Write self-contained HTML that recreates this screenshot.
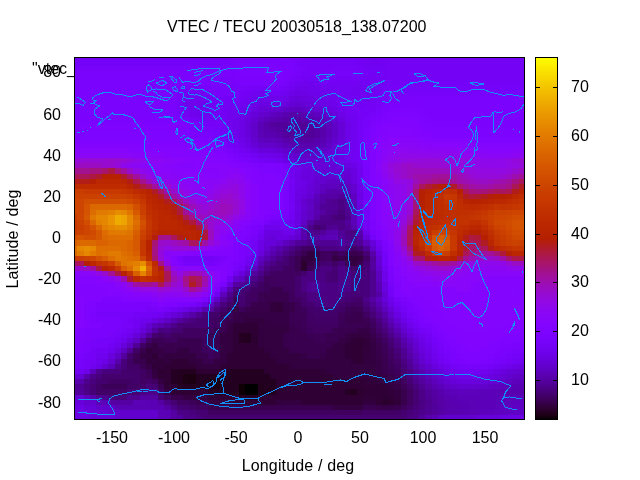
<!DOCTYPE html>
<html><head><meta charset="utf-8">
<style>
html,body{margin:0;padding:0;background:#fff;}
body{width:640px;height:480px;position:relative;overflow:hidden;font-family:"Liberation Sans",sans-serif;font-size:16px;color:#000;}
.t{position:absolute;white-space:nowrap;line-height:16px;height:16px;will-change:transform;}
.r{text-align:right;width:60px;left:1px;}
.c{text-align:center;width:80px;}
</style></head><body>
<div class="t" id="title" style="left:167px;top:19px;">VTEC / TECU 20030518_138.07200</div>
<div class="t" id="key" style="left:32px;top:61px;">"vtec_</div>
<div class="t r" style="top:63.9px;">80</div>
<div class="t r" style="top:106.6px;">60</div>
<div class="t r" style="top:147.7px;">40</div>
<div class="t r" style="top:188.9px;">20</div>
<div class="t r" style="top:230.0px;">0</div>
<div class="t r" style="top:271.1px;">-20</div>
<div class="t r" style="top:312.3px;">-40</div>
<div class="t r" style="top:353.4px;">-60</div>
<div class="t r" style="top:394.5px;">-80</div>
<div class="t c" style="left:71.8px;top:430px;">-150</div>
<div class="t c" style="left:133.9px;top:430px;">-100</div>
<div class="t c" style="left:196.1px;top:430px;">-50</div>
<div class="t c" style="left:258.3px;top:430px;">0</div>
<div class="t c" style="left:320.4px;top:430px;">50</div>
<div class="t c" style="left:382.6px;top:430px;">100</div>
<div class="t c" style="left:444.7px;top:430px;">150</div>
<div class="t" style="left:571px;top:372.0px;">10</div>
<div class="t" style="left:571px;top:323.2px;">20</div>
<div class="t" style="left:571px;top:274.4px;">30</div>
<div class="t" style="left:571px;top:225.6px;">40</div>
<div class="t" style="left:571px;top:176.8px;">50</div>
<div class="t" style="left:571px;top:128.0px;">60</div>
<div class="t" style="left:571px;top:79.2px;">70</div>
<div class="t c" style="left:198px;width:200px;top:458px;letter-spacing:0.15px;">Longitude / deg</div>
<div class="t c" style="left:-87px;width:200px;top:230.5px;letter-spacing:0.15px;transform:rotate(-90deg);">Latitude / deg</div>
<svg width="640" height="480" style="position:absolute;left:0;top:0">
<defs><linearGradient id="cb" x1="0" y1="1" x2="0" y2="0"><stop offset="0.0000" stop-color="#000000"/><stop offset="0.0135" stop-color="#1e0016"/><stop offset="0.0270" stop-color="#2a002b"/><stop offset="0.0405" stop-color="#330040"/><stop offset="0.0541" stop-color="#3b0055"/><stop offset="0.0676" stop-color="#420069"/><stop offset="0.0811" stop-color="#49007c"/><stop offset="0.0946" stop-color="#4e008f"/><stop offset="0.1081" stop-color="#5400a0"/><stop offset="0.1216" stop-color="#5900b0"/><stop offset="0.1351" stop-color="#5e01bf"/><stop offset="0.1486" stop-color="#6201cd"/><stop offset="0.1622" stop-color="#6701d9"/><stop offset="0.1757" stop-color="#6b01e4"/><stop offset="0.1892" stop-color="#6f02ed"/><stop offset="0.2027" stop-color="#7302f4"/><stop offset="0.2162" stop-color="#7703f9"/><stop offset="0.2297" stop-color="#7a03fd"/><stop offset="0.2432" stop-color="#7e04ff"/><stop offset="0.2568" stop-color="#8104ff"/><stop offset="0.2703" stop-color="#8505fd"/><stop offset="0.2838" stop-color="#8806f9"/><stop offset="0.2973" stop-color="#8b07f4"/><stop offset="0.3108" stop-color="#8e08ed"/><stop offset="0.3243" stop-color="#9109e4"/><stop offset="0.3378" stop-color="#940ad9"/><stop offset="0.3514" stop-color="#970bcd"/><stop offset="0.3649" stop-color="#9a0cbf"/><stop offset="0.3784" stop-color="#9d0eb0"/><stop offset="0.3919" stop-color="#a00fa0"/><stop offset="0.4054" stop-color="#a2118f"/><stop offset="0.4189" stop-color="#a5137c"/><stop offset="0.4324" stop-color="#a81569"/><stop offset="0.4459" stop-color="#aa1755"/><stop offset="0.4595" stop-color="#ad1940"/><stop offset="0.4730" stop-color="#af1b2b"/><stop offset="0.4865" stop-color="#b21d16"/><stop offset="0.5000" stop-color="#b42000"/><stop offset="0.5135" stop-color="#b72300"/><stop offset="0.5270" stop-color="#b92500"/><stop offset="0.5405" stop-color="#bb2800"/><stop offset="0.5541" stop-color="#be2b00"/><stop offset="0.5676" stop-color="#c02f00"/><stop offset="0.5811" stop-color="#c23200"/><stop offset="0.5946" stop-color="#c53600"/><stop offset="0.6081" stop-color="#c73900"/><stop offset="0.6216" stop-color="#c93d00"/><stop offset="0.6351" stop-color="#cb4100"/><stop offset="0.6486" stop-color="#cd4600"/><stop offset="0.6622" stop-color="#d04a00"/><stop offset="0.6757" stop-color="#d24f00"/><stop offset="0.6892" stop-color="#d45300"/><stop offset="0.7027" stop-color="#d65800"/><stop offset="0.7162" stop-color="#d85e00"/><stop offset="0.7297" stop-color="#da6300"/><stop offset="0.7432" stop-color="#dc6900"/><stop offset="0.7568" stop-color="#de6f00"/><stop offset="0.7703" stop-color="#e07500"/><stop offset="0.7838" stop-color="#e27b00"/><stop offset="0.7973" stop-color="#e48100"/><stop offset="0.8108" stop-color="#e68800"/><stop offset="0.8243" stop-color="#e88f00"/><stop offset="0.8378" stop-color="#e99600"/><stop offset="0.8514" stop-color="#eb9d00"/><stop offset="0.8649" stop-color="#eda500"/><stop offset="0.8784" stop-color="#efad00"/><stop offset="0.8919" stop-color="#f1b500"/><stop offset="0.9054" stop-color="#f3bd00"/><stop offset="0.9189" stop-color="#f4c600"/><stop offset="0.9324" stop-color="#f6cf00"/><stop offset="0.9459" stop-color="#f8d800"/><stop offset="0.9595" stop-color="#fae100"/><stop offset="0.9730" stop-color="#fceb00"/><stop offset="0.9865" stop-color="#fdf500"/><stop offset="1.0000" stop-color="#ffff00"/></linearGradient></defs>
<g shape-rendering="crispEdges">
<path fill="#7302f5" d="M74 57h3v3h-3zM77 57h7v3h-7zM84 57h6v3h-6zM90 57h6v3h-6zM96 57h6v3h-6zM102 57h6v3h-6zM108 57h7v3h-7zM115 57h6v3h-6zM121 57h6v3h-6zM127 57h6v3h-6zM133 57h7v3h-7zM140 57h6v3h-6zM146 57h6v3h-6zM152 57h6v3h-6zM158 57h6v3h-6zM164 57h7v3h-7zM171 57h6v3h-6zM177 57h6v3h-6zM183 57h6v3h-6zM189 57h7v3h-7zM196 57h6v3h-6zM202 57h6v3h-6zM208 57h6v3h-6zM214 57h6v3h-6zM357 60h6v6h-6zM382 60h6v6h-6zM363 66h7v5h-7zM382 66h6v5h-6zM370 71h6v5h-6zM376 71h6v5h-6zM382 76h6v5h-6zM245 91h6v5h-6zM376 91h6v5h-6zM227 96h6v6h-6zM220 102h7v5h-7zM220 107h7v5h-7zM220 112h7v5h-7zM208 117h6v5h-6zM220 117h7v5h-7zM239 148h6v5h-6zM264 158h6v5h-6zM289 184h6v5h-6zM270 220h6v5h-6zM251 240h7v6h-7zM376 240h6v6h-6zM251 246h7v5h-7zM196 302h6v5h-6zM96 348h6v5h-6zM102 348h6v5h-6z"/>
<path fill="#7402f5" d="M220 57h7v3h-7zM307 57h7v3h-7zM314 57h6v3h-6zM320 57h6v3h-6zM388 57h6v3h-6zM394 57h7v3h-7zM401 57h6v3h-6zM407 57h6v3h-6zM413 57h6v3h-6zM419 57h6v3h-6zM425 57h7v3h-7zM432 57h6v3h-6zM438 57h6v3h-6zM444 57h6v3h-6zM450 57h7v3h-7zM457 57h6v3h-6zM463 57h6v3h-6zM469 57h6v3h-6zM475 57h6v3h-6zM481 57h7v3h-7zM488 57h6v3h-6zM494 57h6v3h-6zM500 57h6v3h-6zM506 57h6v3h-6zM512 57h7v3h-7zM519 57h6v3h-6zM388 60h6v6h-6zM394 60h7v6h-7zM401 60h6v6h-6zM407 60h6v6h-6zM413 60h6v6h-6zM419 60h6v6h-6zM425 60h7v6h-7zM432 60h6v6h-6zM438 60h6v6h-6zM444 60h6v6h-6zM450 60h7v6h-7zM457 60h6v6h-6zM463 60h6v6h-6zM469 60h6v6h-6zM475 60h6v6h-6zM481 60h7v6h-7zM488 60h6v6h-6zM494 60h6v6h-6zM500 60h6v6h-6zM506 60h6v6h-6zM512 60h7v6h-7zM519 60h6v6h-6zM388 66h6v5h-6zM394 66h7v5h-7zM401 66h6v5h-6zM407 66h6v5h-6zM413 66h6v5h-6zM419 66h6v5h-6zM425 66h7v5h-7zM432 66h6v5h-6zM438 66h6v5h-6zM444 66h6v5h-6zM450 66h7v5h-7zM457 66h6v5h-6zM463 66h6v5h-6zM469 66h6v5h-6zM475 66h6v5h-6zM481 66h7v5h-7zM488 66h6v5h-6zM494 66h6v5h-6zM500 66h6v5h-6zM506 66h6v5h-6zM512 66h7v5h-7zM519 66h6v5h-6zM382 71h6v5h-6zM388 71h6v5h-6zM394 71h7v5h-7zM401 71h6v5h-6zM407 71h6v5h-6zM413 71h6v5h-6zM419 71h6v5h-6zM425 71h7v5h-7zM432 71h6v5h-6zM438 71h6v5h-6zM444 71h6v5h-6zM450 71h7v5h-7zM457 71h6v5h-6zM463 71h6v5h-6zM469 71h6v5h-6zM475 71h6v5h-6zM481 71h7v5h-7zM488 71h6v5h-6zM494 71h6v5h-6zM500 71h6v5h-6zM506 71h6v5h-6zM512 71h7v5h-7zM519 71h6v5h-6zM388 76h6v5h-6zM394 76h7v5h-7zM401 76h6v5h-6zM407 76h6v5h-6zM413 76h6v5h-6zM419 76h6v5h-6zM425 76h7v5h-7zM432 76h6v5h-6zM438 76h6v5h-6zM444 76h6v5h-6zM450 76h7v5h-7zM457 76h6v5h-6zM463 76h6v5h-6zM469 76h6v5h-6zM475 76h6v5h-6zM481 76h7v5h-7zM488 76h6v5h-6zM494 76h6v5h-6zM500 76h6v5h-6zM506 76h6v5h-6zM512 76h7v5h-7zM519 76h6v5h-6zM289 81h6v5h-6zM388 81h6v5h-6zM394 81h7v5h-7zM258 86h6v5h-6zM283 86h6v5h-6zM233 96h6v6h-6zM370 102h6v5h-6zM357 112h6v5h-6zM220 122h7v5h-7zM220 127h7v5h-7zM289 179h6v5h-6zM289 204h6v6h-6zM363 225h7v5h-7zM208 256h6v5h-6zM245 256h6v5h-6zM239 266h6v5h-6zM413 323h6v5h-6zM432 343h6v5h-6zM90 348h6v5h-6zM438 353h6v6h-6zM519 353h6v6h-6zM90 359h6v5h-6zM450 364h7v5h-7z"/>
<path fill="#7502f7" d="M227 57h6v3h-6zM301 60h6v6h-6zM307 66h7v5h-7zM314 66h6v5h-6zM320 66h6v5h-6zM357 66h6v5h-6zM307 71h7v5h-7zM314 71h6v5h-6zM320 71h6v5h-6zM326 76h6v5h-6zM332 76h6v5h-6zM338 76h7v5h-7zM345 76h6v5h-6zM351 76h6v5h-6zM264 86h6v5h-6zM208 91h6v5h-6zM239 91h6v5h-6zM177 96h6v6h-6zM214 96h6v6h-6zM177 107h6v5h-6zM370 107h6v5h-6zM189 117h7v5h-7zM214 122h6v5h-6zM357 148h6v5h-6zM363 204h7v6h-7zM127 318h6v5h-6zM425 333h7v5h-7zM90 353h6v6h-6zM84 359h6v5h-6zM506 359h6v5h-6zM84 364h6v5h-6zM488 364h6v5h-6z"/>
<path fill="#7703f9" d="M233 57h6v3h-6zM332 71h6v5h-6zM351 71h6v5h-6zM289 76h6v5h-6zM239 86h6v5h-6zM270 86h6v5h-6zM214 91h6v5h-6zM382 91h6v5h-6zM370 112h6v5h-6zM220 138h7v5h-7zM283 163h6v5h-6zM152 307h6v5h-6zM407 312h6v6h-6zM121 323h6v5h-6zM127 323h6v5h-6zM115 328h6v5h-6zM108 333h7v5h-7zM90 338h6v5h-6zM96 343h6v5h-6zM102 343h6v5h-6zM500 359h6v5h-6zM74 364h3v5h-3z"/>
<path fill="#7803fb" d="M239 57h6v3h-6zM245 57h6v3h-6zM251 57h7v3h-7zM258 57h6v3h-6zM264 57h6v3h-6zM270 57h6v3h-6zM289 57h6v3h-6zM233 60h6v6h-6zM227 66h6v5h-6zM220 76h7v5h-7zM227 76h6v5h-6zM220 81h7v5h-7zM233 81h6v5h-6zM214 86h6v5h-6zM388 91h6v5h-6zM394 91h7v5h-7zM401 91h6v5h-6zM407 91h6v5h-6zM413 91h6v5h-6zM419 91h6v5h-6zM425 91h7v5h-7zM432 91h6v5h-6zM438 91h6v5h-6zM444 91h6v5h-6zM450 91h7v5h-7zM457 91h6v5h-6zM463 91h6v5h-6zM469 91h6v5h-6zM475 91h6v5h-6zM481 91h7v5h-7zM488 91h6v5h-6zM494 91h6v5h-6zM500 91h6v5h-6zM506 91h6v5h-6zM512 91h7v5h-7zM519 91h6v5h-6zM382 96h6v6h-6zM363 122h7v5h-7zM239 153h6v5h-6zM363 184h7v5h-7zM283 215h6v5h-6zM264 220h6v5h-6zM388 282h6v5h-6zM401 302h6v5h-6zM96 312h6v6h-6zM102 312h6v6h-6zM108 312h7v6h-7zM115 312h6v6h-6zM121 312h6v6h-6zM127 312h6v6h-6zM413 318h6v5h-6zM425 328h7v5h-7zM438 343h6v5h-6zM512 348h7v5h-7zM444 353h6v6h-6zM74 359h3v5h-3zM494 359h6v5h-6zM469 364h6v5h-6z"/>
<path fill="#7903fc" d="M276 57h7v3h-7zM283 57h6v3h-6zM289 60h6v6h-6zM289 66h6v5h-6zM74 71h3v5h-3zM77 71h7v5h-7zM84 71h6v5h-6zM90 71h6v5h-6zM96 71h6v5h-6zM102 71h6v5h-6zM108 71h7v5h-7zM115 71h6v5h-6zM121 71h6v5h-6zM127 71h6v5h-6zM133 71h7v5h-7zM140 71h6v5h-6zM146 71h6v5h-6zM152 71h6v5h-6zM158 71h6v5h-6zM164 71h7v5h-7zM171 71h6v5h-6zM177 71h6v5h-6zM183 71h6v5h-6zM189 71h7v5h-7zM196 71h6v5h-6zM202 71h6v5h-6zM208 71h6v5h-6zM214 71h6v5h-6zM220 71h7v5h-7zM227 71h6v5h-6zM289 71h6v5h-6zM74 76h3v5h-3zM77 76h7v5h-7zM84 76h6v5h-6zM90 76h6v5h-6zM96 76h6v5h-6zM102 76h6v5h-6zM108 76h7v5h-7zM115 76h6v5h-6zM121 76h6v5h-6zM127 76h6v5h-6zM133 76h7v5h-7zM140 76h6v5h-6zM146 76h6v5h-6zM152 76h6v5h-6zM158 76h6v5h-6zM164 76h7v5h-7zM171 76h6v5h-6zM177 76h6v5h-6zM183 76h6v5h-6zM189 76h7v5h-7zM196 76h6v5h-6zM202 76h6v5h-6zM208 76h6v5h-6zM214 76h6v5h-6zM283 76h6v5h-6zM74 81h3v5h-3zM77 81h7v5h-7zM84 81h6v5h-6zM90 81h6v5h-6zM96 81h6v5h-6zM102 81h6v5h-6zM108 81h7v5h-7zM115 81h6v5h-6zM121 81h6v5h-6zM127 81h6v5h-6zM133 81h7v5h-7zM140 81h6v5h-6zM146 81h6v5h-6zM152 81h6v5h-6zM158 81h6v5h-6zM164 81h7v5h-7zM171 81h6v5h-6zM177 81h6v5h-6zM183 81h6v5h-6zM189 81h7v5h-7zM196 81h6v5h-6zM202 81h6v5h-6zM208 81h6v5h-6zM214 81h6v5h-6zM239 81h6v5h-6zM245 81h6v5h-6zM251 81h7v5h-7zM258 81h6v5h-6zM74 86h3v5h-3zM77 86h7v5h-7zM84 86h6v5h-6zM90 86h6v5h-6zM96 86h6v5h-6zM102 86h6v5h-6zM108 86h7v5h-7zM115 86h6v5h-6zM121 86h6v5h-6zM127 86h6v5h-6zM133 86h7v5h-7zM140 86h6v5h-6zM146 86h6v5h-6zM152 86h6v5h-6zM158 86h6v5h-6zM164 86h7v5h-7zM171 86h6v5h-6zM74 91h3v5h-3zM77 91h7v5h-7zM84 91h6v5h-6zM90 91h6v5h-6zM96 91h6v5h-6zM102 91h6v5h-6zM108 91h7v5h-7zM115 91h6v5h-6zM121 91h6v5h-6zM127 91h6v5h-6zM133 91h7v5h-7zM140 91h6v5h-6zM146 91h6v5h-6zM152 91h6v5h-6zM158 91h6v5h-6zM164 91h7v5h-7zM171 91h6v5h-6zM74 96h3v6h-3zM77 96h7v6h-7zM84 96h6v6h-6zM90 96h6v6h-6zM96 96h6v6h-6zM102 96h6v6h-6zM108 96h7v6h-7zM115 96h6v6h-6zM121 96h6v6h-6zM127 96h6v6h-6zM133 96h7v6h-7zM140 96h6v6h-6zM146 96h6v6h-6zM152 96h6v6h-6zM158 96h6v6h-6zM164 96h7v6h-7zM171 96h6v6h-6zM388 96h6v6h-6zM419 96h6v6h-6zM425 96h7v6h-7zM432 96h6v6h-6zM438 96h6v6h-6zM444 96h6v6h-6zM450 96h7v6h-7zM457 96h6v6h-6zM463 96h6v6h-6zM469 96h6v6h-6zM475 96h6v6h-6zM481 96h7v6h-7zM488 96h6v6h-6zM494 96h6v6h-6zM500 96h6v6h-6zM506 96h6v6h-6zM512 96h7v6h-7zM519 96h6v6h-6zM74 102h3v5h-3zM77 102h7v5h-7zM84 102h6v5h-6zM90 102h6v5h-6zM96 102h6v5h-6zM102 102h6v5h-6zM108 102h7v5h-7zM115 102h6v5h-6zM121 102h6v5h-6zM127 102h6v5h-6zM133 102h7v5h-7zM140 102h6v5h-6zM146 102h6v5h-6zM152 102h6v5h-6zM158 102h6v5h-6zM164 102h7v5h-7zM171 102h6v5h-6zM382 102h6v5h-6zM74 107h3v5h-3zM77 107h7v5h-7zM84 107h6v5h-6zM90 107h6v5h-6zM96 107h6v5h-6zM102 107h6v5h-6zM108 107h7v5h-7zM115 107h6v5h-6zM121 107h6v5h-6zM127 107h6v5h-6zM133 107h7v5h-7zM140 107h6v5h-6zM146 107h6v5h-6zM152 107h6v5h-6zM158 107h6v5h-6zM164 107h7v5h-7zM171 107h6v5h-6zM74 112h3v5h-3zM77 112h7v5h-7zM84 112h6v5h-6zM90 112h6v5h-6zM96 112h6v5h-6zM102 112h6v5h-6zM108 112h7v5h-7zM115 112h6v5h-6zM121 112h6v5h-6zM127 112h6v5h-6zM133 112h7v5h-7zM140 112h6v5h-6zM146 112h6v5h-6zM152 112h6v5h-6zM158 112h6v5h-6zM164 112h7v5h-7zM171 112h6v5h-6zM376 112h6v5h-6zM177 117h6v5h-6zM189 122h7v5h-7zM363 127h7v5h-7zM196 132h6v6h-6zM202 132h6v6h-6zM208 132h6v6h-6zM363 132h7v6h-7zM220 143h7v5h-7zM227 148h6v5h-6zM283 168h6v6h-6zM363 174h7v5h-7zM283 179h6v5h-6zM363 179h7v5h-7zM283 184h6v5h-6zM283 189h6v5h-6zM283 194h6v5h-6zM283 199h6v5h-6zM276 215h7v5h-7zM388 276h6v6h-6zM220 282h7v5h-7zM96 307h6v5h-6zM102 307h6v5h-6zM108 307h7v5h-7zM115 307h6v5h-6zM121 307h6v5h-6zM127 307h6v5h-6zM133 307h7v5h-7zM140 307h6v5h-6zM407 307h6v5h-6zM108 318h7v5h-7zM115 318h6v5h-6zM419 323h6v5h-6zM432 333h6v5h-6zM84 343h6v5h-6zM84 348h6v5h-6zM77 353h7v6h-7zM500 353h6v6h-6zM450 359h7v5h-7z"/>
<path fill="#7602f8" d="M295 57h6v3h-6zM301 66h6v5h-6zM332 66h6v5h-6zM338 66h7v5h-7zM345 66h6v5h-6zM351 66h6v5h-6zM326 71h6v5h-6zM357 71h6v5h-6zM245 86h6v5h-6zM388 86h6v5h-6zM394 86h7v5h-7zM177 91h6v5h-6zM227 91h6v5h-6zM233 91h6v5h-6zM376 102h6v5h-6zM177 112h6v5h-6zM196 122h6v5h-6zM233 148h6v5h-6zM245 153h6v5h-6zM363 199h7v5h-7zM363 210h7v5h-7zM363 215h7v5h-7zM146 307h6v5h-6zM438 348h6v5h-6zM444 359h6v5h-6z"/>
<path fill="#7402f6" d="M301 57h6v3h-6zM307 60h7v6h-7zM314 60h6v6h-6zM320 60h6v6h-6zM326 60h6v6h-6zM332 60h6v6h-6zM338 60h7v6h-7zM345 60h6v6h-6zM351 60h6v6h-6zM363 71h7v5h-7zM295 76h6v5h-6zM320 76h6v5h-6zM357 76h6v5h-6zM401 81h6v5h-6zM407 81h6v5h-6zM413 81h6v5h-6zM419 81h6v5h-6zM425 81h7v5h-7zM432 81h6v5h-6zM438 81h6v5h-6zM444 81h6v5h-6zM450 81h7v5h-7zM457 81h6v5h-6zM463 81h6v5h-6zM469 81h6v5h-6zM475 81h6v5h-6zM481 81h7v5h-7zM488 81h6v5h-6zM494 81h6v5h-6zM500 81h6v5h-6zM506 81h6v5h-6zM512 81h7v5h-7zM519 81h6v5h-6zM251 86h7v5h-7zM382 86h6v5h-6zM376 96h6v6h-6zM177 102h6v5h-6zM363 107h7v5h-7zM214 117h6v5h-6zM357 117h6v5h-6zM357 122h6v5h-6zM357 127h6v5h-6zM220 132h7v6h-7zM357 132h6v6h-6zM357 138h6v5h-6zM357 143h6v5h-6zM258 158h6v5h-6zM363 220h7v5h-7zM258 230h6v5h-6zM183 256h6v5h-6zM189 256h7v5h-7zM196 256h6v5h-6zM202 256h6v5h-6zM388 292h6v5h-6zM401 307h6v5h-6zM133 312h7v6h-7zM140 312h6v6h-6zM146 312h6v6h-6zM419 328h6v5h-6z"/>
<path fill="#7302f4" d="M326 57h6v3h-6zM332 57h6v3h-6zM338 57h7v3h-7zM345 57h6v3h-6zM382 57h6v3h-6zM301 76h6v5h-6zM314 76h6v5h-6zM363 76h7v5h-7zM376 76h6v5h-6zM320 81h6v5h-6zM326 81h6v5h-6zM332 81h6v5h-6zM338 81h7v5h-7zM345 81h6v5h-6zM351 81h6v5h-6zM382 81h6v5h-6zM202 91h6v5h-6zM208 96h6v6h-6zM239 96h6v6h-6zM214 102h6v5h-6zM345 102h6v5h-6zM351 102h6v5h-6zM363 102h7v5h-7zM214 107h6v5h-6zM351 107h6v5h-6zM357 107h6v5h-6zM214 112h6v5h-6zM233 143h6v5h-6zM289 189h6v5h-6zM289 194h6v5h-6zM289 199h6v5h-6zM289 210h6v5h-6zM227 276h6v6h-6zM394 302h7v5h-7zM171 307h6v5h-6zM133 318h7v5h-7zM407 318h6v5h-6zM133 323h7v5h-7zM127 328h6v5h-6zM121 333h6v5h-6zM115 338h6v5h-6zM108 343h7v5h-7zM469 369h6v5h-6z"/>
<path fill="#7202f3" d="M351 57h6v3h-6zM370 66h6v5h-6zM376 66h6v5h-6zM307 76h7v5h-7zM376 86h6v5h-6zM270 91h6v5h-6zM276 91h7v5h-7zM357 102h6v5h-6zM351 112h6v5h-6zM202 117h6v5h-6zM227 138h6v5h-6zM251 153h7v5h-7zM351 153h6v5h-6zM270 158h6v5h-6zM276 220h7v5h-7zM152 312h6v6h-6zM512 359h7v5h-7zM494 364h6v5h-6z"/>
<path fill="#7202f2" d="M357 57h6v3h-6zM363 60h7v6h-7zM357 81h6v5h-6zM370 81h6v5h-6zM376 81h6v5h-6zM332 86h6v5h-6zM338 86h7v5h-7zM345 86h6v5h-6zM183 91h6v5h-6zM189 91h7v5h-7zM196 91h6v5h-6zM345 96h6v6h-6zM351 96h6v6h-6zM370 96h6v6h-6zM227 102h6v5h-6zM233 102h6v5h-6zM345 107h6v5h-6zM183 112h6v5h-6zM196 117h6v5h-6zM351 158h6v5h-6zM289 163h6v5h-6zM357 163h6v5h-6zM289 215h6v5h-6zM283 220h6v5h-6zM208 297h6v5h-6zM425 338h7v5h-7zM432 348h6v5h-6zM74 369h3v5h-3zM77 369h7v5h-7zM463 369h6v5h-6zM475 369h6v5h-6z"/>
<path fill="#7002ee" d="M363 57h7v3h-7zM301 81h6v5h-6zM320 86h6v5h-6zM189 96h7v6h-7zM196 96h6v6h-6zM332 96h6v6h-6zM233 107h6v5h-6zM189 112h7v5h-7zM227 112h6v5h-6zM227 117h6v5h-6zM227 122h6v5h-6zM239 143h6v5h-6zM276 158h7v5h-7zM233 271h6v5h-6zM432 353h6v6h-6z"/>
<path fill="#6e02ec" d="M370 57h6v3h-6zM251 96h7v6h-7zM264 225h6v5h-6zM270 225h6v5h-6z"/>
<path fill="#7002ef" d="M376 57h6v3h-6zM370 60h6v6h-6zM289 86h6v5h-6zM357 86h6v5h-6zM363 86h7v5h-7zM357 91h6v5h-6zM363 91h7v5h-7zM183 96h6v6h-6zM183 107h6v5h-6zM351 122h6v5h-6zM227 127h6v5h-6zM351 127h6v5h-6zM227 132h6v6h-6zM351 132h6v6h-6zM233 138h6v5h-6zM351 138h6v5h-6zM351 143h6v5h-6zM345 153h6v5h-6zM258 235h6v5h-6zM251 251h7v5h-7zM245 261h6v5h-6zM96 359h6v5h-6zM500 364h6v5h-6z"/>
<path fill="#7502f8" d="M74 60h3v6h-3zM77 60h7v6h-7zM84 60h6v6h-6zM90 60h6v6h-6zM96 60h6v6h-6zM102 60h6v6h-6zM108 60h7v6h-7zM115 60h6v6h-6zM121 60h6v6h-6zM127 60h6v6h-6zM133 60h7v6h-7zM140 60h6v6h-6zM146 60h6v6h-6zM152 60h6v6h-6zM158 60h6v6h-6zM164 60h7v6h-7zM171 60h6v6h-6zM177 60h6v6h-6zM183 60h6v6h-6zM189 60h7v6h-7zM196 60h6v6h-6zM202 60h6v6h-6zM208 60h6v6h-6zM214 60h6v6h-6zM220 60h7v6h-7zM326 66h6v5h-6zM301 71h6v5h-6zM183 86h6v5h-6zM189 86h7v5h-7zM196 86h6v5h-6zM220 96h7v6h-7zM363 112h7v5h-7zM202 122h6v5h-6zM208 122h6v5h-6zM227 143h6v5h-6zM357 153h6v5h-6zM357 158h6v5h-6zM363 189h7v5h-7zM363 194h7v5h-7zM382 256h6v5h-6zM382 261h6v5h-6zM388 287h6v5h-6zM512 353h7v6h-7z"/>
<path fill="#7603f9" d="M227 60h6v6h-6zM295 60h6v6h-6zM202 86h6v5h-6zM227 86h6v5h-6zM233 86h6v5h-6zM276 86h7v5h-7zM401 86h6v5h-6zM407 86h6v5h-6zM413 86h6v5h-6zM419 86h6v5h-6zM425 86h7v5h-7zM432 86h6v5h-6zM438 86h6v5h-6zM444 86h6v5h-6zM450 86h7v5h-7zM457 86h6v5h-6zM463 86h6v5h-6zM469 86h6v5h-6zM475 86h6v5h-6zM481 86h7v5h-7zM488 86h6v5h-6zM494 86h6v5h-6zM500 86h6v5h-6zM506 86h6v5h-6zM512 86h7v5h-7zM519 86h6v5h-6zM214 127h6v5h-6zM370 235h6v5h-6zM382 251h6v5h-6zM164 307h7v5h-7zM121 328h6v5h-6zM115 333h6v5h-6zM96 338h6v5h-6zM102 338h6v5h-6zM108 338h7v5h-7zM84 353h6v6h-6zM77 364h7v5h-7zM457 364h6v5h-6z"/>
<path fill="#7a03fc" d="M239 60h6v6h-6zM233 76h6v5h-6zM394 96h7v6h-7zM401 96h6v6h-6zM407 96h6v6h-6zM413 96h6v6h-6zM370 117h6v5h-6zM363 138h7v5h-7zM233 153h6v5h-6z"/>
<path fill="#7a03fd" d="M245 60h6v6h-6zM251 60h7v6h-7zM258 60h6v6h-6zM264 60h6v6h-6zM270 60h6v6h-6zM276 60h7v6h-7zM283 60h6v6h-6zM233 66h6v5h-6zM264 81h6v5h-6zM276 81h7v5h-7zM425 102h7v5h-7zM432 102h6v5h-6zM438 102h6v5h-6zM444 102h6v5h-6zM450 102h7v5h-7zM457 102h6v5h-6zM463 102h6v5h-6zM469 102h6v5h-6zM475 102h6v5h-6zM481 102h7v5h-7zM488 102h6v5h-6zM494 102h6v5h-6zM500 102h6v5h-6zM506 102h6v5h-6zM512 102h7v5h-7zM519 102h6v5h-6zM189 127h7v5h-7zM214 138h6v5h-6zM363 143h7v5h-7zM363 148h7v5h-7zM245 158h6v5h-6zM363 163h7v5h-7zM363 168h7v6h-7zM283 204h6v6h-6zM283 210h6v5h-6zM270 215h6v5h-6zM382 246h6v5h-6zM158 307h6v5h-6zM102 318h6v5h-6zM102 323h6v5h-6zM108 323h7v5h-7zM115 323h6v5h-6zM90 328h6v5h-6zM96 328h6v5h-6zM102 328h6v5h-6zM108 328h7v5h-7zM90 333h6v5h-6zM96 333h6v5h-6zM102 333h6v5h-6zM438 338h6v5h-6zM519 343h6v5h-6zM444 348h6v5h-6zM506 348h6v5h-6zM74 353h3v6h-3zM450 353h7v6h-7zM488 359h6v5h-6z"/>
<path fill="#7102f1" d="M376 60h6v6h-6zM295 81h6v5h-6zM351 86h6v5h-6zM332 91h6v5h-6zM338 91h7v5h-7zM345 91h6v5h-6zM370 91h6v5h-6zM202 96h6v6h-6zM245 96h6v6h-6zM338 96h7v6h-7zM363 96h7v6h-7zM208 102h6v5h-6zM338 102h7v5h-7zM208 107h6v5h-6zM208 112h6v5h-6zM351 117h6v5h-6zM351 148h6v5h-6zM289 168h6v6h-6zM289 225h6v5h-6zM382 266h6v5h-6zM214 292h6v5h-6zM158 312h6v6h-6zM401 312h6v6h-6z"/>
<path fill="#7703fa" d="M74 66h3v5h-3zM77 66h7v5h-7zM84 66h6v5h-6zM90 66h6v5h-6zM96 66h6v5h-6zM102 66h6v5h-6zM108 66h7v5h-7zM115 66h6v5h-6zM121 66h6v5h-6zM127 66h6v5h-6zM133 66h7v5h-7zM140 66h6v5h-6zM146 66h6v5h-6zM152 66h6v5h-6zM158 66h6v5h-6zM164 66h7v5h-7zM171 66h6v5h-6zM177 66h6v5h-6zM183 66h6v5h-6zM189 66h7v5h-7zM196 66h6v5h-6zM202 66h6v5h-6zM208 66h6v5h-6zM214 66h6v5h-6zM220 66h7v5h-7zM295 66h6v5h-6zM295 71h6v5h-6zM338 71h7v5h-7zM345 71h6v5h-6zM227 81h6v5h-6zM283 81h6v5h-6zM177 86h6v5h-6zM208 86h6v5h-6zM220 91h7v5h-7zM183 117h6v5h-6zM363 117h7v5h-7zM202 127h6v5h-6zM208 127h6v5h-6zM214 132h6v6h-6zM251 158h7v5h-7zM258 225h6v5h-6zM251 235h7v5h-7zM245 240h6v6h-6zM245 246h6v5h-6zM245 251h6v5h-6zM214 256h6v5h-6zM202 261h6v5h-6zM208 261h6v5h-6zM233 266h6v5h-6zM394 297h7v5h-7zM189 302h7v5h-7zM121 318h6v5h-6zM90 343h6v5h-6zM519 348h6v5h-6zM506 353h6v6h-6zM77 359h7v5h-7zM463 364h6v5h-6zM481 364h7v5h-7z"/>
<path fill="#7b03fe" d="M239 66h6v5h-6zM245 66h6v5h-6zM251 66h7v5h-7zM258 66h6v5h-6zM276 66h7v5h-7zM264 76h6v5h-6zM276 76h7v5h-7zM270 81h6v5h-6zM394 102h7v5h-7zM401 102h6v5h-6zM407 102h6v5h-6zM425 112h7v5h-7zM432 117h6v5h-6zM438 117h6v5h-6zM444 117h6v5h-6zM450 117h7v5h-7zM457 117h6v5h-6zM463 117h6v5h-6zM469 117h6v5h-6zM475 117h6v5h-6zM481 117h7v5h-7zM488 117h6v5h-6zM494 117h6v5h-6zM500 117h6v5h-6zM506 117h6v5h-6zM512 117h7v5h-7zM519 117h6v5h-6zM481 122h7v5h-7zM488 122h6v5h-6zM494 122h6v5h-6zM500 122h6v5h-6zM506 122h6v5h-6zM512 122h7v5h-7zM519 122h6v5h-6zM189 132h7v6h-7zM177 256h6v5h-6zM96 302h6v5h-6zM146 302h6v5h-6zM407 302h6v5h-6zM425 323h7v5h-7zM500 348h6v5h-6zM457 359h6v5h-6z"/>
<path fill="#7c03fe" d="M264 66h6v5h-6zM270 66h6v5h-6zM239 71h6v5h-6zM245 71h6v5h-6zM251 71h7v5h-7zM258 71h6v5h-6zM276 71h7v5h-7zM270 76h6v5h-6zM388 107h6v5h-6zM413 107h6v5h-6zM419 107h6v5h-6zM382 112h6v5h-6zM419 112h6v5h-6zM376 117h6v5h-6zM425 117h7v5h-7zM370 122h6v5h-6zM432 122h6v5h-6zM438 122h6v5h-6zM444 122h6v5h-6zM450 122h7v5h-7zM457 122h6v5h-6zM463 122h6v5h-6zM469 122h6v5h-6zM475 122h6v5h-6zM475 127h6v5h-6zM481 127h7v5h-7zM488 127h6v5h-6zM494 127h6v5h-6zM500 127h6v5h-6zM506 127h6v5h-6zM512 127h7v5h-7zM519 127h6v5h-6zM481 132h7v6h-7zM488 132h6v6h-6zM494 132h6v6h-6zM500 132h6v6h-6zM506 132h6v6h-6zM512 132h7v6h-7zM519 132h6v6h-6zM208 138h6v5h-6zM227 153h6v5h-6zM239 158h6v5h-6zM363 158h7v5h-7zM276 163h7v5h-7zM276 168h7v6h-7zM370 220h6v5h-6zM370 225h6v5h-6zM382 240h6v6h-6zM388 271h6v5h-6zM102 297h6v5h-6zM108 297h7v5h-7zM115 297h6v5h-6zM152 302h6v5h-6zM413 307h6v5h-6zM90 312h6v6h-6zM419 318h6v5h-6zM84 328h6v5h-6zM432 328h6v5h-6zM84 333h6v5h-6zM438 333h6v5h-6zM77 338h7v5h-7zM519 338h6v5h-6zM77 343h7v5h-7zM444 343h6v5h-6zM506 343h6v5h-6zM77 348h7v5h-7zM450 348h7v5h-7zM488 353h6v6h-6zM463 359h6v5h-6zM481 359h7v5h-7z"/>
<path fill="#7b03fd" d="M283 66h6v5h-6zM233 71h6v5h-6zM283 71h6v5h-6zM239 76h6v5h-6zM245 76h6v5h-6zM251 76h7v5h-7zM258 76h6v5h-6zM388 102h6v5h-6zM413 102h6v5h-6zM419 102h6v5h-6zM382 107h6v5h-6zM425 107h7v5h-7zM432 107h6v5h-6zM438 107h6v5h-6zM444 107h6v5h-6zM450 107h7v5h-7zM457 107h6v5h-6zM463 107h6v5h-6zM469 107h6v5h-6zM475 107h6v5h-6zM481 107h7v5h-7zM488 107h6v5h-6zM494 107h6v5h-6zM500 107h6v5h-6zM506 107h6v5h-6zM512 107h7v5h-7zM519 107h6v5h-6zM432 112h6v5h-6zM438 112h6v5h-6zM444 112h6v5h-6zM450 112h7v5h-7zM457 112h6v5h-6zM463 112h6v5h-6zM469 112h6v5h-6zM475 112h6v5h-6zM481 112h7v5h-7zM488 112h6v5h-6zM494 112h6v5h-6zM500 112h6v5h-6zM506 112h6v5h-6zM512 112h7v5h-7zM519 112h6v5h-6zM74 117h3v5h-3zM77 117h7v5h-7zM84 117h6v5h-6zM90 117h6v5h-6zM96 117h6v5h-6zM102 117h6v5h-6zM108 117h7v5h-7zM115 117h6v5h-6zM121 117h6v5h-6zM127 117h6v5h-6zM133 117h7v5h-7zM140 117h6v5h-6zM146 117h6v5h-6zM152 117h6v5h-6zM158 117h6v5h-6zM164 117h7v5h-7zM171 117h6v5h-6zM363 153h7v5h-7zM251 225h7v5h-7zM251 230h7v5h-7zM370 230h6v5h-6zM245 235h6v5h-6zM239 240h6v6h-6zM239 246h6v5h-6zM239 251h6v5h-6zM220 256h7v5h-7zM239 256h6v5h-6zM214 261h6v5h-6zM233 261h6v5h-6zM401 297h6v5h-6zM102 302h6v5h-6zM108 302h7v5h-7zM115 302h6v5h-6zM121 302h6v5h-6zM127 302h6v5h-6zM133 302h7v5h-7zM140 302h6v5h-6zM177 302h6v5h-6zM183 302h6v5h-6zM413 312h6v6h-6zM96 318h6v5h-6zM512 343h7v5h-7zM494 353h6v6h-6z"/>
<path fill="#7d03fe" d="M264 71h6v5h-6zM394 107h7v5h-7zM401 107h6v5h-6zM407 107h6v5h-6zM74 122h3v5h-3zM77 122h7v5h-7zM84 122h6v5h-6zM90 122h6v5h-6zM96 122h6v5h-6zM102 122h6v5h-6zM108 122h7v5h-7zM115 122h6v5h-6zM121 122h6v5h-6zM127 122h6v5h-6zM133 122h7v5h-7zM140 122h6v5h-6zM146 122h6v5h-6zM152 122h6v5h-6zM158 122h6v5h-6zM164 122h7v5h-7zM171 122h6v5h-6zM177 122h6v5h-6zM183 122h6v5h-6zM74 127h3v5h-3zM77 127h7v5h-7zM84 127h6v5h-6zM90 127h6v5h-6zM96 127h6v5h-6zM102 127h6v5h-6zM108 127h7v5h-7zM115 127h6v5h-6zM121 127h6v5h-6zM127 127h6v5h-6zM133 127h7v5h-7zM140 127h6v5h-6zM146 127h6v5h-6zM152 127h6v5h-6zM158 127h6v5h-6zM164 127h7v5h-7zM171 127h6v5h-6zM177 127h6v5h-6zM183 127h6v5h-6zM469 127h6v5h-6zM475 132h6v6h-6zM202 138h6v5h-6zM214 143h6v5h-6zM220 148h7v5h-7zM258 163h6v5h-6zM276 210h7v5h-7zM264 215h6v5h-6zM388 266h6v5h-6zM214 287h6v5h-6zM90 318h6v5h-6zM494 348h6v5h-6zM457 353h6v6h-6z"/>
<path fill="#7d04fe" d="M270 71h6v5h-6zM425 122h7v5h-7zM74 132h3v6h-3zM77 132h7v6h-7zM84 132h6v6h-6zM90 132h6v6h-6zM96 132h6v6h-6zM102 132h6v6h-6zM108 132h7v6h-7zM115 132h6v6h-6zM121 132h6v6h-6zM127 132h6v6h-6zM133 132h7v6h-7zM140 132h6v6h-6zM146 132h6v6h-6zM152 132h6v6h-6zM158 132h6v6h-6zM164 132h7v6h-7zM171 132h6v6h-6zM177 132h6v6h-6zM183 132h6v6h-6zM276 174h7v5h-7zM90 307h6v5h-6zM475 359h6v5h-6z"/>
<path fill="#7302f3" d="M370 76h6v5h-6z"/>
<path fill="#6f02ee" d="M307 81h7v5h-7zM289 220h6v5h-6zM388 297h6v5h-6zM177 307h6v5h-6zM140 318h6v5h-6zM108 348h7v5h-7z"/>
<path fill="#7102f0" d="M314 81h6v5h-6zM326 86h6v5h-6zM370 86h6v5h-6zM251 91h7v5h-7zM283 91h6v5h-6zM351 91h6v5h-6zM357 96h6v6h-6zM239 102h6v5h-6zM227 107h6v5h-6zM345 112h6v5h-6zM357 168h6v6h-6zM289 174h6v5h-6zM357 174h6v5h-6zM419 333h6v5h-6zM96 353h6v6h-6zM102 353h6v6h-6zM444 364h6v5h-6zM457 369h6v5h-6zM481 369h7v5h-7z"/>
<path fill="#7102f2" d="M363 81h7v5h-7zM283 225h6v5h-6zM438 359h6v5h-6z"/>
<path fill="#7803fa" d="M220 86h7v5h-7zM376 107h6v5h-6zM196 127h6v5h-6zM183 261h6v5h-6zM189 261h7v5h-7zM196 261h6v5h-6zM239 261h6v5h-6zM475 364h6v5h-6z"/>
<path fill="#6d02e9" d="M295 86h6v5h-6zM289 91h6v5h-6zM307 91h7v5h-7zM264 96h6v6h-6zM326 102h6v5h-6zM239 138h6v5h-6zM270 153h6v5h-6zM295 174h6v5h-6zM295 179h6v5h-6zM425 348h7v5h-7zM438 364h6v5h-6zM84 369h6v5h-6zM475 374h6v5h-6z"/>
<path fill="#6d02e8" d="M301 86h6v5h-6zM245 107h6v5h-6zM239 112h6v5h-6zM338 112h7v5h-7zM345 138h6v5h-6zM345 143h6v5h-6zM351 163h6v5h-6zM295 184h6v5h-6zM419 338h6v5h-6zM432 359h6v5h-6zM457 374h6v5h-6z"/>
<path fill="#6e02ea" d="M307 86h7v5h-7zM326 96h6v6h-6zM189 102h7v5h-7zM196 102h6v5h-6zM196 107h6v5h-6zM196 112h6v5h-6zM233 112h6v5h-6zM233 117h6v5h-6zM233 122h6v5h-6zM233 127h6v5h-6zM295 168h6v6h-6zM283 230h6v5h-6zM382 271h6v5h-6zM382 276h6v6h-6zM146 318h6v5h-6zM407 323h6v5h-6zM506 364h6v5h-6zM463 374h6v5h-6z"/>
<path fill="#6f02ec" d="M314 86h6v5h-6zM258 91h6v5h-6zM189 107h7v5h-7zM239 107h6v5h-6zM345 117h6v5h-6zM345 148h6v5h-6zM258 153h6v5h-6zM276 225h7v5h-7z"/>
<path fill="#7002f0" d="M264 91h6v5h-6zM245 148h6v5h-6zM519 359h6v5h-6zM90 364h6v5h-6z"/>
<path fill="#6b01e3" d="M295 91h6v5h-6zM245 112h6v5h-6zM338 148h7v5h-7zM295 199h6v5h-6zM276 230h7v5h-7zM283 235h6v5h-6zM425 353h7v6h-7zM450 374h7v5h-7zM74 410h3v5h-3zM77 410h7v5h-7zM84 410h6v5h-6zM74 415h3v5h-3zM77 415h7v5h-7zM84 415h6v5h-6zM506 415h6v5h-6zM512 415h7v5h-7zM519 415h6v5h-6z"/>
<path fill="#6b01e5" d="M301 91h6v5h-6zM320 102h6v5h-6zM276 153h7v5h-7zM283 158h6v5h-6zM357 199h6v5h-6zM202 302h6v5h-6zM183 307h6v5h-6zM140 323h6v5h-6zM444 369h6v5h-6z"/>
<path fill="#6d02ea" d="M314 91h6v5h-6zM320 91h6v5h-6z"/>
<path fill="#6f02ed" d="M326 91h6v5h-6zM202 102h6v5h-6zM245 102h6v5h-6zM332 102h6v5h-6zM202 107h6v5h-6zM338 107h7v5h-7zM202 112h6v5h-6zM345 158h6v5h-6zM357 179h6v5h-6zM376 246h6v5h-6zM394 307h7v5h-7zM133 328h7v5h-7zM413 328h6v5h-6zM127 333h6v5h-6zM121 338h6v5h-6zM115 343h6v5h-6zM425 343h7v5h-7z"/>
<path fill="#6c01e7" d="M258 96h6v6h-6zM320 96h6v6h-6zM251 102h7v5h-7zM332 107h6v5h-6zM251 148h7v5h-7zM357 189h6v5h-6zM258 240h6v6h-6zM258 246h6v5h-6zM401 318h6v5h-6zM96 364h6v5h-6z"/>
<path fill="#6e02eb" d="M270 96h6v6h-6zM276 96h7v6h-7zM183 102h6v5h-6zM233 132h6v6h-6zM264 153h6v5h-6zM289 230h6v5h-6zM363 230h7v5h-7zM450 369h7v5h-7zM488 369h6v5h-6zM469 374h6v5h-6z"/>
<path fill="#6d02e7" d="M283 96h6v6h-6z"/>
<path fill="#6901df" d="M289 96h6v6h-6zM245 117h6v5h-6zM338 143h7v5h-7zM307 168h7v6h-7zM301 174h6v5h-6zM108 353h7v6h-7z"/>
<path fill="#6701d9" d="M295 96h6v6h-6zM258 107h6v5h-6zM251 143h7v5h-7zM332 148h6v5h-6zM289 158h6v5h-6zM270 235h6v5h-6zM270 240h6v6h-6zM227 282h6v5h-6zM382 297h6v5h-6zM481 379h7v5h-7zM84 405h6v5h-6zM90 405h6v5h-6zM90 410h6v5h-6zM96 410h6v5h-6zM102 410h6v5h-6zM90 415h6v5h-6zM96 415h6v5h-6zM102 415h6v5h-6zM108 415h7v5h-7zM481 415h7v5h-7zM488 415h6v5h-6zM494 415h6v5h-6z"/>
<path fill="#6801dc" d="M301 96h6v6h-6zM283 102h6v5h-6zM338 138h7v5h-7zM264 148h6v5h-6zM338 163h7v5h-7zM258 251h6v5h-6zM251 261h7v5h-7zM419 348h6v5h-6zM444 374h6v5h-6z"/>
<path fill="#6a01e1" d="M307 96h7v6h-7zM258 102h6v5h-6zM251 107h7v5h-7zM338 117h7v5h-7zM345 163h6v5h-6zM301 168h6v6h-6zM351 168h6v6h-6zM295 215h6v5h-6zM407 328h6v5h-6zM519 364h6v5h-6z"/>
<path fill="#6b01e4" d="M314 96h6v6h-6zM239 122h6v5h-6zM239 127h6v5h-6zM239 132h6v6h-6zM301 184h6v5h-6zM295 194h6v5h-6zM357 194h6v5h-6zM388 302h6v5h-6zM164 312h7v6h-7zM413 333h6v5h-6zM494 369h6v5h-6zM74 405h3v5h-3zM77 405h7v5h-7z"/>
<path fill="#6901e0" d="M264 102h6v5h-6zM270 102h6v5h-6zM276 102h7v5h-7zM314 102h6v5h-6zM326 107h6v5h-6zM245 138h6v5h-6zM332 158h6v5h-6zM295 220h6v5h-6zM376 251h6v5h-6zM382 282h6v5h-6zM382 287h6v5h-6zM488 374h6v5h-6zM500 415h6v5h-6z"/>
<path fill="#6501d4" d="M289 102h6v5h-6zM301 102h6v5h-6zM320 168h6v6h-6zM326 168h6v6h-6zM332 168h6v6h-6zM338 168h7v6h-7zM314 174h6v5h-6zM301 204h6v6h-6zM382 292h6v5h-6zM158 318h6v5h-6zM394 318h7v5h-7zM407 333h6v5h-6zM419 353h6v6h-6zM74 374h3v5h-3zM77 374h7v5h-7zM488 379h6v5h-6z"/>
<path fill="#6301d0" d="M295 102h6v5h-6zM326 148h6v5h-6zM289 153h6v5h-6zM301 158h6v5h-6zM307 158h7v5h-7zM301 215h6v5h-6zM146 323h6v5h-6zM432 369h6v5h-6zM457 384h6v5h-6zM469 384h6v5h-6z"/>
<path fill="#6701da" d="M307 102h7v5h-7zM245 122h6v5h-6zM245 127h6v5h-6zM245 132h6v6h-6zM326 158h6v5h-6zM314 163h6v5h-6zM289 235h6v5h-6zM171 312h6v6h-6zM401 323h6v5h-6zM140 328h6v5h-6zM133 333h7v5h-7zM127 338h6v5h-6zM121 343h6v5h-6z"/>
<path fill="#6501d5" d="M264 107h6v5h-6zM320 158h6v5h-6zM376 256h6v5h-6zM376 261h6v5h-6zM500 374h6v5h-6zM475 415h6v5h-6z"/>
<path fill="#6401d2" d="M270 107h6v5h-6zM314 107h6v5h-6zM251 117h7v5h-7zM320 153h6v5h-6zM295 158h6v5h-6zM314 158h6v5h-6zM345 174h6v5h-6zM314 179h6v5h-6zM307 194h7v5h-7zM102 364h6v5h-6z"/>
<path fill="#6301cf" d="M276 107h7v5h-7zM320 179h6v5h-6zM314 184h6v5h-6zM351 189h6v5h-6zM276 240h7v6h-7zM233 276h6v6h-6zM196 307h6v5h-6zM519 369h6v5h-6zM506 374h6v5h-6zM494 379h6v5h-6zM84 400h6v5h-6zM90 400h6v5h-6z"/>
<path fill="#6101c8" d="M283 107h6v5h-6zM512 374h7v5h-7z"/>
<path fill="#5e01c1" d="M289 107h6v5h-6zM270 112h6v5h-6zM314 112h6v5h-6zM314 148h6v5h-6zM307 210h7v5h-7zM307 215h7v5h-7zM264 251h6v5h-6zM251 266h7v5h-7zM140 333h6v5h-6zM133 338h7v5h-7zM127 343h6v5h-6zM506 405h6v5h-6zM500 410h6v5h-6z"/>
<path fill="#5d01be" d="M295 107h6v5h-6zM401 333h6v5h-6zM512 400h7v5h-7zM488 410h6v5h-6z"/>
<path fill="#5f01c5" d="M301 107h6v5h-6z"/>
<path fill="#6201cc" d="M307 107h7v5h-7zM258 143h6v5h-6zM283 148h6v5h-6zM314 153h6v5h-6zM376 266h6v5h-6z"/>
<path fill="#6601d8" d="M320 107h6v5h-6zM338 122h7v5h-7zM338 127h7v5h-7zM338 132h7v6h-7zM326 153h6v5h-6zM345 168h6v6h-6zM295 230h6v5h-6zM388 307h6v5h-6zM413 338h6v5h-6zM506 369h6v5h-6zM450 379h7v5h-7z"/>
<path fill="#6701db" d="M251 112h7v5h-7zM270 148h6v5h-6zM283 153h6v5h-6zM307 184h7v5h-7zM363 235h7v5h-7zM264 240h6v6h-6zM370 240h6v6h-6zM189 307h7v5h-7zM438 369h6v5h-6zM494 374h6v5h-6zM74 400h3v5h-3zM77 400h7v5h-7z"/>
<path fill="#6401d1" d="M258 112h6v5h-6zM251 138h7v5h-7zM320 174h6v5h-6zM326 174h6v5h-6zM332 174h6v5h-6zM338 174h7v5h-7zM351 184h6v5h-6zM301 199h6v5h-6zM301 210h6v5h-6zM264 246h6v5h-6zM413 343h6v5h-6zM108 359h7v5h-7zM425 364h7v5h-7zM438 374h6v5h-6zM444 379h6v5h-6zM463 384h6v5h-6z"/>
<path fill="#6101c9" d="M264 112h6v5h-6zM251 122h7v5h-7zM251 127h7v5h-7zM270 143h6v5h-6zM295 153h6v5h-6zM413 348h6v5h-6z"/>
<path fill="#5c01ba" d="M276 112h7v5h-7zM320 117h6v5h-6zM320 143h6v5h-6zM314 194h6v5h-6zM183 312h6v6h-6zM388 318h6v5h-6zM152 323h6v5h-6zM407 343h6v5h-6zM450 389h7v6h-7zM481 389h7v6h-7zM475 395h6v5h-6zM481 395h7v5h-7zM512 395h7v5h-7zM519 395h6v5h-6zM494 400h6v5h-6zM488 405h6v5h-6z"/>
<path fill="#5900b0" d="M283 112h6v5h-6zM270 117h6v5h-6zM227 287h6v5h-6zM376 302h6v5h-6zM419 369h6v5h-6zM450 400h7v5h-7z"/>
<path fill="#5700aa" d="M289 112h6v5h-6zM295 112h6v5h-6zM332 189h6v5h-6zM382 312h6v6h-6z"/>
<path fill="#5900b1" d="M301 112h6v5h-6zM270 132h6v6h-6zM332 230h6v5h-6zM407 348h6v5h-6zM432 384h6v5h-6zM506 389h6v6h-6zM457 410h6v5h-6z"/>
<path fill="#5c01b9" d="M307 112h7v5h-7zM264 117h6v5h-6zM326 122h6v5h-6zM326 127h6v5h-6zM326 132h6v6h-6zM283 143h6v5h-6zM345 189h6v5h-6zM363 240h7v6h-7zM90 369h6v5h-6zM519 379h6v5h-6zM488 389h6v6h-6zM463 395h6v5h-6zM469 395h6v5h-6zM488 395h6v5h-6zM500 395h6v5h-6zM506 395h6v5h-6zM481 400h7v5h-7zM488 400h6v5h-6zM481 405h7v5h-7z"/>
<path fill="#6001c7" d="M320 112h6v5h-6zM326 117h6v5h-6zM332 122h6v5h-6zM332 127h6v5h-6zM332 132h6v6h-6zM326 143h6v5h-6zM320 148h6v5h-6zM301 153h6v5h-6zM307 153h7v5h-7zM115 353h6v6h-6zM438 379h6v5h-6zM519 410h6v5h-6z"/>
<path fill="#6401d3" d="M326 112h6v5h-6zM512 369h7v5h-7zM74 395h3v5h-3zM77 395h7v5h-7z"/>
<path fill="#6901de" d="M332 112h6v5h-6zM351 174h6v5h-6zM295 225h6v5h-6zM245 266h6v5h-6zM432 364h6v5h-6zM500 369h6v5h-6zM457 379h6v5h-6zM463 379h6v5h-6zM469 379h6v5h-6z"/>
<path fill="#7e04ff" d="M388 112h6v5h-6zM394 112h7v5h-7zM401 112h6v5h-6zM407 112h6v5h-6zM413 112h6v5h-6zM382 117h6v5h-6zM376 122h6v5h-6zM419 122h6v5h-6zM425 127h7v5h-7zM432 127h6v5h-6zM438 127h6v5h-6zM444 127h6v5h-6zM450 127h7v5h-7zM457 127h6v5h-6zM370 132h6v6h-6zM469 132h6v6h-6zM189 138h7v5h-7zM208 143h6v5h-6zM233 158h6v5h-6zM258 168h6v6h-6zM370 189h6v5h-6zM370 194h6v5h-6zM370 199h6v5h-6zM270 210h6v5h-6zM258 220h6v5h-6zM245 230h6v5h-6zM239 235h6v5h-6zM233 246h6v5h-6zM233 251h6v5h-6zM227 256h6v5h-6zM233 256h6v5h-6zM177 261h6v5h-6zM220 261h7v5h-7zM227 261h6v5h-6zM227 266h6v5h-6zM394 287h7v5h-7zM394 292h7v5h-7zM407 297h6v5h-6zM164 302h7v5h-7zM171 302h6v5h-6zM413 302h6v5h-6zM84 307h6v5h-6zM419 312h6v6h-6zM84 318h6v5h-6zM425 318h7v5h-7zM90 323h6v5h-6zM96 323h6v5h-6zM432 323h6v5h-6zM438 328h6v5h-6zM519 333h6v5h-6zM444 338h6v5h-6zM506 338h6v5h-6zM450 343h7v5h-7zM494 343h6v5h-6zM457 348h6v5h-6zM488 348h6v5h-6zM463 353h6v6h-6zM475 353h6v6h-6zM481 353h7v6h-7zM469 359h6v5h-6z"/>
<path fill="#6c01e6" d="M239 117h6v5h-6zM338 153h7v5h-7zM338 158h7v5h-7zM295 163h6v5h-6zM301 179h6v5h-6zM295 189h6v5h-6zM295 204h6v6h-6zM251 256h7v5h-7zM102 359h6v5h-6zM512 364h7v5h-7zM481 374h7v5h-7z"/>
<path fill="#5f01c3" d="M258 117h6v5h-6zM276 143h7v5h-7zM289 148h6v5h-6zM258 256h6v5h-6zM519 374h6v5h-6zM506 379h6v5h-6z"/>
<path fill="#5700ab" d="M276 117h7v5h-7zM320 122h6v5h-6zM320 127h6v5h-6zM320 132h6v6h-6zM283 138h6v5h-6zM314 138h6v5h-6zM338 189h7v5h-7zM314 204h6v6h-6zM301 230h6v5h-6zM370 251h6v5h-6zM115 359h6v5h-6zM413 364h6v5h-6zM444 410h6v5h-6z"/>
<path fill="#5500a5" d="M283 117h6v5h-6zM432 389h6v6h-6zM140 395h6v5h-6zM438 410h6v5h-6z"/>
<path fill="#5400a1" d="M289 117h6v5h-6zM295 117h6v5h-6zM314 122h6v5h-6zM276 127h7v5h-7zM314 127h6v5h-6zM314 132h6v6h-6zM314 235h6v5h-6zM164 323h7v5h-7zM432 395h6v5h-6z"/>
<path fill="#5600a6" d="M301 117h6v5h-6zM270 127h6v5h-6zM289 138h6v5h-6zM314 215h6v5h-6zM438 400h6v5h-6z"/>
<path fill="#5700ac" d="M307 117h7v5h-7zM444 405h6v5h-6z"/>
<path fill="#5a00b3" d="M314 117h6v5h-6zM320 138h6v5h-6zM314 143h6v5h-6zM301 225h6v5h-6zM320 235h6v5h-6zM258 261h6v5h-6zM171 318h6v5h-6zM519 384h6v5h-6zM500 389h6v6h-6zM457 405h6v5h-6z"/>
<path fill="#6501d3" d="M332 117h6v5h-6zM332 143h6v5h-6z"/>
<path fill="#7f04ff" d="M388 117h6v5h-6zM413 117h6v5h-6zM432 132h6v6h-6zM438 132h6v6h-6zM444 132h6v6h-6zM450 132h7v6h-7zM457 132h6v6h-6zM463 132h6v6h-6zM74 138h3v5h-3zM77 138h7v5h-7zM84 138h6v5h-6zM90 138h6v5h-6zM96 138h6v5h-6zM102 138h6v5h-6zM108 138h7v5h-7zM115 138h6v5h-6zM121 138h6v5h-6zM127 138h6v5h-6zM133 138h7v5h-7zM140 138h6v5h-6zM146 138h6v5h-6zM152 138h6v5h-6zM158 138h6v5h-6zM164 138h7v5h-7zM171 138h6v5h-6zM177 138h6v5h-6zM183 138h6v5h-6zM370 138h6v5h-6zM475 138h6v5h-6zM481 138h7v5h-7zM488 138h6v5h-6zM494 138h6v5h-6zM500 138h6v5h-6zM506 138h6v5h-6zM512 138h7v5h-7zM519 138h6v5h-6zM214 148h6v5h-6zM370 184h6v5h-6zM370 204h6v6h-6zM370 210h6v5h-6zM370 215h6v5h-6zM251 220h7v5h-7zM245 225h6v5h-6zM239 230h6v5h-6zM376 230h6v5h-6zM233 240h6v6h-6zM394 282h7v5h-7zM84 302h6v5h-6zM90 302h6v5h-6zM419 307h6v5h-6zM77 328h7v5h-7zM77 333h7v5h-7zM444 333h6v5h-6zM506 333h6v5h-6zM512 333h7v5h-7zM450 338h7v5h-7zM500 338h6v5h-6zM457 343h6v5h-6zM488 343h6v5h-6zM463 348h6v5h-6zM481 348h7v5h-7zM469 353h6v6h-6z"/>
<path fill="#8004ff" d="M394 117h7v5h-7zM401 117h6v5h-6zM407 117h6v5h-6zM382 122h6v5h-6zM413 122h6v5h-6zM376 127h6v5h-6zM419 127h6v5h-6zM425 132h7v6h-7zM202 143h6v5h-6zM370 143h6v5h-6zM370 148h6v5h-6zM220 153h7v5h-7zM227 158h6v5h-6zM264 174h6v5h-6zM370 174h6v5h-6zM276 179h7v5h-7zM370 179h6v5h-6zM276 184h7v5h-7zM276 189h7v5h-7zM276 194h7v5h-7zM276 199h7v5h-7zM276 204h7v6h-7zM264 210h6v5h-6zM388 251h6v5h-6zM388 256h6v5h-6zM388 261h6v5h-6zM220 276h7v6h-7zM208 292h6v5h-6zM84 297h6v5h-6zM90 297h6v5h-6zM96 297h6v5h-6zM121 297h6v5h-6zM127 297h6v5h-6zM133 297h7v5h-7zM140 297h6v5h-6zM146 297h6v5h-6zM413 297h6v5h-6zM158 302h6v5h-6zM425 312h7v6h-7zM432 318h6v5h-6zM84 323h6v5h-6zM438 323h6v5h-6zM444 328h6v5h-6zM512 328h7v5h-7zM519 328h6v5h-6zM450 333h7v5h-7zM500 333h6v5h-6zM494 338h6v5h-6zM463 343h6v5h-6zM469 348h6v5h-6zM475 348h6v5h-6z"/>
<path fill="#7d04ff" d="M419 117h6v5h-6zM370 127h6v5h-6zM463 127h6v5h-6zM196 138h6v5h-6zM251 163h7v5h-7zM264 163h6v5h-6zM270 163h6v5h-6zM264 168h6v6h-6zM270 168h6v6h-6zM376 235h6v5h-6zM227 271h6v5h-6zM202 297h6v5h-6zM84 312h6v6h-6zM74 338h3v5h-3zM512 338h7v5h-7zM74 343h3v5h-3zM500 343h6v5h-6zM74 348h3v5h-3z"/>
<path fill="#5a01b5" d="M258 122h6v5h-6zM258 127h6v5h-6zM394 328h7v5h-7zM152 400h6v5h-6zM463 400h6v5h-6zM121 405h6v5h-6zM127 405h6v5h-6zM133 405h7v5h-7zM140 405h6v5h-6zM146 405h6v5h-6zM152 405h6v5h-6zM158 405h6v5h-6zM164 410h7v5h-7zM164 415h7v5h-7zM432 415h6v5h-6z"/>
<path fill="#5700a9" d="M264 122h6v5h-6zM276 132h7v6h-7zM438 395h6v5h-6z"/>
<path fill="#53009c" d="M270 122h6v5h-6zM432 410h6v5h-6z"/>
<path fill="#52009a" d="M276 122h7v5h-7zM283 122h6v5h-6zM289 132h6v6h-6zM320 230h6v5h-6zM295 240h6v6h-6zM270 256h6v5h-6zM239 282h6v5h-6z"/>
<path fill="#510098" d="M289 122h6v5h-6zM295 122h6v5h-6zM301 122h6v5h-6zM307 122h7v5h-7zM295 127h6v5h-6zM301 127h6v5h-6zM307 127h7v5h-7zM301 132h6v6h-6zM307 132h7v6h-7zM388 328h6v5h-6zM146 333h6v5h-6zM425 389h7v6h-7zM419 415h6v5h-6z"/>
<path fill="#6c02e7" d="M345 122h6v5h-6zM345 127h6v5h-6zM345 132h6v6h-6zM357 184h6v5h-6z"/>
<path fill="#8104ff" d="M388 122h6v5h-6zM394 122h7v5h-7zM401 122h6v5h-6zM407 122h6v5h-6zM382 127h6v5h-6zM376 132h6v6h-6zM419 132h6v6h-6zM469 138h6v5h-6zM208 148h6v5h-6zM370 153h6v5h-6zM370 158h6v5h-6zM245 163h6v5h-6zM370 163h6v5h-6zM251 168h7v6h-7zM370 168h6v6h-6zM258 174h6v5h-6zM270 174h6v5h-6zM258 179h6v5h-6zM264 179h6v5h-6zM270 179h6v5h-6zM264 184h6v5h-6zM270 184h6v5h-6zM264 189h6v5h-6zM270 189h6v5h-6zM264 194h6v5h-6zM270 194h6v5h-6zM264 199h6v5h-6zM270 199h6v5h-6zM264 204h6v6h-6zM270 204h6v6h-6zM258 215h6v5h-6zM233 235h6v5h-6zM388 246h6v5h-6zM202 251h6v5h-6zM208 251h6v5h-6zM214 251h6v5h-6zM220 251h7v5h-7zM227 251h6v5h-6zM208 266h6v5h-6zM214 266h6v5h-6zM220 266h7v5h-7zM74 282h3v5h-3zM77 282h7v5h-7zM84 282h6v5h-6zM90 282h6v5h-6zM74 287h3v5h-3zM77 287h7v5h-7zM84 287h6v5h-6zM90 287h6v5h-6zM96 287h6v5h-6zM102 287h6v5h-6zM519 287h6v5h-6zM74 292h3v5h-3zM77 292h7v5h-7zM84 292h6v5h-6zM90 292h6v5h-6zM96 292h6v5h-6zM102 292h6v5h-6zM108 292h7v5h-7zM115 292h6v5h-6zM401 292h6v5h-6zM519 292h6v5h-6zM419 297h6v5h-6zM419 302h6v5h-6zM425 307h7v5h-7zM432 312h6v6h-6zM438 318h6v5h-6zM444 323h6v5h-6zM74 328h3v5h-3zM450 328h7v5h-7zM500 328h6v5h-6zM506 328h6v5h-6zM74 333h3v5h-3zM457 333h6v5h-6zM494 333h6v5h-6zM457 338h6v5h-6zM463 338h6v5h-6zM488 338h6v5h-6zM469 343h6v5h-6zM475 343h6v5h-6zM481 343h7v5h-7z"/>
<path fill="#5800ad" d="M264 127h6v5h-6zM301 143h6v5h-6zM307 143h7v5h-7zM326 230h6v5h-6zM401 338h6v5h-6zM74 379h3v5h-3zM77 379h7v5h-7zM425 379h7v5h-7zM519 389h6v6h-6z"/>
<path fill="#52009c" d="M283 127h6v5h-6zM413 369h6v5h-6z"/>
<path fill="#520099" d="M289 127h6v5h-6zM370 256h6v5h-6zM382 318h6v5h-6zM127 348h6v5h-6zM74 389h3v6h-3zM77 389h7v6h-7z"/>
<path fill="#8205fe" d="M388 127h6v5h-6zM463 138h6v5h-6zM481 143h7v5h-7zM488 143h6v5h-6zM494 143h6v5h-6zM500 143h6v5h-6zM506 143h6v5h-6zM512 143h7v5h-7zM519 143h6v5h-6zM220 158h7v5h-7zM245 168h6v6h-6zM251 179h7v5h-7zM251 215h7v5h-7zM376 220h6v5h-6zM233 230h6v5h-6zM512 287h7v5h-7zM419 292h6v5h-6zM512 292h7v5h-7zM425 297h7v5h-7zM432 302h6v5h-6zM438 307h6v5h-6zM444 312h6v6h-6zM450 318h7v5h-7zM457 323h6v5h-6zM494 323h6v5h-6zM500 323h6v5h-6zM463 328h6v5h-6zM469 328h6v5h-6zM475 328h6v5h-6zM481 328h7v5h-7z"/>
<path fill="#8305fe" d="M394 127h7v5h-7zM401 127h6v5h-6zM407 127h6v5h-6zM382 132h6v6h-6zM413 132h6v6h-6zM376 138h6v5h-6zM425 138h7v5h-7zM432 138h6v5h-6zM438 138h6v5h-6zM444 138h6v5h-6zM450 138h7v5h-7zM457 138h6v5h-6zM475 143h6v5h-6zM171 148h6v5h-6zM177 148h6v5h-6zM183 148h6v5h-6zM189 148h7v5h-7zM196 148h6v5h-6zM214 158h6v5h-6zM233 163h6v5h-6zM376 189h6v5h-6zM376 194h6v5h-6zM376 199h6v5h-6zM376 204h6v6h-6zM376 210h6v5h-6zM376 215h6v5h-6zM245 220h6v5h-6zM239 225h6v5h-6zM382 235h6v5h-6zM394 266h7v5h-7zM220 271h7v5h-7zM394 271h7v5h-7zM401 282h6v5h-6zM401 287h6v5h-6zM413 287h6v5h-6zM407 292h6v5h-6zM152 297h6v5h-6zM432 297h6v5h-6zM438 302h6v5h-6zM77 307h7v5h-7zM444 307h6v5h-6zM450 307h7v5h-7zM77 312h7v6h-7zM450 312h7v6h-7zM457 312h6v6h-6zM463 312h6v6h-6zM469 312h6v6h-6zM475 312h6v6h-6zM481 312h7v6h-7zM488 312h6v6h-6zM494 312h6v6h-6zM500 312h6v6h-6zM506 312h6v6h-6zM512 312h7v6h-7zM519 312h6v6h-6zM77 318h7v5h-7zM457 318h6v5h-6zM463 318h6v5h-6zM469 318h6v5h-6zM475 318h6v5h-6zM481 318h7v5h-7zM488 318h6v5h-6zM494 318h6v5h-6zM500 318h6v5h-6zM506 318h6v5h-6zM512 318h7v5h-7zM519 318h6v5h-6zM77 323h7v5h-7zM463 323h6v5h-6zM469 323h6v5h-6zM475 323h6v5h-6zM481 323h7v5h-7zM488 323h6v5h-6z"/>
<path fill="#8204ff" d="M413 127h6v5h-6zM74 143h3v5h-3zM77 143h7v5h-7zM84 143h6v5h-6zM90 143h6v5h-6zM96 143h6v5h-6zM102 143h6v5h-6zM108 143h7v5h-7zM115 143h6v5h-6zM121 143h6v5h-6zM127 143h6v5h-6zM133 143h7v5h-7zM140 143h6v5h-6zM146 143h6v5h-6zM152 143h6v5h-6zM158 143h6v5h-6zM164 143h7v5h-7zM171 143h6v5h-6zM177 143h6v5h-6zM183 143h6v5h-6zM189 143h7v5h-7zM196 143h6v5h-6zM239 163h6v5h-6zM251 174h7v5h-7zM258 184h6v5h-6zM258 189h6v5h-6zM258 194h6v5h-6zM258 199h6v5h-6zM258 204h6v6h-6zM258 210h6v5h-6zM227 235h6v5h-6zM227 246h6v5h-6zM171 256h6v5h-6zM394 276h7v6h-7zM425 302h7v5h-7zM432 307h6v5h-6zM438 312h6v6h-6zM444 318h6v5h-6zM450 323h7v5h-7zM512 323h7v5h-7zM519 323h6v5h-6zM457 328h6v5h-6zM494 328h6v5h-6zM463 333h6v5h-6zM488 333h6v5h-6zM469 338h6v5h-6zM475 338h6v5h-6zM481 338h7v5h-7z"/>
<path fill="#6101ca" d="M251 132h7v6h-7zM264 143h6v5h-6zM388 312h6v6h-6zM500 379h6v5h-6zM481 384h7v5h-7z"/>
<path fill="#5b01b6" d="M258 132h6v6h-6zM276 138h7v5h-7zM444 389h6v6h-6zM133 400h7v5h-7zM469 400h6v5h-6zM115 405h6v5h-6zM469 405h6v5h-6zM469 410h6v5h-6z"/>
<path fill="#5900b2" d="M264 132h6v6h-6zM289 143h6v5h-6zM202 307h6v5h-6z"/>
<path fill="#53009e" d="M283 132h6v6h-6zM370 261h6v5h-6zM370 266h6v5h-6zM208 307h6v5h-6zM376 307h6v5h-6zM177 318h6v5h-6z"/>
<path fill="#510099" d="M295 132h6v6h-6z"/>
<path fill="#8405fe" d="M388 132h6v6h-6zM164 148h7v5h-7zM171 153h6v5h-6zM177 153h6v5h-6zM183 153h6v5h-6zM189 153h7v5h-7zM196 153h6v5h-6zM202 153h6v5h-6zM208 153h6v5h-6zM376 184h6v5h-6zM214 282h6v5h-6zM438 297h6v5h-6zM77 302h7v5h-7zM444 302h6v5h-6zM457 307h6v5h-6zM463 307h6v5h-6zM469 307h6v5h-6zM475 307h6v5h-6zM481 307h7v5h-7zM488 307h6v5h-6zM494 307h6v5h-6zM500 307h6v5h-6zM506 307h6v5h-6zM512 307h7v5h-7zM519 307h6v5h-6z"/>
<path fill="#8405fd" d="M394 132h7v6h-7zM401 132h6v6h-6zM407 132h6v6h-6zM376 143h6v5h-6zM469 143h6v5h-6zM133 148h7v5h-7zM140 148h6v5h-6zM146 148h6v5h-6zM152 148h6v5h-6zM158 148h6v5h-6zM376 148h6v5h-6zM208 158h6v5h-6zM177 163h6v5h-6zM183 163h6v5h-6zM189 163h7v5h-7zM245 174h6v5h-6zM376 179h6v5h-6zM382 230h6v5h-6zM388 240h6v6h-6zM220 246h7v5h-7zM189 251h7v5h-7zM196 251h6v5h-6zM171 261h6v5h-6zM202 266h6v5h-6zM74 276h3v6h-3zM77 276h7v6h-7zM84 276h6v6h-6zM90 276h6v6h-6zM96 276h6v6h-6zM401 276h6v6h-6zM488 276h6v6h-6zM494 276h6v6h-6zM500 276h6v6h-6zM506 276h6v6h-6zM512 276h7v6h-7zM519 276h6v6h-6zM96 282h6v5h-6zM102 282h6v5h-6zM108 282h7v5h-7zM407 282h6v5h-6zM475 282h6v5h-6zM481 282h7v5h-7zM488 282h6v5h-6zM494 282h6v5h-6zM500 282h6v5h-6zM506 282h6v5h-6zM512 282h7v5h-7zM519 282h6v5h-6zM108 287h7v5h-7zM115 287h6v5h-6zM407 287h6v5h-6zM419 287h6v5h-6zM425 287h7v5h-7zM432 287h6v5h-6zM438 287h6v5h-6zM444 287h6v5h-6zM450 287h7v5h-7zM475 287h6v5h-6zM481 287h7v5h-7zM488 287h6v5h-6zM494 287h6v5h-6zM500 287h6v5h-6zM506 287h6v5h-6zM121 292h6v5h-6zM127 292h6v5h-6zM425 292h7v5h-7zM432 292h6v5h-6zM438 292h6v5h-6zM444 292h6v5h-6zM450 292h7v5h-7zM457 292h6v5h-6zM463 292h6v5h-6zM469 292h6v5h-6zM475 292h6v5h-6zM481 292h7v5h-7zM488 292h6v5h-6zM494 292h6v5h-6zM500 292h6v5h-6zM506 292h6v5h-6zM74 297h3v5h-3zM77 297h7v5h-7zM164 297h7v5h-7zM171 297h6v5h-6zM177 297h6v5h-6zM183 297h6v5h-6zM189 297h7v5h-7zM196 297h6v5h-6zM444 297h6v5h-6zM450 297h7v5h-7zM457 297h6v5h-6zM463 297h6v5h-6zM469 297h6v5h-6zM475 297h6v5h-6zM481 297h7v5h-7zM488 297h6v5h-6zM494 297h6v5h-6zM500 297h6v5h-6zM506 297h6v5h-6zM512 297h7v5h-7zM519 297h6v5h-6zM74 302h3v5h-3zM450 302h7v5h-7zM457 302h6v5h-6zM463 302h6v5h-6zM469 302h6v5h-6zM475 302h6v5h-6zM481 302h7v5h-7zM488 302h6v5h-6zM494 302h6v5h-6zM500 302h6v5h-6zM506 302h6v5h-6zM512 302h7v5h-7zM519 302h6v5h-6zM74 307h3v5h-3zM74 312h3v6h-3zM74 318h3v5h-3zM74 323h3v5h-3z"/>
<path fill="#5e01c0" d="M258 138h6v5h-6zM326 138h6v5h-6zM351 194h6v5h-6zM245 271h6v5h-6zM239 276h6v6h-6zM419 364h6v5h-6zM519 400h6v5h-6zM500 405h6v5h-6zM494 410h6v5h-6z"/>
<path fill="#5d01bd" d="M264 138h6v5h-6zM295 148h6v5h-6zM345 184h6v5h-6zM320 189h6v5h-6zM376 271h6v5h-6zM376 276h6v6h-6zM220 292h7v5h-7zM512 379h7v5h-7zM500 384h6v5h-6zM469 389h6v6h-6zM84 395h6v5h-6zM494 405h6v5h-6z"/>
<path fill="#5d01bc" d="M270 138h6v5h-6zM351 199h6v5h-6zM432 379h6v5h-6zM475 389h6v6h-6zM506 400h6v5h-6zM481 410h7v5h-7z"/>
<path fill="#5500a4" d="M295 138h6v5h-6zM326 194h6v5h-6zM332 194h6v5h-6zM345 194h6v5h-6zM320 199h6v5h-6zM357 235h6v5h-6zM376 292h6v5h-6zM438 405h6v5h-6z"/>
<path fill="#5500a3" d="M301 138h6v5h-6zM307 138h7v5h-7zM233 282h6v5h-6zM370 297h6v5h-6zM401 343h6v5h-6zM108 400h7v5h-7zM115 400h6v5h-6zM121 400h6v5h-6zM127 400h6v5h-6z"/>
<path fill="#6201cd" d="M332 138h6v5h-6zM345 179h6v5h-6zM295 235h6v5h-6zM475 384h6v5h-6zM96 405h6v5h-6zM102 405h6v5h-6zM108 405h7v5h-7zM108 410h7v5h-7zM115 410h6v5h-6zM121 410h6v5h-6zM127 410h6v5h-6zM133 410h7v5h-7zM140 410h6v5h-6zM146 410h6v5h-6zM152 410h6v5h-6zM115 415h6v5h-6zM121 415h6v5h-6zM127 415h6v5h-6zM133 415h7v5h-7zM140 415h6v5h-6zM146 415h6v5h-6zM152 415h6v5h-6zM444 415h6v5h-6zM450 415h7v5h-7zM457 415h6v5h-6zM463 415h6v5h-6zM469 415h6v5h-6z"/>
<path fill="#8505fc" d="M382 138h6v5h-6zM127 148h6v5h-6zM164 153h7v5h-7zM202 158h6v5h-6zM227 163h6v5h-6zM202 168h6v6h-6zM208 168h6v6h-6zM214 168h6v6h-6zM376 174h6v5h-6zM251 184h7v5h-7zM251 189h7v5h-7zM251 194h7v5h-7zM251 199h7v5h-7zM251 204h7v6h-7zM251 210h7v5h-7zM239 220h6v5h-6z"/>
<path fill="#8706fb" d="M388 138h6v5h-6zM432 143h6v5h-6zM438 143h6v5h-6zM444 143h6v5h-6zM450 143h7v5h-7zM457 143h6v5h-6zM475 148h6v5h-6zM177 158h6v5h-6zM376 163h6v5h-6zM382 189h6v5h-6zM382 194h6v5h-6zM382 199h6v5h-6zM382 204h6v6h-6zM382 210h6v5h-6zM382 215h6v5h-6zM382 220h6v5h-6zM401 266h6v5h-6zM214 271h6v5h-6zM401 271h6v5h-6zM214 276h6v6h-6zM407 276h6v6h-6zM457 287h6v5h-6z"/>
<path fill="#8706fa" d="M394 138h7v5h-7zM401 138h6v5h-6zM407 138h6v5h-6zM382 143h6v5h-6zM425 143h7v5h-7zM519 148h6v5h-6zM133 153h7v5h-7zM140 153h6v5h-6zM146 153h6v5h-6zM152 153h6v5h-6zM158 153h6v5h-6zM220 174h7v5h-7zM382 184h6v5h-6zM245 215h6v5h-6zM233 225h6v5h-6zM432 282h6v5h-6zM121 287h6v5h-6zM208 287h6v5h-6zM133 292h7v5h-7zM140 292h6v5h-6zM146 292h6v5h-6zM158 297h6v5h-6z"/>
<path fill="#8605fb" d="M413 138h6v5h-6zM74 148h3v5h-3zM77 148h7v5h-7zM84 148h6v5h-6zM90 148h6v5h-6zM96 148h6v5h-6zM102 148h6v5h-6zM108 148h7v5h-7zM115 148h6v5h-6zM121 148h6v5h-6zM481 148h7v5h-7zM376 158h6v5h-6zM164 163h7v5h-7zM171 168h6v6h-6zM220 168h7v6h-7zM376 168h6v6h-6zM177 174h6v5h-6zM202 174h6v5h-6zM382 225h6v5h-6zM394 256h7v5h-7zM394 261h7v5h-7z"/>
<path fill="#8505fd" d="M419 138h6v5h-6zM376 153h6v5h-6zM196 163h6v5h-6zM202 163h6v5h-6zM208 163h6v5h-6zM214 163h6v5h-6zM220 163h7v5h-7zM183 168h6v6h-6zM189 168h7v6h-7zM196 168h6v6h-6zM239 168h6v6h-6zM227 240h6v6h-6zM214 246h6v5h-6zM183 251h6v5h-6zM413 282h6v5h-6zM419 282h6v5h-6z"/>
<path fill="#6c01e5" d="M245 143h6v5h-6z"/>
<path fill="#5800ae" d="M295 143h6v5h-6zM326 189h6v5h-6zM351 225h6v5h-6zM301 235h6v5h-6zM289 240h6v6h-6zM276 246h7v5h-7zM270 251h6v5h-6zM264 256h6v5h-6zM158 323h6v5h-6zM438 389h6v6h-6zM450 410h7v5h-7zM425 415h7v5h-7z"/>
<path fill="#8906f7" d="M388 143h6v5h-6zM413 143h6v5h-6zM164 158h7v5h-7zM164 174h7v5h-7zM171 174h6v5h-6zM202 179h6v5h-6zM196 184h6v5h-6zM245 199h6v5h-6zM245 204h6v6h-6zM220 230h7v5h-7zM388 230h6v5h-6zM463 271h6v5h-6z"/>
<path fill="#8a06f6" d="M394 143h7v5h-7zM401 143h6v5h-6zM407 143h6v5h-6zM463 148h6v5h-6zM74 153h3v5h-3zM77 153h7v5h-7zM84 153h6v5h-6zM90 153h6v5h-6zM96 153h6v5h-6zM102 153h6v5h-6zM108 153h7v5h-7zM115 153h6v5h-6zM121 153h6v5h-6zM481 153h7v5h-7zM488 153h6v5h-6zM494 153h6v5h-6zM500 153h6v5h-6zM506 153h6v5h-6zM227 174h6v5h-6zM214 179h6v5h-6zM202 184h6v5h-6zM208 184h6v5h-6zM202 189h6v5h-6zM388 194h6v5h-6zM388 199h6v5h-6zM388 204h6v6h-6zM388 210h6v5h-6zM388 215h6v5h-6zM233 220h6v5h-6zM388 220h6v5h-6zM227 225h6v5h-6zM164 256h7v5h-7zM401 261h6v5h-6zM413 271h6v5h-6zM202 292h6v5h-6z"/>
<path fill="#8806f9" d="M419 143h6v5h-6zM382 148h6v5h-6zM469 148h6v5h-6zM140 163h6v5h-6zM152 168h6v6h-6zM189 174h7v5h-7zM183 179h6v5h-6zM189 179h7v5h-7zM245 179h6v5h-6zM382 179h6v5h-6zM208 246h6v5h-6zM177 266h6v5h-6zM183 266h6v5h-6zM189 266h7v5h-7zM196 266h6v5h-6zM407 271h6v5h-6zM469 271h6v5h-6zM413 276h6v6h-6zM457 276h6v6h-6zM463 276h6v6h-6zM438 282h6v5h-6zM444 282h6v5h-6zM450 282h7v5h-7zM457 282h6v5h-6zM463 282h6v5h-6z"/>
<path fill="#8605fc" d="M463 143h6v5h-6zM488 148h6v5h-6zM494 148h6v5h-6zM500 148h6v5h-6zM506 148h6v5h-6zM183 158h6v5h-6zM189 158h7v5h-7zM196 158h6v5h-6zM171 163h6v5h-6zM177 168h6v6h-6zM208 174h6v5h-6zM214 174h6v5h-6zM227 230h6v5h-6zM220 235h7v5h-7zM481 276h7v6h-7zM425 282h7v5h-7zM469 282h6v5h-6zM469 287h6v5h-6z"/>
<path fill="#8204fe" d="M202 148h6v5h-6zM214 153h6v5h-6zM376 225h6v5h-6zM413 292h6v5h-6zM506 323h6v5h-6zM488 328h6v5h-6zM469 333h6v5h-6zM475 333h6v5h-6zM481 333h7v5h-7z"/>
<path fill="#6801dd" d="M258 148h6v5h-6zM307 174h7v5h-7zM351 179h6v5h-6zM301 194h6v5h-6zM357 204h6v6h-6zM264 235h6v5h-6zM425 359h7v5h-7z"/>
<path fill="#6601d6" d="M276 148h7v5h-7zM314 168h6v6h-6z"/>
<path fill="#5c01bb" d="M301 148h6v5h-6zM307 148h7v5h-7zM108 364h7v5h-7zM438 384h6v5h-6zM500 400h6v5h-6z"/>
<path fill="#8b07f5" d="M388 148h6v5h-6zM457 148h6v5h-6zM158 158h6v5h-6zM407 266h6v5h-6zM127 287h6v5h-6z"/>
<path fill="#8c07f2" d="M394 148h7v5h-7zM388 153h6v5h-6zM469 153h6v5h-6zM388 179h6v5h-6zM189 189h7v5h-7zM401 256h6v5h-6zM457 271h6v5h-6zM438 276h6v6h-6zM444 276h6v6h-6z"/>
<path fill="#8d07f1" d="M401 148h6v5h-6zM177 184h6v5h-6z"/>
<path fill="#8c07f1" d="M407 148h6v5h-6zM413 148h6v5h-6zM519 153h6v5h-6zM146 158h6v5h-6zM239 179h6v5h-6zM463 266h6v5h-6zM419 271h6v5h-6z"/>
<path fill="#8c07f3" d="M419 148h6v5h-6zM233 174h6v5h-6zM220 179h7v5h-7zM202 246h6v5h-6z"/>
<path fill="#8b07f4" d="M425 148h7v5h-7zM432 148h6v5h-6zM438 148h6v5h-6zM444 148h6v5h-6zM450 148h7v5h-7zM512 153h7v5h-7zM127 163h6v5h-6zM133 163h7v5h-7zM146 168h6v6h-6zM158 174h6v5h-6zM171 179h6v5h-6zM177 179h6v5h-6zM183 184h6v5h-6zM388 184h6v5h-6zM239 215h6v5h-6zM394 246h7v5h-7zM469 266h6v5h-6zM475 266h6v5h-6zM481 266h7v5h-7zM488 266h6v5h-6zM494 266h6v5h-6zM500 266h6v5h-6zM90 271h6v5h-6zM108 276h7v6h-7zM432 276h6v6h-6zM121 282h6v5h-6zM164 292h7v5h-7zM171 292h6v5h-6zM177 292h6v5h-6z"/>
<path fill="#8705fb" d="M512 148h7v5h-7z"/>
<path fill="#8906f8" d="M127 153h6v5h-6zM382 153h6v5h-6zM196 174h6v5h-6zM196 179h6v5h-6zM189 184h7v5h-7zM245 184h6v5h-6zM245 189h6v5h-6zM245 194h6v5h-6zM245 210h6v5h-6zM388 235h6v5h-6zM220 240h7v6h-7zM419 276h6v6h-6zM425 276h7v6h-7z"/>
<path fill="#6801de" d="M332 153h6v5h-6zM307 179h7v5h-7zM357 215h6v5h-6zM239 271h6v5h-6z"/>
<path fill="#8e08ec" d="M394 153h7v5h-7zM432 153h6v5h-6zM438 153h6v5h-6zM444 153h6v5h-6zM450 153h7v5h-7zM457 153h6v5h-6zM481 158h7v5h-7zM488 158h6v5h-6zM494 158h6v5h-6zM164 179h7v5h-7zM233 179h6v5h-6zM401 184h6v5h-6zM239 189h6v5h-6zM239 194h6v5h-6z"/>
<path fill="#8f08ea" d="M401 153h6v5h-6zM407 153h6v5h-6zM413 153h6v5h-6zM475 158h6v5h-6zM481 163h7v5h-7zM227 179h6v5h-6zM220 184h7v5h-7zM227 220h6v5h-6zM394 230h7v5h-7zM475 261h6v5h-6z"/>
<path fill="#8f08eb" d="M419 153h6v5h-6zM488 163h6v5h-6zM494 163h6v5h-6zM500 163h6v5h-6zM401 189h6v5h-6zM189 194h7v5h-7zM401 194h6v5h-6zM394 235h7v5h-7zM214 240h6v6h-6zM171 266h6v5h-6zM413 266h6v5h-6z"/>
<path fill="#8f08ec" d="M425 153h7v5h-7zM171 184h6v5h-6zM183 189h6v5h-6zM401 199h6v5h-6zM401 204h6v6h-6zM401 210h6v5h-6z"/>
<path fill="#8e07ee" d="M463 153h6v5h-6zM382 163h6v5h-6zM407 261h6v5h-6zM450 271h7v5h-7zM196 292h6v5h-6z"/>
<path fill="#8a07f5" d="M475 153h6v5h-6zM239 174h6v5h-6zM152 292h6v5h-6z"/>
<path fill="#940adb" d="M74 158h3v5h-3zM450 158h7v5h-7zM450 163h7v5h-7zM519 163h6v5h-6zM481 174h7v5h-7zM488 174h6v5h-6zM494 174h6v5h-6zM407 189h6v5h-6zM233 194h6v5h-6zM171 246h6v5h-6zM158 256h6v5h-6z"/>
<path fill="#950ad8" d="M77 158h7v5h-7z"/>
<path fill="#950ad5" d="M84 158h6v5h-6zM90 158h6v5h-6zM96 158h6v5h-6zM121 158h6v5h-6zM394 163h7v5h-7zM189 199h7v5h-7zM208 240h6v6h-6zM158 246h6v5h-6z"/>
<path fill="#960bd2" d="M102 158h6v5h-6zM115 158h6v5h-6zM214 199h6v5h-6zM196 204h6v6h-6zM233 204h6v6h-6zM196 210h6v5h-6zM202 210h6v5h-6zM401 246h6v5h-6zM158 287h6v5h-6z"/>
<path fill="#970bcf" d="M108 158h7v5h-7zM413 163h6v5h-6zM208 225h6v5h-6zM438 266h6v5h-6zM444 266h6v5h-6zM102 271h6v5h-6z"/>
<path fill="#9209e0" d="M127 158h6v5h-6zM407 179h6v5h-6zM233 184h6v5h-6zM158 251h6v5h-6z"/>
<path fill="#8f08e9" d="M133 158h7v5h-7zM500 158h6v5h-6zM475 163h6v5h-6zM432 271h6v5h-6zM208 276h6v6h-6z"/>
<path fill="#8e08ed" d="M140 158h6v5h-6zM388 158h6v5h-6zM121 163h6v5h-6zM140 168h6v6h-6zM152 174h6v5h-6zM239 184h6v5h-6zM394 184h7v5h-7zM394 240h7v6h-7zM481 261h7v5h-7zM488 261h6v5h-6zM494 261h6v5h-6zM512 266h7v5h-7zM519 266h6v5h-6zM425 271h7v5h-7zM183 292h6v5h-6z"/>
<path fill="#8b07f3" d="M152 158h6v5h-6zM382 174h6v5h-6z"/>
<path fill="#8806fa" d="M171 158h6v5h-6zM146 163h6v5h-6zM152 163h6v5h-6zM158 163h6v5h-6zM158 168h6v6h-6zM164 168h7v6h-7zM227 168h6v6h-6zM183 174h6v5h-6zM171 251h6v5h-6zM177 251h6v5h-6zM74 271h3v5h-3zM77 271h7v5h-7zM84 271h6v5h-6zM475 271h6v5h-6zM481 271h7v5h-7zM488 271h6v5h-6zM494 271h6v5h-6zM500 271h6v5h-6zM506 271h6v5h-6zM512 271h7v5h-7zM519 271h6v5h-6zM102 276h6v6h-6zM469 276h6v6h-6zM475 276h6v6h-6zM115 282h6v5h-6zM463 287h6v5h-6z"/>
<path fill="#8a06f5" d="M382 158h6v5h-6zM388 189h6v5h-6z"/>
<path fill="#9108e6" d="M394 158h7v5h-7zM469 163h6v5h-6zM388 174h6v5h-6zM227 184h6v5h-6zM189 292h7v5h-7z"/>
<path fill="#9209e1" d="M401 158h6v5h-6zM463 163h6v5h-6zM512 163h7v5h-7zM388 168h6v6h-6zM475 168h6v6h-6z"/>
<path fill="#9309df" d="M407 158h6v5h-6zM457 163h6v5h-6zM407 184h6v5h-6zM220 189h7v5h-7z"/>
<path fill="#930adc" d="M413 158h6v5h-6z"/>
<path fill="#940ada" d="M419 158h6v5h-6zM115 163h6v5h-6zM475 174h6v5h-6zM227 189h6v5h-6zM177 246h6v5h-6zM183 246h6v5h-6zM189 246h7v5h-7zM463 261h6v5h-6zM177 282h6v5h-6zM164 287h7v5h-7z"/>
<path fill="#940ad9" d="M425 158h7v5h-7zM432 158h6v5h-6zM438 158h6v5h-6zM444 158h6v5h-6zM394 174h7v5h-7zM164 184h7v5h-7zM425 266h7v5h-7zM450 266h7v5h-7z"/>
<path fill="#9309de" d="M457 158h6v5h-6zM469 168h6v6h-6zM177 189h6v5h-6zM208 199h6v5h-6zM401 220h6v5h-6z"/>
<path fill="#9209e2" d="M463 158h6v5h-6zM481 168h7v6h-7zM488 168h6v6h-6zM494 168h6v6h-6zM500 168h6v6h-6zM183 194h6v5h-6z"/>
<path fill="#9008e7" d="M469 158h6v5h-6zM214 189h6v5h-6zM196 199h6v5h-6zM214 225h6v5h-6zM457 266h6v5h-6z"/>
<path fill="#9109e5" d="M506 158h6v5h-6zM506 163h6v5h-6zM401 179h6v5h-6zM401 215h6v5h-6zM220 220h7v5h-7zM96 271h6v5h-6zM177 271h6v5h-6zM115 276h6v6h-6zM140 287h6v5h-6zM146 287h6v5h-6zM152 287h6v5h-6z"/>
<path fill="#9309dd" d="M512 158h7v5h-7zM388 163h6v5h-6zM233 189h6v5h-6zM214 194h6v5h-6zM214 220h6v5h-6zM202 287h6v5h-6z"/>
<path fill="#960bd1" d="M519 158h6v5h-6zM394 168h7v6h-7zM233 199h6v5h-6zM432 266h6v5h-6zM177 276h6v6h-6z"/>
<path fill="#9a0cc1" d="M74 163h3v5h-3zM77 163h7v5h-7zM84 163h6v5h-6zM90 163h6v5h-6zM96 163h6v5h-6zM401 230h6v5h-6zM84 266h6v5h-6z"/>
<path fill="#970bce" d="M102 163h6v5h-6zM108 163h7v5h-7zM227 194h6v5h-6zM401 225h6v5h-6zM164 240h7v6h-7zM481 256h7v5h-7zM488 256h6v5h-6zM74 266h3v5h-3zM77 266h7v5h-7zM183 287h6v5h-6z"/>
<path fill="#6a01e2" d="M301 163h6v5h-6zM307 163h7v5h-7zM295 210h6v5h-6zM357 210h6v5h-6zM270 230h6v5h-6zM276 235h7v5h-7zM394 312h7v6h-7zM419 343h6v5h-6z"/>
<path fill="#6601d7" d="M320 163h6v5h-6zM326 163h6v5h-6zM332 163h6v5h-6zM307 189h7v5h-7z"/>
<path fill="#980bca" d="M401 163h6v5h-6zM413 261h6v5h-6z"/>
<path fill="#990cc6" d="M407 163h6v5h-6zM475 179h6v5h-6zM481 179h7v5h-7zM208 210h6v5h-6zM494 256h6v5h-6zM512 261h7v5h-7z"/>
<path fill="#960ad3" d="M419 163h6v5h-6zM425 163h7v5h-7zM432 163h6v5h-6zM438 163h6v5h-6zM444 163h6v5h-6zM500 174h6v5h-6zM208 204h6v6h-6zM202 271h6v5h-6z"/>
<path fill="#a21190" d="M74 168h3v6h-3zM77 168h7v6h-7zM84 168h6v6h-6zM463 184h6v5h-6zM202 225h6v5h-6zM164 235h7v5h-7zM463 256h6v5h-6zM438 261h6v5h-6zM444 261h6v5h-6zM146 282h6v5h-6z"/>
<path fill="#a5137e" d="M90 168h6v6h-6zM96 168h6v6h-6zM413 199h6v5h-6zM407 246h6v5h-6zM469 251h6v5h-6z"/>
<path fill="#a7146b" d="M102 168h6v6h-6zM469 246h6v5h-6zM419 256h6v5h-6zM74 261h3v5h-3z"/>
<path fill="#ac1844" d="M108 168h7v6h-7zM96 266h6v5h-6z"/>
<path fill="#a5137c" d="M115 168h6v6h-6z"/>
<path fill="#a00fa0" d="M121 168h6v6h-6zM152 282h6v5h-6z"/>
<path fill="#970bcc" d="M127 168h6v6h-6zM401 168h6v6h-6zM457 168h6v6h-6zM140 174h6v5h-6zM171 189h6v5h-6zM227 199h6v5h-6z"/>
<path fill="#9109e3" d="M133 168h7v6h-7zM146 174h6v5h-6zM239 199h6v5h-6zM196 246h6v5h-6zM401 251h6v5h-6zM419 266h6v5h-6z"/>
<path fill="#8806f8" d="M233 168h6v6h-6zM164 251h7v5h-7zM394 251h7v5h-7z"/>
<path fill="#8d07f0" d="M382 168h6v6h-6zM214 184h6v5h-6zM208 189h6v5h-6zM196 194h6v5h-6zM202 194h6v5h-6zM220 225h7v5h-7zM394 225h7v5h-7zM214 235h6v5h-6zM506 266h6v5h-6zM208 271h6v5h-6zM208 282h6v5h-6z"/>
<path fill="#990cc2" d="M407 168h6v6h-6z"/>
<path fill="#9a0dbe" d="M413 168h6v6h-6zM419 168h6v6h-6zM425 168h7v6h-7zM432 168h6v6h-6zM438 168h6v6h-6zM444 168h6v6h-6zM407 174h6v5h-6zM146 179h6v5h-6z"/>
<path fill="#980cc7" d="M450 168h7v6h-7zM220 199h7v5h-7z"/>
<path fill="#950ad6" d="M463 168h6v6h-6zM407 194h6v5h-6zM233 210h6v5h-6z"/>
<path fill="#940adc" d="M506 168h6v6h-6zM407 199h6v5h-6zM407 204h6v6h-6zM127 282h6v5h-6z"/>
<path fill="#960bd0" d="M512 168h7v6h-7zM208 220h6v5h-6z"/>
<path fill="#990cc3" d="M519 168h6v6h-6z"/>
<path fill="#aa1657" d="M74 174h3v5h-3zM77 174h7v5h-7zM84 174h6v5h-6zM407 230h6v5h-6zM407 240h6v6h-6zM469 240h6v6h-6zM463 251h6v5h-6zM77 261h7v5h-7z"/>
<path fill="#ad1843" d="M90 174h6v5h-6z"/>
<path fill="#af1b2e" d="M96 174h6v5h-6zM413 220h6v5h-6z"/>
<path fill="#b62200" d="M102 174h6v5h-6zM108 174h7v5h-7zM115 174h6v5h-6zM457 189h6v5h-6zM494 194h6v5h-6zM475 199h6v5h-6zM183 235h6v5h-6zM457 251h6v5h-6zM506 251h6v5h-6zM432 256h6v5h-6zM450 256h7v5h-7zM102 266h6v5h-6zM121 271h6v5h-6z"/>
<path fill="#af1b2a" d="M121 174h6v5h-6z"/>
<path fill="#a81568" d="M127 174h6v5h-6zM146 184h6v5h-6z"/>
<path fill="#a00f9f" d="M133 174h7v5h-7zM413 184h6v5h-6z"/>
<path fill="#7903fb" d="M283 174h6v5h-6zM84 338h6v5h-6z"/>
<path fill="#980bcb" d="M401 174h6v5h-6zM158 184h6v5h-6zM220 215h7v5h-7z"/>
<path fill="#9d0eaf" d="M413 174h6v5h-6zM512 174h7v5h-7z"/>
<path fill="#9e0eaa" d="M419 174h6v5h-6zM425 174h7v5h-7zM202 276h6v6h-6z"/>
<path fill="#a0109f" d="M432 174h6v5h-6zM506 179h6v5h-6z"/>
<path fill="#a11099" d="M438 174h6v5h-6zM444 174h6v5h-6zM494 184h6v5h-6zM183 210h6v5h-6z"/>
<path fill="#9f0fa4" d="M450 174h7v5h-7zM500 256h6v5h-6z"/>
<path fill="#9c0db4" d="M457 174h6v5h-6zM463 179h6v5h-6zM121 276h6v6h-6z"/>
<path fill="#990cc4" d="M463 174h6v5h-6zM214 210h6v5h-6zM202 215h6v5h-6zM214 215h6v5h-6z"/>
<path fill="#960ad4" d="M469 174h6v5h-6zM220 194h7v5h-7zM407 210h6v5h-6z"/>
<path fill="#990cc7" d="M506 174h6v5h-6z"/>
<path fill="#a11098" d="M519 174h6v5h-6z"/>
<path fill="#b21d18" d="M74 179h3v5h-3zM77 179h7v5h-7zM84 179h6v5h-6zM463 235h6v5h-6zM419 251h6v5h-6zM425 256h7v5h-7z"/>
<path fill="#b42003" d="M90 179h6v5h-6zM84 261h6v5h-6z"/>
<path fill="#bb2800" d="M96 179h6v5h-6zM102 179h6v5h-6zM108 179h7v5h-7zM115 179h6v5h-6zM140 189h6v5h-6zM152 204h6v6h-6zM158 210h6v5h-6zM158 215h6v5h-6zM164 215h7v5h-7zM158 220h6v5h-6zM171 220h6v5h-6zM158 225h6v5h-6zM164 225h7v5h-7zM469 225h6v5h-6zM457 235h6v5h-6zM494 246h6v5h-6zM519 251h6v5h-6zM90 261h6v5h-6zM108 266h7v5h-7zM158 271h6v5h-6z"/>
<path fill="#b92500" d="M121 179h6v5h-6zM127 184h6v5h-6zM152 199h6v5h-6zM158 204h6v6h-6zM164 210h7v5h-7zM177 225h6v5h-6zM183 230h6v5h-6zM189 230h7v5h-7zM463 230h6v5h-6zM189 235h7v5h-7zM413 240h6v6h-6zM457 240h6v6h-6zM457 246h6v5h-6zM438 256h6v5h-6zM444 256h6v5h-6z"/>
<path fill="#b21d15" d="M127 179h6v5h-6z"/>
<path fill="#aa1753" d="M133 179h7v5h-7z"/>
<path fill="#a3118d" d="M140 179h6v5h-6z"/>
<path fill="#940ad8" d="M152 179h6v5h-6zM227 215h6v5h-6z"/>
<path fill="#9109e4" d="M158 179h6v5h-6zM239 204h6v6h-6zM164 246h7v5h-7zM469 261h6v5h-6zM171 287h6v5h-6zM177 287h6v5h-6z"/>
<path fill="#8a06f7" d="M208 179h6v5h-6zM196 189h6v5h-6zM388 225h6v5h-6zM450 276h7v6h-7z"/>
<path fill="#6001c5" d="M326 179h6v5h-6zM307 204h7v6h-7zM301 220h6v5h-6zM444 384h6v5h-6zM438 415h6v5h-6z"/>
<path fill="#5f01c2" d="M332 179h6v5h-6zM338 179h7v5h-7zM320 184h6v5h-6zM307 199h7v5h-7zM208 302h6v5h-6zM146 328h6v5h-6zM121 348h6v5h-6zM425 369h7v5h-7zM494 384h6v5h-6zM519 405h6v5h-6z"/>
<path fill="#9209e3" d="M394 179h7v5h-7z"/>
<path fill="#9b0dba" d="M413 179h6v5h-6zM220 204h7v6h-7z"/>
<path fill="#a00fa1" d="M419 179h6v5h-6z"/>
<path fill="#a21192" d="M425 179h7v5h-7z"/>
<path fill="#a41285" d="M432 179h6v5h-6zM152 251h6v5h-6zM183 276h6v6h-6z"/>
<path fill="#a41281" d="M438 179h6v5h-6zM444 179h6v5h-6zM475 189h6v5h-6zM196 220h6v5h-6z"/>
<path fill="#a11096" d="M450 179h7v5h-7zM189 287h7v5h-7z"/>
<path fill="#9e0eab" d="M457 179h6v5h-6z"/>
<path fill="#9a0cc0" d="M469 179h6v5h-6zM488 179h6v5h-6zM227 204h6v6h-6zM419 261h6v5h-6zM457 261h6v5h-6zM519 261h6v5h-6z"/>
<path fill="#9c0db5" d="M494 179h6v5h-6zM196 215h6v5h-6z"/>
<path fill="#9e0eac" d="M500 179h6v5h-6zM475 184h6v5h-6zM164 189h7v5h-7z"/>
<path fill="#a41282" d="M512 179h7v5h-7z"/>
<path fill="#a9165b" d="M519 179h6v5h-6z"/>
<path fill="#be2b00" d="M74 184h3v5h-3zM77 184h7v5h-7zM84 184h6v5h-6zM90 184h6v5h-6zM96 184h6v5h-6zM102 184h6v5h-6zM108 184h7v5h-7zM115 184h6v5h-6zM121 184h6v5h-6zM133 189h7v5h-7zM463 204h6v6h-6zM475 204h6v6h-6zM152 210h6v5h-6zM152 215h6v5h-6zM432 220h6v5h-6zM419 225h6v5h-6zM463 225h6v5h-6zM419 230h6v5h-6zM457 230h6v5h-6zM488 235h6v5h-6zM419 246h6v5h-6zM425 251h7v5h-7z"/>
<path fill="#b21e14" d="M133 184h7v5h-7zM171 204h6v6h-6zM488 246h6v5h-6z"/>
<path fill="#ad1940" d="M140 184h6v5h-6z"/>
<path fill="#a0109e" d="M152 184h6v5h-6z"/>
<path fill="#5e01bf" d="M326 184h6v5h-6zM332 184h6v5h-6zM283 240h6v6h-6zM376 297h6v5h-6zM413 353h6v6h-6zM457 389h6v6h-6zM463 389h6v6h-6z"/>
<path fill="#5a00b4" d="M338 184h7v5h-7zM314 199h6v5h-6zM512 384h7v5h-7zM450 395h7v5h-7zM457 400h6v5h-6zM463 405h6v5h-6zM463 410h6v5h-6z"/>
<path fill="#a9165f" d="M419 184h6v5h-6zM189 240h7v6h-7z"/>
<path fill="#ae1939" d="M425 184h7v5h-7zM469 194h6v5h-6z"/>
<path fill="#b11d1a" d="M432 184h6v5h-6zM512 189h7v5h-7zM481 194h7v5h-7z"/>
<path fill="#b41f05" d="M438 184h6v5h-6zM419 189h6v5h-6zM413 246h6v5h-6z"/>
<path fill="#b41f03" d="M444 184h6v5h-6z"/>
<path fill="#b01b29" d="M450 184h7v5h-7zM152 189h6v5h-6z"/>
<path fill="#a8156a" d="M457 184h6v5h-6z"/>
<path fill="#9f0fa3" d="M469 184h6v5h-6zM183 240h6v6h-6z"/>
<path fill="#9d0eae" d="M481 184h7v5h-7z"/>
<path fill="#9f0fa6" d="M488 184h6v5h-6zM407 220h6v5h-6z"/>
<path fill="#a1109a" d="M500 184h6v5h-6z"/>
<path fill="#a31288" d="M506 184h6v5h-6zM189 215h7v5h-7zM158 235h6v5h-6z"/>
<path fill="#aa1755" d="M512 184h7v5h-7z"/>
<path fill="#b01c23" d="M519 184h6v5h-6zM481 240h7v6h-7zM189 282h7v5h-7z"/>
<path fill="#c93d00" d="M74 189h3v5h-3zM77 189h7v5h-7zM127 194h6v5h-6zM74 215h3v5h-3zM77 225h7v5h-7zM74 230h3v5h-3zM432 230h6v5h-6zM425 246h7v5h-7zM444 251h6v5h-6zM77 256h7v5h-7z"/>
<path fill="#c73900" d="M84 189h6v5h-6zM90 189h6v5h-6zM96 189h6v5h-6zM102 189h6v5h-6zM108 189h7v5h-7zM115 189h6v5h-6zM444 194h6v5h-6zM74 220h3v5h-3zM74 225h3v5h-3zM425 235h7v5h-7zM450 235h7v5h-7zM450 240h7v6h-7zM450 246h7v5h-7zM432 251h6v5h-6zM74 256h3v5h-3z"/>
<path fill="#c43500" d="M121 189h6v5h-6zM450 199h7v5h-7zM494 204h6v6h-6zM438 225h6v5h-6zM444 225h6v5h-6zM450 230h7v5h-7zM512 246h7v5h-7zM519 246h6v5h-6zM102 261h6v5h-6z"/>
<path fill="#c23200" d="M127 189h6v5h-6zM450 204h7v6h-7zM463 215h6v5h-6zM450 220h7v5h-7zM457 220h6v5h-6zM432 225h6v5h-6zM450 225h7v5h-7zM425 230h7v5h-7zM419 240h6v6h-6z"/>
<path fill="#b72300" d="M146 189h6v5h-6zM519 189h6v5h-6zM506 194h6v5h-6zM419 215h6v5h-6zM183 225h6v5h-6zM158 230h6v5h-6zM196 230h6v5h-6zM196 235h6v5h-6zM146 240h6v6h-6zM146 246h6v5h-6z"/>
<path fill="#a81566" d="M158 189h6v5h-6z"/>
<path fill="#6a01e0" d="M301 189h6v5h-6zM357 220h6v5h-6zM152 318h6v5h-6z"/>
<path fill="#6201cb" d="M314 189h6v5h-6zM370 246h6v5h-6zM214 297h6v5h-6zM382 302h6v5h-6zM450 384h7v5h-7z"/>
<path fill="#8d07ef" d="M394 189h7v5h-7zM394 194h7v5h-7zM394 199h7v5h-7zM394 204h7v6h-7zM394 210h7v5h-7zM394 215h7v5h-7zM394 220h7v5h-7z"/>
<path fill="#a61474" d="M413 189h6v5h-6zM413 194h6v5h-6zM152 240h6v6h-6z"/>
<path fill="#b82400" d="M425 189h7v5h-7zM463 199h6v5h-6zM481 199h7v5h-7zM171 215h6v5h-6zM177 220h6v5h-6zM164 230h7v5h-7zM171 230h6v5h-6zM177 230h6v5h-6zM413 230h6v5h-6zM158 276h6v6h-6z"/>
<path fill="#ba2700" d="M432 189h6v5h-6zM425 194h7v5h-7zM171 225h6v5h-6zM512 251h7v5h-7z"/>
<path fill="#bd2a00" d="M438 189h6v5h-6zM432 199h6v5h-6zM469 204h6v6h-6zM438 215h6v5h-6zM425 220h7v5h-7zM152 261h6v5h-6z"/>
<path fill="#c13000" d="M444 189h6v5h-6zM512 199h7v5h-7zM444 204h6v6h-6zM469 210h6v5h-6zM444 220h6v5h-6zM488 230h6v5h-6z"/>
<path fill="#c02e00" d="M450 189h7v5h-7zM457 204h6v6h-6zM469 220h6v5h-6zM425 225h7v5h-7zM457 225h6v5h-6zM419 235h6v5h-6zM450 251h7v5h-7zM146 276h6v6h-6z"/>
<path fill="#ab1752" d="M463 189h6v5h-6zM407 235h6v5h-6z"/>
<path fill="#a5137a" d="M469 189h6v5h-6z"/>
<path fill="#a61378" d="M481 189h7v5h-7z"/>
<path fill="#a81567" d="M488 189h6v5h-6z"/>
<path fill="#aa1756" d="M494 189h6v5h-6zM164 276h7v6h-7z"/>
<path fill="#a91660" d="M500 189h6v5h-6z"/>
<path fill="#ab1750" d="M506 189h6v5h-6z"/>
<path fill="#cb4100" d="M74 194h3v5h-3zM77 194h7v5h-7zM84 194h6v5h-6zM90 194h6v5h-6zM96 194h6v5h-6zM102 194h6v5h-6zM108 194h7v5h-7zM115 194h6v5h-6zM121 194h6v5h-6zM133 199h7v5h-7zM494 210h6v5h-6zM77 220h7v5h-7zM77 230h7v5h-7zM444 230h6v5h-6zM512 240h7v6h-7zM438 251h6v5h-6zM84 256h6v5h-6z"/>
<path fill="#c53600" d="M133 194h7v5h-7zM450 194h7v5h-7zM140 199h6v5h-6zM481 210h7v5h-7zM146 225h6v5h-6z"/>
<path fill="#c02f00" d="M140 194h6v5h-6zM438 194h6v5h-6zM146 210h6v5h-6zM450 210h7v5h-7zM457 210h6v5h-6zM463 210h6v5h-6zM450 215h7v5h-7zM146 235h6v5h-6z"/>
<path fill="#b92600" d="M146 194h6v5h-6zM488 199h6v5h-6zM419 220h6v5h-6zM413 235h6v5h-6z"/>
<path fill="#b72200" d="M152 194h6v5h-6zM158 199h6v5h-6zM164 204h7v6h-7zM419 210h6v5h-6z"/>
<path fill="#b01b28" d="M158 194h6v5h-6z"/>
<path fill="#a7146f" d="M164 194h7v5h-7z"/>
<path fill="#9f0fa5" d="M171 194h6v5h-6zM133 282h7v5h-7z"/>
<path fill="#990cc5" d="M177 194h6v5h-6zM214 204h6v6h-6zM227 210h6v5h-6zM208 215h6v5h-6zM183 271h6v5h-6z"/>
<path fill="#9008e8" d="M208 194h6v5h-6zM202 199h6v5h-6zM239 210h6v5h-6zM233 215h6v5h-6zM214 230h6v5h-6zM500 261h6v5h-6zM438 271h6v5h-6zM444 271h6v5h-6z"/>
<path fill="#5600a7" d="M320 194h6v5h-6zM189 312h7v6h-7zM407 353h6v6h-6zM419 374h6v5h-6z"/>
<path fill="#510097" d="M338 194h7v5h-7zM320 204h6v6h-6zM363 246h7v5h-7zM314 282h6v5h-6zM314 287h6v5h-6zM140 338h6v5h-6zM133 343h7v5h-7z"/>
<path fill="#b52100" d="M419 194h6v5h-6zM500 194h6v5h-6zM419 199h6v5h-6zM481 235h7v5h-7z"/>
<path fill="#bc2900" d="M432 194h6v5h-6zM512 194h7v5h-7zM146 199h6v5h-6zM500 199h6v5h-6zM432 210h6v5h-6zM432 215h6v5h-6zM164 220h7v5h-7zM152 230h6v5h-6z"/>
<path fill="#bb2700" d="M457 194h6v5h-6zM425 199h7v5h-7zM425 204h7v6h-7zM425 210h7v5h-7zM425 215h7v5h-7zM481 230h7v5h-7zM133 276h7v6h-7z"/>
<path fill="#b11c21" d="M463 194h6v5h-6z"/>
<path fill="#af1b2d" d="M475 194h6v5h-6zM463 240h6v6h-6zM463 246h6v5h-6z"/>
<path fill="#b31f08" d="M488 194h6v5h-6zM171 210h6v5h-6z"/>
<path fill="#bf2d00" d="M519 194h6v5h-6zM438 199h6v5h-6zM481 204h7v6h-7zM444 210h6v5h-6zM438 220h6v5h-6zM475 220h6v5h-6zM481 225h7v5h-7z"/>
<path fill="#cd4500" d="M74 199h3v5h-3zM77 199h7v5h-7zM74 204h3v6h-3zM77 204h7v6h-7zM74 210h3v5h-3zM77 210h7v5h-7zM512 210h7v5h-7zM519 210h6v5h-6zM77 215h7v5h-7zM494 215h6v5h-6zM500 215h6v5h-6zM84 225h6v5h-6zM500 225h6v5h-6zM84 230h6v5h-6zM438 230h6v5h-6zM425 240h7v6h-7zM90 256h6v5h-6z"/>
<path fill="#d14e00" d="M84 199h6v5h-6zM90 199h6v5h-6zM96 199h6v5h-6zM102 199h6v5h-6zM108 199h7v5h-7zM115 199h6v5h-6zM121 199h6v5h-6zM519 215h6v5h-6zM84 220h6v5h-6zM519 230h6v5h-6zM74 235h3v5h-3zM84 235h6v5h-6zM90 235h6v5h-6z"/>
<path fill="#cf4a00" d="M127 199h6v5h-6zM500 220h6v5h-6z"/>
<path fill="#b11c1e" d="M164 199h7v5h-7zM177 235h6v5h-6z"/>
<path fill="#a9165c" d="M171 199h6v5h-6zM171 235h6v5h-6z"/>
<path fill="#a21094" d="M177 199h6v5h-6z"/>
<path fill="#9b0dbd" d="M183 199h6v5h-6z"/>
<path fill="#500093" d="M326 199h6v5h-6zM326 204h6v6h-6zM332 204h6v6h-6zM345 225h6v5h-6zM264 261h6v5h-6zM307 282h7v5h-7zM307 287h7v5h-7zM74 384h3v5h-3zM77 384h7v5h-7z"/>
<path fill="#4e008f" d="M332 199h6v5h-6zM307 230h7v5h-7zM102 395h6v5h-6z"/>
<path fill="#4a0082" d="M338 199h7v5h-7zM419 400h6v5h-6z"/>
<path fill="#4f0091" d="M345 199h6v5h-6zM326 210h6v5h-6zM314 240h6v6h-6zM345 240h6v6h-6zM196 312h6v6h-6zM419 384h6v5h-6z"/>
<path fill="#c53500" d="M444 199h6v5h-6z"/>
<path fill="#be2c00" d="M457 199h6v5h-6zM506 199h6v5h-6zM146 204h6v6h-6zM438 204h6v6h-6zM152 220h6v5h-6zM152 225h6v5h-6zM500 246h6v5h-6z"/>
<path fill="#b62100" d="M469 199h6v5h-6zM419 204h6v6h-6z"/>
<path fill="#bc2800" d="M494 199h6v5h-6zM152 276h6v6h-6z"/>
<path fill="#c33400" d="M519 199h6v5h-6zM481 220h7v5h-7zM494 240h6v6h-6z"/>
<path fill="#d35300" d="M84 204h6v6h-6zM84 210h6v5h-6zM519 220h6v5h-6zM90 225h6v5h-6zM519 225h6v5h-6zM77 235h7v5h-7zM432 235h6v5h-6zM444 235h6v5h-6z"/>
<path fill="#db6700" d="M90 204h6v6h-6zM90 220h6v5h-6zM96 225h6v5h-6zM102 235h6v5h-6zM146 266h6v5h-6z"/>
<path fill="#dc6800" d="M96 204h6v6h-6zM102 204h6v6h-6zM108 204h7v6h-7zM115 204h6v6h-6zM121 204h6v6h-6zM77 240h7v6h-7zM84 240h6v6h-6zM90 240h6v6h-6zM115 240h6v6h-6zM121 240h6v6h-6zM438 240h6v6h-6zM121 246h6v5h-6zM74 251h3v5h-3zM127 251h6v5h-6zM133 256h7v5h-7z"/>
<path fill="#da6300" d="M127 204h6v6h-6zM127 240h6v6h-6zM127 246h6v5h-6z"/>
<path fill="#d24f00" d="M133 204h7v6h-7z"/>
<path fill="#c93e00" d="M140 204h6v6h-6z"/>
<path fill="#ac1848" d="M177 204h6v6h-6z"/>
<path fill="#a3118a" d="M183 204h6v6h-6z"/>
<path fill="#9b0db9" d="M189 204h7v6h-7zM401 235h6v5h-6z"/>
<path fill="#9309dc" d="M202 204h6v6h-6z"/>
<path fill="#4c0086" d="M338 204h7v6h-7zM320 220h6v5h-6zM326 220h6v5h-6zM332 220h6v5h-6zM345 230h6v5h-6zM307 240h7v6h-7zM270 261h6v5h-6zM84 389h6v6h-6zM419 405h6v5h-6z"/>
<path fill="#510096" d="M345 204h6v6h-6zM307 235h7v5h-7zM357 240h6v6h-6zM401 348h6v5h-6z"/>
<path fill="#5b01b5" d="M351 204h6v6h-6zM146 400h6v5h-6z"/>
<path fill="#a61376" d="M413 204h6v6h-6z"/>
<path fill="#bc2a00" d="M432 204h6v6h-6zM146 256h6v5h-6z"/>
<path fill="#c13100" d="M488 204h6v6h-6zM152 271h6v5h-6z"/>
<path fill="#c33300" d="M500 204h6v6h-6zM146 215h6v5h-6zM146 230h6v5h-6z"/>
<path fill="#c43400" d="M506 204h6v6h-6zM469 215h6v5h-6zM127 271h6v5h-6z"/>
<path fill="#c63700" d="M512 204h7v6h-7zM140 251h6v5h-6z"/>
<path fill="#c83b00" d="M519 204h6v6h-6zM494 230h6v5h-6zM500 240h6v6h-6z"/>
<path fill="#dd6d00" d="M90 210h6v5h-6zM102 230h6v5h-6zM108 235h7v5h-7zM108 256h7v5h-7zM127 266h6v5h-6z"/>
<path fill="#e17a00" d="M96 210h6v5h-6zM102 210h6v5h-6zM115 230h6v5h-6zM121 230h6v5h-6zM77 251h7v5h-7zM108 251h7v5h-7zM115 251h6v5h-6z"/>
<path fill="#e38000" d="M108 210h7v5h-7zM96 220h6v5h-6zM133 261h7v5h-7z"/>
<path fill="#e78d00" d="M115 210h6v5h-6zM115 225h6v5h-6zM140 261h6v5h-6z"/>
<path fill="#e58700" d="M121 210h6v5h-6zM96 215h6v5h-6zM102 215h6v5h-6zM102 220h6v5h-6zM108 225h7v5h-7zM77 246h7v5h-7zM90 246h6v5h-6zM84 251h6v5h-6z"/>
<path fill="#e07500" d="M127 210h6v5h-6z"/>
<path fill="#d65900" d="M133 210h7v5h-7zM133 235h7v5h-7z"/>
<path fill="#ca3e00" d="M140 210h6v5h-6zM488 220h6v5h-6zM140 235h6v5h-6zM519 240h6v6h-6z"/>
<path fill="#ad193d" d="M177 210h6v5h-6z"/>
<path fill="#9b0dbb" d="M189 210h7v5h-7z"/>
<path fill="#9b0dbc" d="M220 210h7v5h-7zM401 240h6v6h-6z"/>
<path fill="#5a00b2" d="M314 210h6v5h-6zM376 282h6v5h-6zM376 287h6v5h-6z"/>
<path fill="#5500a2" d="M320 210h6v5h-6zM425 384h7v5h-7zM146 395h6v5h-6z"/>
<path fill="#4e008d" d="M332 210h6v5h-6zM320 215h6v5h-6zM183 318h6v5h-6z"/>
<path fill="#49007d" d="M338 210h7v5h-7zM220 302h7v5h-7zM314 302h6v5h-6zM214 307h6v5h-6zM202 312h6v6h-6z"/>
<path fill="#4f008f" d="M345 210h6v5h-6zM326 225h6v5h-6zM376 312h6v6h-6zM394 338h7v5h-7zM96 395h6v5h-6zM425 400h7v5h-7z"/>
<path fill="#5c01bc" d="M351 210h6v5h-6zM382 307h6v5h-6z"/>
<path fill="#a9165d" d="M413 210h6v5h-6z"/>
<path fill="#bd2b00" d="M438 210h6v5h-6z"/>
<path fill="#c33200" d="M475 210h6v5h-6zM463 220h6v5h-6z"/>
<path fill="#c83c00" d="M488 210h6v5h-6zM500 235h6v5h-6z"/>
<path fill="#cb4200" d="M500 210h6v5h-6zM506 235h6v5h-6z"/>
<path fill="#cc4300" d="M506 210h6v5h-6zM494 225h6v5h-6z"/>
<path fill="#d55800" d="M84 215h6v5h-6zM96 235h6v5h-6zM432 246h6v5h-6zM444 246h6v5h-6z"/>
<path fill="#e17900" d="M90 215h6v5h-6zM108 230h7v5h-7zM115 256h6v5h-6zM127 261h6v5h-6z"/>
<path fill="#e99400" d="M108 215h7v5h-7zM108 220h7v5h-7z"/>
<path fill="#eeab00" d="M115 215h6v5h-6zM115 220h6v5h-6z"/>
<path fill="#eda400" d="M121 215h6v5h-6zM121 220h6v5h-6z"/>
<path fill="#e68800" d="M127 215h6v5h-6zM127 220h6v5h-6z"/>
<path fill="#dc6900" d="M133 215h7v5h-7zM133 225h7v5h-7z"/>
<path fill="#ce4700" d="M140 215h6v5h-6zM140 256h6v5h-6z"/>
<path fill="#b31f09" d="M177 215h6v5h-6z"/>
<path fill="#ab174f" d="M183 215h6v5h-6z"/>
<path fill="#4c0089" d="M326 215h6v5h-6z"/>
<path fill="#470079" d="M332 215h6v5h-6zM345 246h6v5h-6zM121 364h6v5h-6zM413 405h6v5h-6z"/>
<path fill="#460075" d="M338 215h7v5h-7zM295 246h6v5h-6zM276 261h7v5h-7zM338 261h7v5h-7zM258 276h6v6h-6zM251 282h7v5h-7zM239 287h6v5h-6zM90 389h6v6h-6zM158 395h6v5h-6z"/>
<path fill="#4d008b" d="M345 215h6v5h-6zM338 246h7v5h-7zM338 282h7v5h-7zM338 287h7v5h-7zM84 379h6v5h-6zM413 379h6v5h-6zM419 410h6v5h-6z"/>
<path fill="#5b01b8" d="M351 215h6v5h-6zM351 220h6v5h-6zM425 374h7v5h-7zM457 395h6v5h-6zM494 395h6v5h-6zM96 400h6v5h-6zM475 405h6v5h-6zM475 410h6v5h-6z"/>
<path fill="#9a0dbd" d="M407 215h6v5h-6z"/>
<path fill="#ac1845" d="M413 215h6v5h-6zM115 271h6v5h-6z"/>
<path fill="#bf2c00" d="M444 215h6v5h-6z"/>
<path fill="#c23100" d="M457 215h6v5h-6zM506 246h6v5h-6zM96 261h6v5h-6zM152 266h6v5h-6zM140 276h6v6h-6z"/>
<path fill="#c53700" d="M475 215h6v5h-6zM146 220h6v5h-6zM494 235h6v5h-6zM140 240h6v6h-6zM140 246h6v5h-6z"/>
<path fill="#c73a00" d="M481 215h7v5h-7z"/>
<path fill="#ca4000" d="M488 215h6v5h-6z"/>
<path fill="#ce4800" d="M506 215h6v5h-6zM494 220h6v5h-6zM512 235h7v5h-7z"/>
<path fill="#d14c00" d="M512 215h7v5h-7zM506 220h6v5h-6zM512 230h7v5h-7z"/>
<path fill="#de6f00" d="M133 220h7v5h-7z"/>
<path fill="#d25000" d="M140 220h6v5h-6z"/>
<path fill="#b21e12" d="M183 220h6v5h-6z"/>
<path fill="#ae193b" d="M189 220h7v5h-7z"/>
<path fill="#9c0eb3" d="M202 220h6v5h-6zM177 240h6v6h-6zM171 276h6v6h-6z"/>
<path fill="#5400a2" d="M307 220h7v5h-7zM394 333h7v5h-7zM158 400h6v5h-6zM164 405h7v5h-7zM171 410h6v5h-6zM171 415h6v5h-6z"/>
<path fill="#4d008a" d="M314 220h6v5h-6zM314 230h6v5h-6zM363 297h7v5h-7zM171 323h6v5h-6zM90 374h6v5h-6zM146 389h6v6h-6z"/>
<path fill="#4c0087" d="M338 220h7v5h-7zM351 240h6v6h-6zM338 266h7v5h-7zM258 271h6v5h-6zM338 271h7v5h-7zM345 271h6v5h-6zM251 276h7v6h-7zM338 276h7v6h-7zM345 276h6v6h-6zM245 282h6v5h-6zM345 282h6v5h-6zM345 287h6v5h-6zM388 333h6v5h-6zM152 389h6v6h-6z"/>
<path fill="#52009b" d="M345 220h6v5h-6zM338 235h7v5h-7zM283 246h6v5h-6zM276 251h7v5h-7zM407 359h6v5h-6zM432 405h6v5h-6z"/>
<path fill="#d35100" d="M512 220h7v5h-7zM512 225h7v5h-7zM146 261h6v5h-6z"/>
<path fill="#e37f00" d="M102 225h6v5h-6z"/>
<path fill="#e78e00" d="M121 225h6v5h-6zM84 246h6v5h-6z"/>
<path fill="#e48100" d="M127 225h6v5h-6z"/>
<path fill="#d04b00" d="M140 225h6v5h-6z"/>
<path fill="#b52000" d="M189 225h7v5h-7zM475 230h6v5h-6z"/>
<path fill="#ae1a35" d="M196 225h6v5h-6zM475 235h6v5h-6z"/>
<path fill="#4c0088" d="M307 225h7v5h-7zM289 246h6v5h-6zM283 251h6v5h-6zM276 256h7v5h-7zM320 282h6v5h-6zM320 287h6v5h-6zM394 343h7v5h-7zM419 389h6v6h-6zM164 400h7v5h-7zM171 405h6v5h-6zM177 410h6v5h-6zM183 415h6v5h-6z"/>
<path fill="#44006f" d="M314 225h6v5h-6zM239 302h6v5h-6zM307 302h7v5h-7zM363 307h7v5h-7zM401 369h6v5h-6zM96 379h6v5h-6zM102 379h6v5h-6zM401 410h6v5h-6z"/>
<path fill="#48007a" d="M320 225h6v5h-6zM121 359h6v5h-6zM401 364h6v5h-6zM115 395h6v5h-6zM121 395h6v5h-6z"/>
<path fill="#500094" d="M332 225h6v5h-6zM338 230h7v5h-7zM425 395h7v5h-7z"/>
<path fill="#4b0085" d="M338 225h7v5h-7zM351 235h6v5h-6zM370 307h6v5h-6zM419 395h6v5h-6zM183 410h6v5h-6zM189 415h7v5h-7zM413 415h6v5h-6z"/>
<path fill="#6601d9" d="M357 225h6v5h-6z"/>
<path fill="#a61375" d="M407 225h6v5h-6zM475 246h6v5h-6z"/>
<path fill="#b42000" d="M413 225h6v5h-6z"/>
<path fill="#ba2600" d="M475 225h6v5h-6zM488 240h6v6h-6zM146 251h6v5h-6z"/>
<path fill="#c63800" d="M488 225h6v5h-6zM115 266h6v5h-6z"/>
<path fill="#d04a00" d="M506 225h6v5h-6z"/>
<path fill="#cf4900" d="M90 230h6v5h-6zM519 235h6v5h-6z"/>
<path fill="#d55700" d="M96 230h6v5h-6z"/>
<path fill="#e07400" d="M127 230h6v5h-6zM121 256h6v5h-6z"/>
<path fill="#d85e00" d="M133 230h7v5h-7zM133 251h7v5h-7z"/>
<path fill="#cc4200" d="M140 230h6v5h-6z"/>
<path fill="#ac1846" d="M202 230h6v5h-6z"/>
<path fill="#9a0cbf" d="M208 230h6v5h-6zM208 235h6v5h-6z"/>
<path fill="#6a01e3" d="M264 230h6v5h-6zM220 287h7v5h-7z"/>
<path fill="#4a0081" d="M351 230h6v5h-6zM307 271h7v5h-7zM301 276h6v6h-6zM301 282h6v5h-6zM301 287h6v5h-6zM307 292h7v5h-7zM307 297h7v5h-7zM320 302h6v5h-6zM326 302h6v5h-6zM332 302h6v5h-6zM401 359h6v5h-6z"/>
<path fill="#5800af" d="M357 230h6v5h-6zM512 389h7v6h-7z"/>
<path fill="#b42002" d="M469 230h6v5h-6z"/>
<path fill="#cb4000" d="M500 230h6v5h-6zM108 261h7v5h-7z"/>
<path fill="#ce4600" d="M506 230h6v5h-6z"/>
<path fill="#de6e00" d="M115 235h6v5h-6zM121 235h6v5h-6zM127 235h6v5h-6zM74 246h3v5h-3zM96 246h6v5h-6zM102 246h6v5h-6zM108 246h7v5h-7zM115 246h6v5h-6zM96 251h6v5h-6zM121 251h6v5h-6zM127 256h6v5h-6z"/>
<path fill="#b31e0e" d="M152 235h6v5h-6z"/>
<path fill="#ae1a36" d="M202 235h6v5h-6z"/>
<path fill="#5b01b7" d="M326 235h6v5h-6zM332 235h6v5h-6zM413 359h6v5h-6zM506 384h6v5h-6zM494 389h6v6h-6zM102 400h6v5h-6zM140 400h6v5h-6zM475 400h6v5h-6zM158 410h6v5h-6zM158 415h6v5h-6z"/>
<path fill="#4d008c" d="M345 235h6v5h-6z"/>
<path fill="#d85d00" d="M438 235h6v5h-6zM74 240h3v6h-3zM432 240h6v6h-6zM444 240h6v6h-6z"/>
<path fill="#ad1942" d="M469 235h6v5h-6zM457 256h6v5h-6zM519 256h6v5h-6z"/>
<path fill="#da6200" d="M96 240h6v6h-6zM102 240h6v6h-6zM438 246h6v5h-6z"/>
<path fill="#db6800" d="M108 240h7v6h-7z"/>
<path fill="#d65800" d="M133 240h7v6h-7zM133 246h7v5h-7z"/>
<path fill="#980bc9" d="M158 240h6v6h-6zM475 256h6v5h-6z"/>
<path fill="#9a0cc2" d="M171 240h6v6h-6z"/>
<path fill="#aa1656" d="M196 240h6v6h-6z"/>
<path fill="#9e0fa8" d="M202 240h6v6h-6z"/>
<path fill="#500095" d="M301 240h6v6h-6zM320 240h6v6h-6zM326 240h6v6h-6zM332 240h6v6h-6zM370 302h6v5h-6zM413 374h6v5h-6zM425 410h7v5h-7z"/>
<path fill="#53009d" d="M338 240h7v6h-7zM258 266h6v5h-6zM251 271h7v5h-7zM245 276h6v6h-6zM419 379h6v5h-6zM432 400h6v5h-6z"/>
<path fill="#ab174d" d="M475 240h6v6h-6z"/>
<path fill="#ca3f00" d="M506 240h6v6h-6z"/>
<path fill="#a41286" d="M152 246h6v5h-6z"/>
<path fill="#5d01bf" d="M270 246h6v5h-6z"/>
<path fill="#400063" d="M301 246h6v5h-6zM295 251h6v5h-6zM289 256h6v5h-6zM289 261h6v5h-6zM283 266h6v5h-6zM258 282h6v5h-6zM251 287h7v5h-7zM245 292h6v5h-6zM245 297h6v5h-6zM307 318h7v5h-7zM140 343h6v5h-6zM127 359h6v5h-6zM394 364h7v5h-7zM140 369h6v5h-6zM108 379h7v5h-7zM115 379h6v5h-6zM121 379h6v5h-6zM127 379h6v5h-6z"/>
<path fill="#3f005f" d="M307 246h7v5h-7zM189 328h7v5h-7zM196 328h6v5h-6zM202 328h6v5h-6zM208 328h6v5h-6zM314 328h6v5h-6zM320 328h6v5h-6zM326 328h6v5h-6zM177 333h6v5h-6zM183 333h6v5h-6zM189 333h7v5h-7zM196 333h6v5h-6zM202 333h6v5h-6zM171 338h6v5h-6zM208 348h6v5h-6zM401 379h6v5h-6zM183 400h6v5h-6zM202 405h6v5h-6zM214 410h6v5h-6zM220 410h7v5h-7zM227 410h6v5h-6zM233 410h6v5h-6zM239 410h6v5h-6zM245 410h6v5h-6zM251 410h7v5h-7zM258 410h6v5h-6zM264 410h6v5h-6zM270 410h6v5h-6zM276 410h7v5h-7zM283 410h6v5h-6zM289 410h6v5h-6zM295 410h6v5h-6zM301 410h6v5h-6zM307 410h7v5h-7zM314 410h6v5h-6zM320 410h6v5h-6zM326 410h6v5h-6zM332 410h6v5h-6zM338 410h7v5h-7zM345 410h6v5h-6zM351 410h6v5h-6zM357 410h6v5h-6z"/>
<path fill="#44006e" d="M314 246h6v5h-6zM320 261h6v5h-6zM314 266h6v5h-6zM264 271h6v5h-6zM301 271h6v5h-6zM295 276h6v6h-6zM295 282h6v5h-6zM295 287h6v5h-6zM295 292h6v5h-6zM301 297h6v5h-6zM164 333h7v5h-7z"/>
<path fill="#4a0080" d="M320 246h6v5h-6zM264 266h6v5h-6zM320 266h6v5h-6zM413 410h6v5h-6z"/>
<path fill="#4b0084" d="M326 246h6v5h-6zM332 246h6v5h-6zM326 266h6v5h-6zM314 271h6v5h-6zM320 271h6v5h-6zM307 276h7v6h-7zM314 276h6v6h-6zM320 276h6v6h-6zM326 282h6v5h-6zM332 282h6v5h-6zM326 287h6v5h-6zM332 287h6v5h-6zM314 292h6v5h-6zM320 292h6v5h-6zM326 292h6v5h-6zM332 292h6v5h-6zM338 292h7v5h-7zM314 297h6v5h-6zM320 297h6v5h-6zM326 297h6v5h-6zM332 297h6v5h-6zM407 369h6v5h-6z"/>
<path fill="#410065" d="M351 246h6v5h-6zM351 266h6v5h-6zM357 266h6v5h-6zM338 307h7v5h-7zM307 312h7v6h-7zM314 318h6v5h-6zM320 318h6v5h-6zM326 318h6v5h-6zM332 318h6v5h-6zM133 348h7v5h-7zM133 364h7v5h-7zM127 384h6v5h-6zM102 389h6v6h-6zM108 389h7v6h-7zM115 389h6v6h-6zM121 389h6v6h-6z"/>
<path fill="#450073" d="M357 246h6v5h-6zM152 384h6v5h-6zM177 405h6v5h-6z"/>
<path fill="#aa165a" d="M481 246h7v5h-7z"/>
<path fill="#e27a00" d="M90 251h6v5h-6z"/>
<path fill="#df7300" d="M102 251h6v5h-6zM121 261h6v5h-6z"/>
<path fill="#460076" d="M289 251h6v5h-6zM283 256h6v5h-6z"/>
<path fill="#3a0051" d="M301 251h6v5h-6zM295 256h6v5h-6zM295 261h6v5h-6zM295 266h6v5h-6zM258 292h6v5h-6zM258 297h6v5h-6zM345 312h6v6h-6zM289 318h6v5h-6zM295 323h6v5h-6zM345 323h6v5h-6zM214 328h6v5h-6zM208 333h6v5h-6zM208 338h6v5h-6zM208 343h6v5h-6zM214 348h6v5h-6zM214 353h6v6h-6zM140 364h6v5h-6zM158 384h6v5h-6zM208 405h6v5h-6zM363 405h7v5h-7z"/>
<path fill="#33003f" d="M307 251h7v5h-7zM301 256h6v5h-6zM245 318h6v5h-6zM146 353h6v6h-6zM164 353h7v6h-7zM164 359h7v5h-7zM189 359h7v5h-7zM370 359h6v5h-6zM196 364h6v5h-6zM326 369h6v5h-6zM388 384h6v5h-6zM394 389h7v6h-7z"/>
<path fill="#37004a" d="M314 251h6v5h-6zM314 256h6v5h-6zM388 405h6v5h-6z"/>
<path fill="#3e005c" d="M320 251h6v5h-6zM320 256h6v5h-6zM314 261h6v5h-6zM283 287h6v5h-6zM289 292h6v5h-6zM289 297h6v5h-6zM376 333h6v5h-6zM164 338h7v5h-7zM388 359h6v5h-6zM401 405h6v5h-6z"/>
<path fill="#3f0060" d="M326 251h6v5h-6zM326 256h6v5h-6zM289 266h6v5h-6zM276 271h7v5h-7zM283 271h6v5h-6zM289 271h6v5h-6zM295 271h6v5h-6zM276 276h7v6h-7zM283 276h6v6h-6zM289 276h6v6h-6zM276 282h7v5h-7zM283 282h6v5h-6zM289 282h6v5h-6zM258 287h6v5h-6zM289 287h6v5h-6zM251 292h7v5h-7zM251 297h7v5h-7zM295 297h6v5h-6zM245 302h6v5h-6zM351 302h6v5h-6zM307 323h7v5h-7zM171 333h6v5h-6zM164 395h7v5h-7zM407 395h6v5h-6zM407 400h6v5h-6zM196 405h6v5h-6z"/>
<path fill="#3a0052" d="M332 251h6v5h-6zM351 307h6v5h-6zM351 323h6v5h-6zM332 328h6v5h-6zM158 343h6v5h-6z"/>
<path fill="#400062" d="M338 251h7v5h-7zM357 302h6v5h-6zM363 312h7v6h-7zM214 323h6v5h-6zM314 323h6v5h-6zM320 323h6v5h-6zM326 323h6v5h-6zM332 323h6v5h-6zM388 353h6v6h-6zM140 379h6v5h-6zM158 389h6v6h-6z"/>
<path fill="#3b0054" d="M345 251h6v5h-6zM307 266h7v5h-7zM289 312h6v6h-6zM295 318h6v5h-6zM363 318h7v5h-7zM220 323h7v5h-7zM357 323h6v5h-6zM158 338h6v5h-6zM133 353h7v6h-7z"/>
<path fill="#39004e" d="M351 251h6v5h-6zM276 287h7v5h-7zM264 292h6v5h-6zM270 292h6v5h-6zM276 292h7v5h-7zM283 292h6v5h-6zM264 297h6v5h-6zM270 297h6v5h-6zM276 297h7v5h-7zM283 297h6v5h-6zM251 302h7v5h-7zM357 312h6v6h-6zM227 318h6v5h-6zM164 343h7v5h-7zM171 343h6v5h-6zM376 343h6v5h-6zM171 348h6v5h-6zM382 364h6v5h-6zM394 379h7v5h-7zM401 389h6v6h-6zM401 395h6v5h-6z"/>
<path fill="#3b0053" d="M357 251h6v5h-6zM382 353h6v6h-6zM146 369h6v5h-6z"/>
<path fill="#460073" d="M363 251h7v5h-7zM363 261h7v5h-7zM351 292h6v5h-6zM196 318h6v5h-6zM394 353h7v6h-7zM407 379h6v5h-6zM90 384h6v5h-6zM413 389h6v6h-6z"/>
<path fill="#9e0fa9" d="M407 251h6v5h-6z"/>
<path fill="#b01c24" d="M413 251h6v5h-6z"/>
<path fill="#a0109b" d="M475 251h6v5h-6z"/>
<path fill="#9f0fa2" d="M481 251h7v5h-7zM432 261h6v5h-6zM450 261h7v5h-7zM90 266h6v5h-6zM164 282h7v5h-7z"/>
<path fill="#a11097" d="M488 251h6v5h-6z"/>
<path fill="#a51379" d="M494 251h6v5h-6zM413 256h6v5h-6z"/>
<path fill="#ae1a38" d="M500 251h6v5h-6z"/>
<path fill="#d35200" d="M96 256h6v5h-6z"/>
<path fill="#d75d00" d="M102 256h6v5h-6z"/>
<path fill="#a71472" d="M152 256h6v5h-6z"/>
<path fill="#31003c" d="M307 256h7v5h-7z"/>
<path fill="#350044" d="M332 256h6v5h-6zM233 307h6v5h-6zM227 323h6v5h-6zM345 333h6v5h-6zM338 338h7v5h-7zM370 338h6v5h-6zM158 348h6v5h-6zM158 353h6v6h-6z"/>
<path fill="#3a0050" d="M338 256h7v5h-7zM345 318h6v5h-6zM326 333h6v5h-6zM177 338h6v5h-6zM326 338h6v5h-6zM133 359h7v5h-7z"/>
<path fill="#340042" d="M345 256h6v5h-6zM357 256h6v5h-6zM264 323h6v5h-6zM270 323h6v5h-6zM276 323h7v5h-7zM283 323h6v5h-6zM227 328h6v5h-6zM220 333h7v5h-7zM363 333h7v5h-7zM220 338h7v5h-7zM152 343h6v5h-6zM220 343h7v5h-7zM152 348h6v5h-6zM220 348h7v5h-7zM370 348h6v5h-6zM220 353h7v6h-7zM326 353h6v6h-6zM214 359h6v5h-6zM152 374h6v5h-6zM376 374h6v5h-6zM183 395h6v5h-6zM208 400h6v5h-6z"/>
<path fill="#32003d" d="M351 256h6v5h-6zM270 302h6v5h-6zM251 318h7v5h-7zM258 318h6v5h-6zM363 353h7v6h-7zM332 374h6v5h-6z"/>
<path fill="#400061" d="M363 256h7v5h-7zM270 271h6v5h-6zM382 338h6v5h-6zM152 379h6v5h-6zM407 389h6v6h-6zM208 410h6v5h-6z"/>
<path fill="#950ad7" d="M407 256h6v5h-6zM506 261h6v5h-6z"/>
<path fill="#9d0eb2" d="M469 256h6v5h-6zM425 261h7v5h-7z"/>
<path fill="#a7146e" d="M506 256h6v5h-6z"/>
<path fill="#ac184a" d="M512 256h7v5h-7z"/>
<path fill="#d75c00" d="M115 261h6v5h-6z"/>
<path fill="#a31289" d="M158 261h6v5h-6z"/>
<path fill="#9008e6" d="M164 261h7v5h-7z"/>
<path fill="#450072" d="M283 261h6v5h-6zM326 261h6v5h-6zM276 266h7v5h-7zM332 271h6v5h-6zM332 276h6v6h-6zM245 287h6v5h-6zM239 292h6v5h-6zM301 292h6v5h-6zM239 297h6v5h-6zM345 297h6v5h-6zM171 328h6v5h-6zM171 400h6v5h-6zM196 410h6v5h-6zM202 415h6v5h-6z"/>
<path fill="#2c002f" d="M301 261h6v5h-6zM301 266h6v5h-6zM357 389h6v6h-6z"/>
<path fill="#360046" d="M307 261h7v5h-7zM283 307h6v5h-6zM233 318h6v5h-6zM301 353h6v6h-6zM376 364h6v5h-6z"/>
<path fill="#410064" d="M332 261h6v5h-6zM370 318h6v5h-6zM208 323h6v5h-6zM146 338h6v5h-6zM133 384h7v5h-7zM370 410h6v5h-6zM388 410h6v5h-6z"/>
<path fill="#3d0059" d="M345 261h6v5h-6zM233 302h6v5h-6zM295 302h6v5h-6zM301 318h6v5h-6zM108 384h7v5h-7zM115 384h6v5h-6zM121 384h6v5h-6z"/>
<path fill="#340041" d="M351 261h6v5h-6zM177 348h6v5h-6zM370 353h6v6h-6z"/>
<path fill="#39004f" d="M357 261h6v5h-6zM270 287h6v5h-6zM289 323h6v5h-6zM220 328h7v5h-7zM295 328h6v5h-6zM338 328h7v5h-7zM345 328h6v5h-6zM351 328h6v5h-6zM214 333h6v5h-6zM289 333h6v5h-6zM295 333h6v5h-6zM301 333h6v5h-6zM332 333h6v5h-6zM338 333h7v5h-7zM183 338h6v5h-6zM189 338h7v5h-7zM196 338h6v5h-6zM214 338h6v5h-6zM289 338h6v5h-6zM295 338h6v5h-6zM301 338h6v5h-6zM307 338h7v5h-7zM332 338h6v5h-6zM177 343h6v5h-6zM183 343h6v5h-6zM189 343h7v5h-7zM196 343h6v5h-6zM214 343h6v5h-6zM289 343h6v5h-6zM295 343h6v5h-6zM301 343h6v5h-6zM307 343h7v5h-7zM314 343h6v5h-6zM320 343h6v5h-6zM326 343h6v5h-6zM196 348h6v5h-6zM295 348h6v5h-6zM301 348h6v5h-6zM307 348h7v5h-7zM314 348h6v5h-6zM320 348h6v5h-6zM202 353h6v6h-6zM314 353h6v6h-6zM208 359h6v5h-6zM382 359h6v5h-6zM177 395h6v5h-6zM202 400h6v5h-6zM214 405h6v5h-6zM220 405h7v5h-7zM227 405h6v5h-6zM233 405h6v5h-6zM239 405h6v5h-6zM245 405h6v5h-6zM251 405h7v5h-7zM258 405h6v5h-6zM264 405h6v5h-6zM270 405h6v5h-6zM276 405h7v5h-7zM283 405h6v5h-6zM289 405h6v5h-6zM295 405h6v5h-6zM301 405h6v5h-6zM307 405h7v5h-7zM314 405h6v5h-6zM320 405h6v5h-6zM326 405h6v5h-6zM370 405h6v5h-6zM394 405h7v5h-7z"/>
<path fill="#d75b00" d="M121 266h6v5h-6z"/>
<path fill="#e78c00" d="M133 266h7v5h-7z"/>
<path fill="#f0b100" d="M140 266h6v5h-6z"/>
<path fill="#b31e0d" d="M158 266h6v5h-6z"/>
<path fill="#a0109d" d="M164 266h7v5h-7z"/>
<path fill="#460074" d="M270 266h6v5h-6zM183 323h6v5h-6zM189 323h7v5h-7zM196 323h6v5h-6zM202 323h6v5h-6zM127 389h6v6h-6zM133 389h7v6h-7zM413 395h6v5h-6z"/>
<path fill="#470076" d="M332 266h6v5h-6zM326 271h6v5h-6zM326 276h6v6h-6zM338 297h7v5h-7zM370 312h6v6h-6zM177 323h6v5h-6zM388 338h6v5h-6z"/>
<path fill="#480079" d="M345 266h6v5h-6zM146 384h6v5h-6z"/>
<path fill="#470078" d="M363 266h7v5h-7z"/>
<path fill="#a21193" d="M108 271h7v5h-7z"/>
<path fill="#d85f00" d="M133 271h7v5h-7z"/>
<path fill="#e58400" d="M140 271h6v5h-6z"/>
<path fill="#d75a00" d="M146 271h6v5h-6z"/>
<path fill="#aa1658" d="M164 271h7v5h-7z"/>
<path fill="#970bcd" d="M171 271h6v5h-6zM171 282h6v5h-6z"/>
<path fill="#9c0db6" d="M189 271h7v5h-7zM196 287h6v5h-6z"/>
<path fill="#9b0db8" d="M196 271h6v5h-6z"/>
<path fill="#470077" d="M351 271h6v5h-6zM357 271h6v5h-6zM351 276h6v6h-6zM357 276h6v6h-6zM351 282h6v5h-6zM357 282h6v5h-6zM351 287h6v5h-6zM357 287h6v5h-6zM345 292h6v5h-6zM357 292h6v5h-6zM407 410h6v5h-6z"/>
<path fill="#49007c" d="M363 271h7v5h-7zM363 276h7v6h-7zM363 282h7v5h-7zM363 287h7v5h-7zM363 292h7v5h-7zM376 318h6v5h-6zM102 369h6v5h-6zM90 379h6v5h-6zM189 410h7v5h-7zM196 415h6v5h-6z"/>
<path fill="#4e008e" d="M370 271h6v5h-6zM370 276h6v6h-6zM370 282h6v5h-6zM370 287h6v5h-6zM227 292h6v5h-6zM370 292h6v5h-6zM401 353h6v6h-6zM115 364h6v5h-6zM96 369h6v5h-6zM127 395h6v5h-6zM133 395h7v5h-7z"/>
<path fill="#ae1a34" d="M127 276h6v6h-6z"/>
<path fill="#ac1849" d="M189 276h7v6h-7z"/>
<path fill="#a91562" d="M196 276h6v6h-6zM196 282h6v5h-6z"/>
<path fill="#3e005b" d="M264 276h6v6h-6zM338 312h7v6h-7z"/>
<path fill="#3f005e" d="M270 276h6v6h-6zM270 282h6v5h-6z"/>
<path fill="#a21191" d="M140 282h6v5h-6z"/>
<path fill="#aa1754" d="M158 282h6v5h-6z"/>
<path fill="#a21194" d="M183 282h6v5h-6z"/>
<path fill="#9c0db7" d="M202 282h6v5h-6z"/>
<path fill="#3c0058" d="M264 282h6v5h-6zM264 287h6v5h-6zM227 307h6v5h-6zM301 323h6v5h-6zM388 364h6v5h-6zM189 400h7v5h-7z"/>
<path fill="#8e08ee" d="M133 287h7v5h-7z"/>
<path fill="#49007e" d="M233 287h6v5h-6zM227 297h6v5h-6zM158 328h6v5h-6zM407 374h6v5h-6zM413 384h6v5h-6z"/>
<path fill="#8d07ee" d="M158 292h6v5h-6z"/>
<path fill="#43006b" d="M233 292h6v5h-6zM301 302h6v5h-6zM208 312h6v6h-6zM133 369h7v5h-7zM133 374h7v5h-7zM146 379h6v5h-6zM407 405h6v5h-6z"/>
<path fill="#54009f" d="M220 297h7v5h-7zM214 302h6v5h-6z"/>
<path fill="#3d005a" d="M233 297h6v5h-6zM239 307h6v5h-6zM301 307h6v5h-6zM220 312h7v6h-7zM382 343h6v5h-6zM146 374h6v5h-6zM102 384h6v5h-6z"/>
<path fill="#43006c" d="M351 297h6v5h-6zM314 307h6v5h-6zM320 307h6v5h-6zM326 307h6v5h-6zM332 307h6v5h-6zM127 353h6v6h-6zM133 379h7v5h-7z"/>
<path fill="#420068" d="M357 297h6v5h-6zM307 307h7v5h-7zM376 328h6v5h-6zM394 359h7v5h-7zM401 374h6v5h-6z"/>
<path fill="#43006a" d="M227 302h6v5h-6z"/>
<path fill="#38004b" d="M258 302h6v5h-6zM264 302h6v5h-6zM289 302h6v5h-6zM376 405h6v5h-6z"/>
<path fill="#31003a" d="M276 302h7v5h-7zM363 338h7v5h-7zM146 359h6v5h-6zM388 389h6v6h-6z"/>
<path fill="#360048" d="M283 302h6v5h-6zM382 405h6v5h-6z"/>
<path fill="#43006d" d="M338 302h7v5h-7zM127 369h6v5h-6z"/>
<path fill="#410066" d="M345 302h6v5h-6zM158 333h6v5h-6zM96 384h6v5h-6zM96 389h6v6h-6z"/>
<path fill="#48007c" d="M363 302h7v5h-7zM108 369h7v5h-7zM115 369h6v5h-6z"/>
<path fill="#42006a" d="M220 307h7v5h-7z"/>
<path fill="#38004c" d="M245 307h6v5h-6zM351 318h6v5h-6zM289 328h6v5h-6zM283 333h6v5h-6zM370 333h6v5h-6zM283 338h6v5h-6zM146 343h6v5h-6zM283 343h6v5h-6zM164 348h7v5h-7zM289 348h6v5h-6zM376 348h6v5h-6zM382 369h6v5h-6zM401 400h6v5h-6z"/>
<path fill="#370049" d="M251 307h7v5h-7zM258 307h6v5h-6zM264 307h6v5h-6zM289 307h6v5h-6zM233 312h6v6h-6zM320 353h6v6h-6zM376 353h6v6h-6z"/>
<path fill="#32003c" d="M270 307h6v5h-6zM363 348h7v5h-7zM152 359h6v5h-6zM376 379h6v5h-6zM394 395h7v5h-7z"/>
<path fill="#300039" d="M276 307h7v5h-7zM158 359h6v5h-6zM363 379h7v5h-7zM370 379h6v5h-6zM382 384h6v5h-6zM363 395h7v5h-7zM370 395h6v5h-6zM394 400h7v5h-7z"/>
<path fill="#3c0057" d="M295 307h6v5h-6zM357 307h6v5h-6zM227 312h6v6h-6zM295 312h6v6h-6zM301 312h6v6h-6zM314 333h6v5h-6zM320 333h6v5h-6zM320 338h6v5h-6zM382 348h6v5h-6zM401 384h6v5h-6z"/>
<path fill="#3c0056" d="M345 307h6v5h-6z"/>
<path fill="#6301ce" d="M177 312h6v6h-6zM401 328h6v5h-6zM419 359h6v5h-6z"/>
<path fill="#420069" d="M214 312h6v6h-6zM314 312h6v6h-6zM320 312h6v6h-6zM326 312h6v6h-6zM332 312h6v6h-6zM140 384h6v5h-6zM407 384h6v5h-6zM189 405h7v5h-7z"/>
<path fill="#360047" d="M239 312h6v6h-6zM245 312h6v6h-6zM251 312h7v6h-7zM258 312h6v6h-6zM264 312h6v6h-6zM270 312h6v6h-6zM276 312h7v6h-7zM283 312h6v6h-6zM363 328h7v5h-7zM376 359h6v5h-6zM146 364h6v5h-6zM388 379h6v5h-6z"/>
<path fill="#390050" d="M351 312h6v6h-6zM363 323h7v5h-7zM171 395h6v5h-6zM196 400h6v5h-6z"/>
<path fill="#6001c6" d="M164 318h7v5h-7zM432 374h6v5h-6zM488 384h6v5h-6zM512 410h7v5h-7z"/>
<path fill="#4a007f" d="M189 318h7v5h-7zM140 389h6v6h-6zM407 415h6v5h-6z"/>
<path fill="#450071" d="M202 318h6v5h-6zM376 323h6v5h-6zM177 328h6v5h-6zM413 400h6v5h-6zM183 405h6v5h-6zM202 410h6v5h-6zM208 415h6v5h-6zM214 415h6v5h-6zM220 415h7v5h-7zM227 415h6v5h-6zM233 415h6v5h-6zM239 415h6v5h-6zM245 415h6v5h-6zM251 415h7v5h-7zM258 415h6v5h-6zM264 415h6v5h-6zM270 415h6v5h-6zM276 415h7v5h-7zM283 415h6v5h-6zM289 415h6v5h-6zM295 415h6v5h-6zM301 415h6v5h-6zM307 415h7v5h-7zM314 415h6v5h-6zM320 415h6v5h-6zM326 415h6v5h-6zM332 415h6v5h-6zM338 415h7v5h-7zM345 415h6v5h-6zM351 415h6v5h-6zM357 415h6v5h-6zM363 415h7v5h-7zM370 415h6v5h-6zM376 415h6v5h-6zM382 415h6v5h-6zM388 415h6v5h-6zM394 415h7v5h-7zM401 415h6v5h-6z"/>
<path fill="#420067" d="M208 318h6v5h-6zM388 348h6v5h-6zM127 364h6v5h-6zM363 410h7v5h-7zM394 410h7v5h-7z"/>
<path fill="#3e005e" d="M214 318h6v5h-6z"/>
<path fill="#3b0055" d="M220 318h7v5h-7zM338 323h7v5h-7zM301 328h6v5h-6zM370 328h6v5h-6zM307 333h7v5h-7zM152 338h6v5h-6zM314 338h6v5h-6zM394 374h7v5h-7z"/>
<path fill="#350045" d="M239 318h6v5h-6zM270 318h6v5h-6zM276 318h7v5h-7zM283 318h6v5h-6zM357 328h6v5h-6zM376 369h6v5h-6zM394 384h7v5h-7z"/>
<path fill="#350043" d="M264 318h6v5h-6zM332 343h6v5h-6zM370 343h6v5h-6zM326 348h6v5h-6zM332 405h6v5h-6z"/>
<path fill="#3d0058" d="M338 318h7v5h-7z"/>
<path fill="#39004d" d="M357 318h6v5h-6z"/>
<path fill="#2f0037" d="M233 323h6v5h-6zM351 338h6v5h-6zM345 343h6v5h-6zM345 348h6v5h-6zM345 353h6v6h-6zM351 359h6v5h-6zM152 364h6v5h-6z"/>
<path fill="#2e0035" d="M239 323h6v5h-6zM245 323h6v5h-6zM251 323h7v5h-7zM171 389h6v6h-6z"/>
<path fill="#330040" d="M258 323h6v5h-6zM264 328h6v5h-6zM270 328h6v5h-6zM276 328h7v5h-7zM283 328h6v5h-6zM227 333h6v5h-6zM264 333h6v5h-6zM270 333h6v5h-6zM276 333h7v5h-7zM351 333h6v5h-6zM357 333h6v5h-6zM227 338h6v5h-6zM264 338h6v5h-6zM270 338h6v5h-6zM276 338h7v5h-7zM345 338h6v5h-6zM227 343h6v5h-6zM264 343h6v5h-6zM270 343h6v5h-6zM276 343h7v5h-7zM338 343h7v5h-7zM183 348h6v5h-6zM227 348h6v5h-6zM270 348h6v5h-6zM276 348h7v5h-7zM283 348h6v5h-6zM332 348h6v5h-6zM338 348h7v5h-7zM171 353h6v6h-6zM177 353h6v6h-6zM183 353h6v6h-6zM189 353h7v6h-7zM276 353h7v6h-7zM283 353h6v6h-6zM289 353h6v6h-6zM295 353h6v6h-6zM332 353h6v6h-6zM338 353h7v6h-7zM196 359h6v5h-6zM220 359h7v5h-7zM283 359h6v5h-6zM289 359h6v5h-6zM295 359h6v5h-6zM301 359h6v5h-6zM307 359h7v5h-7zM314 359h6v5h-6zM320 359h6v5h-6zM326 359h6v5h-6zM332 359h6v5h-6zM338 359h7v5h-7zM345 359h6v5h-6zM202 364h6v5h-6zM208 364h6v5h-6zM214 364h6v5h-6zM295 364h6v5h-6zM301 364h6v5h-6zM307 364h7v5h-7zM314 364h6v5h-6zM320 364h6v5h-6zM326 364h6v5h-6zM332 364h6v5h-6zM338 364h7v5h-7zM345 364h6v5h-6zM351 364h6v5h-6zM357 364h6v5h-6zM363 364h7v5h-7zM370 364h6v5h-6zM332 369h6v5h-6zM338 369h7v5h-7zM345 369h6v5h-6zM351 369h6v5h-6zM357 369h6v5h-6zM363 369h7v5h-7zM370 369h6v5h-6zM338 374h7v5h-7zM345 374h6v5h-6zM351 374h6v5h-6zM357 374h6v5h-6zM382 379h6v5h-6zM189 395h7v5h-7zM196 395h6v5h-6zM202 395h6v5h-6zM214 400h6v5h-6zM220 400h7v5h-7zM227 400h6v5h-6zM283 400h6v5h-6zM289 400h6v5h-6zM295 400h6v5h-6zM338 405h7v5h-7zM345 405h6v5h-6zM351 405h6v5h-6zM357 405h6v5h-6z"/>
<path fill="#3e005d" d="M370 323h6v5h-6zM307 328h7v5h-7zM202 338h6v5h-6zM202 343h6v5h-6zM202 348h6v5h-6zM208 353h6v6h-6zM394 369h7v5h-7z"/>
<path fill="#4d0089" d="M382 323h6v5h-6z"/>
<path fill="#5600a8" d="M388 323h6v5h-6z"/>
<path fill="#5f01c4" d="M394 323h7v5h-7zM407 338h6v5h-6zM506 410h6v5h-6z"/>
<path fill="#5400a0" d="M152 328h6v5h-6zM152 395h6v5h-6zM177 415h6v5h-6z"/>
<path fill="#4b0083" d="M164 328h7v5h-7z"/>
<path fill="#3f0061" d="M183 328h6v5h-6zM140 374h6v5h-6zM177 400h6v5h-6z"/>
<path fill="#2f0035" d="M233 328h6v5h-6zM233 333h6v5h-6zM233 338h6v5h-6zM233 343h6v5h-6zM233 348h6v5h-6zM227 353h6v6h-6zM227 359h6v5h-6zM220 364h7v5h-7zM363 389h7v6h-7zM370 389h6v6h-6zM376 389h6v6h-6zM382 389h6v6h-6zM208 395h6v5h-6zM233 400h6v5h-6z"/>
<path fill="#2e0033" d="M239 328h6v5h-6zM245 328h6v5h-6zM251 328h7v5h-7zM239 343h6v5h-6zM245 343h6v5h-6zM251 343h7v5h-7zM351 343h6v5h-6zM357 343h6v5h-6zM239 348h6v5h-6zM245 348h6v5h-6zM251 348h7v5h-7zM258 348h6v5h-6zM351 348h6v5h-6zM357 348h6v5h-6zM233 353h6v6h-6zM239 353h6v6h-6zM245 353h6v6h-6zM251 353h7v6h-7zM258 353h6v6h-6zM264 353h6v6h-6zM351 353h6v6h-6zM357 353h6v6h-6zM177 359h6v5h-6zM183 359h6v5h-6zM233 359h6v5h-6zM239 359h6v5h-6zM245 359h6v5h-6zM251 359h7v5h-7zM258 359h6v5h-6zM264 359h6v5h-6zM270 359h6v5h-6zM357 359h6v5h-6zM171 364h6v5h-6zM177 364h6v5h-6zM183 364h6v5h-6zM189 364h7v5h-7zM227 364h6v5h-6zM233 364h6v5h-6zM239 364h6v5h-6zM245 364h6v5h-6zM251 364h7v5h-7zM258 364h6v5h-6zM264 364h6v5h-6zM270 364h6v5h-6zM276 364h7v5h-7zM283 364h6v5h-6zM164 369h7v5h-7zM202 369h6v5h-6zM208 369h6v5h-6zM214 369h6v5h-6zM220 369h7v5h-7zM270 369h6v5h-6zM276 369h7v5h-7zM283 369h6v5h-6zM289 369h6v5h-6zM295 369h6v5h-6zM301 369h6v5h-6zM307 369h7v5h-7zM314 369h6v5h-6zM164 374h7v5h-7zM276 374h7v5h-7zM283 374h6v5h-6zM289 374h6v5h-6zM295 374h6v5h-6zM301 374h6v5h-6zM307 374h7v5h-7zM314 374h6v5h-6zM320 374h6v5h-6zM326 374h6v5h-6zM283 379h6v5h-6zM289 379h6v5h-6zM295 379h6v5h-6zM301 379h6v5h-6zM307 379h7v5h-7zM314 379h6v5h-6zM320 379h6v5h-6zM326 379h6v5h-6zM332 379h6v5h-6zM338 379h7v5h-7zM345 379h6v5h-6zM351 379h6v5h-6zM357 379h6v5h-6zM171 384h6v5h-6zM283 384h6v5h-6zM289 384h6v5h-6zM295 384h6v5h-6zM301 384h6v5h-6zM307 384h7v5h-7zM314 384h6v5h-6zM320 384h6v5h-6zM326 384h6v5h-6zM332 384h6v5h-6zM338 384h7v5h-7zM345 384h6v5h-6zM351 384h6v5h-6zM357 384h6v5h-6zM177 389h6v6h-6zM183 389h6v6h-6zM189 389h7v6h-7zM196 389h6v6h-6zM202 389h6v6h-6zM283 389h6v6h-6zM289 389h6v6h-6zM295 389h6v6h-6zM301 389h6v6h-6zM307 389h7v6h-7zM314 389h6v6h-6zM320 389h6v6h-6zM326 389h6v6h-6zM332 389h6v6h-6zM338 389h7v6h-7zM214 395h6v5h-6zM220 395h7v5h-7zM227 395h6v5h-6zM233 395h6v5h-6zM264 395h6v5h-6zM270 395h6v5h-6zM276 395h7v5h-7zM283 395h6v5h-6zM289 395h6v5h-6zM295 395h6v5h-6zM301 395h6v5h-6zM307 395h7v5h-7zM314 395h6v5h-6zM320 395h6v5h-6zM326 395h6v5h-6zM332 395h6v5h-6zM338 395h7v5h-7zM345 395h6v5h-6zM351 395h6v5h-6zM357 395h6v5h-6zM239 400h6v5h-6zM245 400h6v5h-6zM251 400h7v5h-7zM258 400h6v5h-6zM264 400h6v5h-6zM270 400h6v5h-6zM307 400h7v5h-7zM314 400h6v5h-6zM320 400h6v5h-6zM326 400h6v5h-6zM332 400h6v5h-6zM338 400h7v5h-7zM345 400h6v5h-6zM351 400h6v5h-6zM357 400h6v5h-6z"/>
<path fill="#32003e" d="M258 328h6v5h-6zM258 333h6v5h-6zM258 338h6v5h-6zM258 343h6v5h-6zM264 348h6v5h-6zM270 353h6v6h-6zM276 359h7v5h-7zM363 359h7v5h-7zM289 364h6v5h-6zM152 369h6v5h-6zM363 374h7v5h-7zM370 374h6v5h-6zM276 400h7v5h-7zM363 400h7v5h-7zM370 400h6v5h-6z"/>
<path fill="#48007b" d="M382 328h6v5h-6zM394 348h7v5h-7zM96 374h6v5h-6zM108 395h7v5h-7z"/>
<path fill="#44006d" d="M152 333h6v5h-6zM382 333h6v5h-6zM121 369h6v5h-6zM102 374h6v5h-6zM108 374h7v5h-7zM115 374h6v5h-6zM121 374h6v5h-6zM127 374h6v5h-6z"/>
<path fill="#260023" d="M239 333h6v5h-6zM239 338h6v5h-6zM227 369h6v5h-6zM208 389h6v6h-6zM239 395h6v5h-6z"/>
<path fill="#240020" d="M245 333h6v5h-6zM245 338h6v5h-6zM177 369h6v5h-6zM183 369h6v5h-6zM189 369h7v5h-7zM233 369h6v5h-6zM239 369h6v5h-6zM245 369h6v5h-6zM251 369h7v5h-7zM258 369h6v5h-6zM177 374h6v5h-6zM202 374h6v5h-6zM208 374h6v5h-6zM214 374h6v5h-6zM220 374h7v5h-7zM227 374h6v5h-6zM233 374h6v5h-6zM239 374h6v5h-6zM245 374h6v5h-6zM251 374h7v5h-7zM258 374h6v5h-6zM264 374h6v5h-6zM177 379h6v5h-6zM202 379h6v5h-6zM227 379h6v5h-6zM233 379h6v5h-6zM239 379h6v5h-6zM245 379h6v5h-6zM251 379h7v5h-7zM258 379h6v5h-6zM264 379h6v5h-6zM270 379h6v5h-6zM183 384h6v5h-6zM189 384h7v5h-7zM196 384h6v5h-6zM202 384h6v5h-6zM227 384h6v5h-6zM233 384h6v5h-6zM264 384h6v5h-6zM270 384h6v5h-6zM214 389h6v6h-6zM220 389h7v6h-7zM227 389h6v6h-6zM233 389h6v6h-6zM264 389h6v6h-6zM270 389h6v6h-6zM351 389h6v6h-6zM245 395h6v5h-6zM251 395h7v5h-7z"/>
<path fill="#2c0030" d="M251 333h7v5h-7zM251 338h7v5h-7zM264 369h6v5h-6zM270 374h6v5h-6zM276 379h7v5h-7zM276 384h7v5h-7zM276 389h7v6h-7zM258 395h6v5h-6z"/>
<path fill="#2e0034" d="M357 338h6v5h-6zM171 359h6v5h-6zM164 364h7v5h-7zM158 374h6v5h-6zM164 379h7v5h-7zM376 400h6v5h-6z"/>
<path fill="#3a0053" d="M376 338h6v5h-6zM388 369h6v5h-6z"/>
<path fill="#7602f9" d="M432 338h6v5h-6z"/>
<path fill="#31003b" d="M363 343h7v5h-7zM146 348h6v5h-6zM158 364h6v5h-6z"/>
<path fill="#450070" d="M388 343h6v5h-6z"/>
<path fill="#6801db" d="M115 348h6v5h-6zM475 379h6v5h-6z"/>
<path fill="#38004d" d="M140 348h6v5h-6zM189 348h7v5h-7zM196 353h6v6h-6zM307 353h7v6h-7zM140 359h6v5h-6zM202 359h6v5h-6zM388 374h6v5h-6z"/>
<path fill="#53009f" d="M121 353h6v6h-6z"/>
<path fill="#330041" d="M140 353h6v6h-6z"/>
<path fill="#2f0036" d="M152 353h6v6h-6zM164 384h7v5h-7zM376 384h6v5h-6zM376 395h6v5h-6zM388 395h6v5h-6zM301 400h6v5h-6z"/>
<path fill="#500092" d="M407 364h6v5h-6zM425 405h7v5h-7z"/>
<path fill="#2d0032" d="M158 369h6v5h-6z"/>
<path fill="#250022" d="M171 369h6v5h-6zM171 374h6v5h-6zM171 379h6v5h-6zM177 384h6v5h-6z"/>
<path fill="#2d0031" d="M196 369h6v5h-6zM388 400h6v5h-6z"/>
<path fill="#300038" d="M320 369h6v5h-6z"/>
<path fill="#5800ac" d="M84 374h6v5h-6zM444 400h6v5h-6z"/>
<path fill="#1c0013" d="M183 374h6v5h-6zM183 379h6v5h-6zM208 379h6v5h-6zM208 384h6v5h-6z"/>
<path fill="#1a0011" d="M189 374h7v5h-7zM189 379h7v5h-7zM214 379h6v5h-6zM214 384h6v5h-6z"/>
<path fill="#23001f" d="M196 374h6v5h-6zM196 379h6v5h-6z"/>
<path fill="#350046" d="M382 374h6v5h-6z"/>
<path fill="#340043" d="M158 379h6v5h-6zM164 389h7v6h-7z"/>
<path fill="#23001e" d="M220 379h7v5h-7zM220 384h7v5h-7z"/>
<path fill="#4b0082" d="M84 384h6v5h-6z"/>
<path fill="#0e0005" d="M239 384h6v5h-6zM239 389h6v6h-6z"/>
<path fill="#000000" d="M245 384h6v5h-6zM251 384h7v5h-7zM245 389h6v6h-6zM251 389h7v6h-7z"/>
<path fill="#21001b" d="M258 384h6v5h-6zM258 389h6v6h-6z"/>
<path fill="#300037" d="M363 384h7v5h-7zM370 384h6v5h-6z"/>
<path fill="#270025" d="M345 389h6v6h-6z"/>
<path fill="#5600a9" d="M90 395h6v5h-6z"/>
<path fill="#2d0033" d="M382 395h6v5h-6z"/>
<path fill="#5900af" d="M444 395h6v5h-6zM450 405h7v5h-7z"/>
<path fill="#2a002c" d="M382 400h6v5h-6z"/>
<path fill="#5e01c2" d="M512 405h7v5h-7z"/>
<path fill="#400064" d="M376 410h6v5h-6zM382 410h6v5h-6z"/>
<rect x="535" y="57" width="23" height="363" fill="url(#cb)"/>
</g>
<path shape-rendering="crispEdges" fill="none" stroke="#128ef8" stroke-width="1" stroke-linejoin="round" d="M75.5 104.0L79.0 103.5L83.0 105.5L85.5 102.5L83.0 100.5L79.5 98.5L77.5 97.0M170.0 98.5L168.0 100.0L166.0 101.0L163.5 100.0L160.5 99.0L157.5 98.0L153.5 97.0L150.0 96.5L145.0 96.0L142.0 95.0L139.0 94.0L136.0 95.0L133.0 96.0L129.5 96.5L124.5 95.5L120.0 94.0L114.5 94.0L110.5 92.5L104.0 92.5L99.5 94.0L95.0 96.0L92.5 98.0L93.0 100.0L97.0 100.5L93.0 103.0L90.5 103.5L95.0 104.0L99.5 106.0L95.0 109.0L94.0 113.0L97.0 117.0L103.0 119.0L100.0 122.5L97.5 125.5L102.0 122.0L106.0 118.0L109.5 115.5L112.5 113.0L114.5 115.0L119.0 114.0L124.5 115.0L130.0 116.5L133.5 118.5L135.0 121.5L138.0 125.5L140.5 129.0L142.5 133.0L146.0 137.5L144.5 140.5L144.5 146.5M77.5 132.5L80.0 132.0M82.0 131.0L83.5 131.0M87.0 130.5L88.0 130.0M90.0 128.0L91.5 127.5M108.0 119.0L110.5 120.0M134.0 128.0L136.0 129.0M145.0 102.0L149.0 101.5L153.5 101.5L151.0 104.0L148.0 104.0L145.0 102.0M149.0 106.5L152.0 108.0L155.0 109.5L159.5 110.0L163.0 109.5L160.5 112.0L156.5 112.5L152.0 112.5M159.5 118.0L163.0 117.0L167.0 116.5L172.5 117.5L173.0 121.5L176.0 121.0L174.5 123.0M180.0 106.0L183.5 107.0L186.5 107.0L184.5 110.5L182.0 114.0L180.5 117.0L183.0 120.0L187.5 122.0L191.0 123.5L194.0 124.0M177.0 128.0L178.0 130.5L177.5 135.0L175.5 132.5L177.0 128.0M180.5 138.0L183.0 136.0L184.5 135.0M184.5 139.5L187.5 137.5L191.0 139.0L194.0 141.0M186.5 141.5L190.0 142.5L194.0 143.5M146.0 86.5L148.5 85.0L151.0 86.5L151.0 90.0L147.5 92.0L146.5 89.0L146.0 86.5M151.0 90.0L156.5 89.0L162.0 89.5L166.0 90.0L170.0 92.5L173.0 95.0L170.5 97.5L166.0 98.0L162.0 97.0L158.0 95.0L156.0 92.5L153.5 91.0M156.0 83.0L159.0 82.0L162.0 80.5L165.0 81.5L167.0 83.0L163.5 85.0L159.5 85.0L156.0 83.0M148.0 81.5L152.0 81.0L155.5 79.5M169.5 76.0L172.5 77.0L176.0 79.5L177.0 82.5L175.0 83.0L173.0 80.5L170.0 77.0M179.0 77.0L180.5 79.5L182.5 82.0M159.5 78.0L163.5 77.0M172.0 88.0L175.0 86.5L177.0 89.0L177.0 91.5L174.0 90.5L172.0 88.0M181.0 87.5L184.0 86.0L184.5 88.5L182.0 89.0L181.0 87.5M187.5 71.0L191.0 70.0L194.0 69.5M182.0 82.5L186.5 81.5L191.0 82.0L194.0 82.0M189.0 91.0L191.0 89.0L194.0 88.5M188.0 92.0L189.0 94.0L192.0 94.5L194.0 94.5M179.0 92.5L183.0 93.0L183.5 97.0L182.0 100.0L184.5 102.0M184.5 97.5L188.5 99.0L194.0 98.5M211.0 79.0L214.5 76.5L219.5 73.5L221.0 70.5L227.0 69.0L235.0 68.5L243.0 68.0L250.0 67.0L258.5 67.0L269.0 67.5L267.5 70.0L267.0 72.5L274.5 72.0L282.0 71.0L278.5 73.0L275.0 76.0L276.5 79.0L273.0 83.0L269.0 87.0L266.0 90.5L271.0 91.0L266.0 93.5L268.0 95.5L264.5 97.0L258.5 98.0L256.0 101.5L251.0 103.0L248.5 106.0L247.0 110.5L245.5 115.0L243.0 113.0L239.0 113.0L237.5 108.5L235.5 105.0L233.5 101.5L232.5 99.0L235.0 97.5L234.5 92.5L231.5 91.0L229.5 87.0L226.0 84.0L222.0 82.5L216.5 81.5L212.0 80.5L211.0 79.0M194.0 70.0L199.5 68.5L205.0 68.0L213.0 68.0L219.5 68.5L220.0 70.5L216.5 72.5L213.0 74.0L208.0 75.5L204.5 76.5L200.5 79.0L198.0 81.5L194.0 82.5M194.0 72.5L198.5 71.5L203.5 70.5M194.0 76.0L198.0 75.0L201.5 73.5M194.0 85.0L198.0 85.0L200.5 83.0M194.0 89.0L198.5 89.0L203.5 90.0L208.0 92.5L213.0 95.5L217.5 99.0L222.0 102.0L222.0 105.0L218.5 104.0L216.5 106.0L219.5 108.5L214.5 110.5L211.0 108.5L207.0 107.5L203.5 106.0L206.0 104.0L212.0 102.0L209.0 100.0L204.5 97.5L199.5 95.5L196.0 94.5L194.0 95.5M194.0 106.0L196.0 107.5L199.5 109.5L202.5 111.5L205.0 112.0L210.0 112.5L213.0 115.0L215.5 119.0L219.5 116.0L222.0 120.0L225.0 123.5L228.0 127.5L229.5 131.0L227.0 134.0L222.0 136.0L217.5 137.5L213.5 140.5L211.0 143.0L208.0 146.0M202.5 111.5L203.0 115.0L202.5 121.0L203.0 126.5L201.5 132.0L198.5 130.0L196.0 127.5L194.0 125.5M199.0 122.5L201.5 123.5M228.0 132.0L230.5 131.0L232.5 136.0L233.5 142.5L230.5 141.5L228.0 137.5L228.0 132.0M271.0 103.0L274.5 101.5L280.0 101.5L280.5 105.0L277.5 107.0L273.0 106.5L271.0 103.0M289.0 92.0L289.5 92.5M316.0 76.0L319.5 75.0L325.0 74.0L334.5 74.0L330.0 76.0L327.0 76.5L329.0 79.0L324.5 79.5L320.5 81.5L318.5 78.0L316.0 76.0M353.5 74.0L358.0 73.5L363.0 74.0M377.0 73.0L380.0 72.5M365.5 90.5L368.5 87.0L374.0 84.0L379.5 82.5L385.0 80.5L379.5 83.0L374.0 86.0L369.5 89.0L371.0 92.5L367.5 91.5L365.5 90.5M314.0 105.0L317.0 101.0L320.5 98.0L325.0 95.5L331.0 94.0L335.0 93.5L338.5 96.0L344.0 98.5L348.5 100.5L351.5 101.5L347.0 102.0L341.0 102.5L343.0 105.5L348.0 106.0L352.5 105.5L354.5 103.0L355.0 99.0L357.0 102.0L363.0 98.5L370.0 98.0L378.0 97.0L383.5 95.5L385.0 92.0L391.0 91.5L390.0 95.5L392.0 98.0L389.0 102.0L385.0 102.0L382.5 101.5M391.0 91.5L393.5 94.5L394.5 97.5L397.5 100.0L400.0 102.0M393.0 91.0L396.5 91.5L399.5 90.0L401.0 89.0L402.0 91.5L404.5 94.5M401.0 89.0L406.0 87.0L409.5 84.0L414.5 82.5L421.0 81.5L426.5 80.0L430.0 81.0L434.0 82.5M414.5 74.0L417.0 73.0L421.0 74.0L424.5 76.0L421.0 76.5L417.0 76.0L414.5 74.0M425.5 75.0L426.5 78.5M392.0 146.0L395.5 145.0L399.0 143.0M404.0 87.5L407.0 85.0L410.5 83.0L415.0 82.5L421.0 81.5L425.0 81.0L427.5 79.0L432.0 81.5L438.5 83.0L436.0 85.0L433.5 86.5L439.5 87.0L447.0 87.0L455.5 87.5L458.5 90.5L462.0 92.0L468.0 91.0L473.5 89.0L483.0 89.0L488.5 91.5L496.0 93.5L503.5 95.5L509.0 94.5L516.5 95.5L524.0 97.0M470.5 83.0L473.0 82.5L478.0 83.0L483.5 84.0L479.0 85.0L474.5 85.0L470.5 83.0M468.5 127.5L471.5 121.5L474.5 118.0L481.0 117.0L486.5 116.5L491.0 116.0L492.5 113.0L495.0 111.5L497.5 113.0L500.5 112.5L503.5 111.5M494.0 113.0L493.5 121.0L493.5 133.0L498.5 127.5L501.5 122.5L502.5 119.0L504.5 115.5L511.0 113.0L516.5 111.5L521.0 108.5L524.0 104.0M468.5 127.5L471.5 130.0L473.5 134.0L472.5 139.5L469.5 143.5L467.5 146.5M476.0 126.5L477.0 132.0L478.0 137.5L477.0 143.0L476.0 146.5M475.0 130.0L475.0 139.5M513.5 129.0L514.0 129.5M519.5 131.0L519.5 133.0M144.5 147.0L145.0 151.5L146.0 157.5L149.0 163.0L152.0 167.5L154.0 171.5L156.5 177.0L158.5 181.5L160.5 187.5L162.5 188.5L162.0 184.5L160.0 180.0L158.0 176.5L160.5 178.0L163.5 183.5L167.0 189.0L169.5 195.0L171.5 199.5L174.5 202.5L179.0 205.0L184.5 207.5L189.5 210.0L194.0 212.5M194.0 177.0L188.5 177.5L183.0 179.0L179.5 181.5L178.5 186.5L179.0 193.0L182.0 196.5L185.5 197.5L190.0 196.0L194.0 194.0M101.0 193.0L104.0 195.0L105.5 197.0M158.0 152.0L159.0 151.5M213.0 147.0L210.0 151.5L207.0 156.5L205.0 161.0L203.5 163.0L202.5 166.5L200.5 171.5L198.5 175.0L198.0 179.0L199.0 183.5L197.0 181.5L194.0 180.0M194.0 149.0L198.0 150.0L202.5 148.0L205.0 147.0M194.0 193.0L198.0 194.0L202.5 195.5L207.0 197.5M207.0 202.0L210.0 200.5L212.5 200.0M202.5 187.5L205.0 188.5M216.0 201.5L216.5 201.5M194.0 209.0L195.5 212.5L196.0 217.5L199.5 220.0L202.5 222.0L203.5 226.0L202.5 231.5L201.5 236.5M202.5 222.0L205.0 219.0L209.0 217.0L211.0 215.0L213.0 216.5L217.5 218.0L222.0 220.0L227.0 224.0L230.5 227.5L233.5 232.5L234.5 236.5M284.0 181.0L282.0 186.5L280.0 192.0L279.5 199.5L279.5 207.0L280.5 212.5L282.0 218.0L285.0 224.0L289.5 227.0L295.0 228.5L302.0 227.5L306.5 229.5L310.0 233.0L311.0 236.5M342.0 186.5L345.0 194.0L348.0 201.5L350.5 208.0L352.5 213.5L358.0 215.5L363.0 214.0L363.0 220.0L361.0 226.0L358.0 231.5L355.5 236.5M343.0 181.5L346.0 188.0L348.5 196.0L351.5 203.0L354.0 208.5L357.5 211.0L363.0 209.0L367.5 204.0L370.0 200.5L372.5 196.0L372.0 192.0L368.5 189.0L364.5 185.5L362.0 181.5M364.0 181.5L368.5 185.5L374.0 187.5L378.5 188.0L383.5 191.5L388.5 196.5L390.0 203.0L392.0 211.0L394.0 219.0L397.5 216.5L400.0 211.0L402.0 205.0L407.0 199.5L411.5 194.0L415.0 198.5L419.0 205.0L421.0 212.5L422.5 220.0L424.5 226.0L426.5 231.5L427.5 236.5M399.5 221.0L398.5 225.0L399.0 226.5M423.0 211.0L425.5 214.5L428.5 217.5L432.0 216.5L434.0 211.0M417.0 226.5L420.0 230.5L422.0 234.0L423.0 236.5M394.5 152.0L395.0 152.5M450.0 177.0L450.5 169.5L450.0 164.0L448.0 161.5L445.5 160.0L450.0 156.0L453.0 157.5L455.5 161.0L457.0 166.0L459.5 160.0L461.0 154.5L464.0 151.0L468.0 147.0M474.5 147.0L475.0 151.0L474.0 155.5L471.5 159.0L468.5 162.0L464.0 166.0L467.0 167.0L471.5 166.0L475.0 164.0M475.0 151.0L478.0 149.0L477.0 147.0M461.0 170.5L464.0 168.5L462.5 173.0L461.0 170.5M404.0 202.5L408.0 198.5L412.0 193.5L415.5 199.0L419.5 205.5L421.0 211.5L422.5 218.0L424.5 224.0L426.0 230.0L427.5 235.0L428.0 237.0M423.0 237.0L417.5 226.5L423.0 231.5L426.5 237.0M423.5 210.5L427.5 215.5L430.0 217.5L432.5 217.0L433.5 210.5L433.5 203.5L434.0 198.0L437.5 197.0L435.0 197.5L435.0 193.5L440.0 192.5L445.0 188.5L448.5 186.5L451.0 186.5L448.0 185.5L449.5 181.5L450.5 177.0M450.0 200.5L451.5 201.0L452.5 205.0L451.5 210.0L449.5 209.0L449.5 203.5L450.0 200.5M447.5 216.0L448.0 216.5M451.5 224.0L454.5 220.0L455.5 218.5L455.0 224.0L455.5 226.0L453.0 225.0L451.5 224.0M437.0 237.0L439.0 235.0L443.0 228.5L445.5 224.5L446.5 231.0L446.0 237.0M201.5 237.0L200.0 241.5L199.5 247.5L201.0 254.0L202.5 260.5L204.5 267.0L208.0 272.5L212.0 277.5L211.0 286.0L211.0 295.0L210.0 304.5L208.5 314.0L208.5 326.5M236.0 237.0L238.0 241.0L243.0 244.0L247.5 245.5L252.0 250.0L256.0 255.0L254.0 261.5L251.0 269.0L250.0 276.5L249.0 284.0L244.5 286.5L240.0 289.5L238.0 295.0L237.0 302.5L233.5 308.0L229.5 313.0L225.0 317.5L221.0 322.5L220.0 326.5M313.0 237.0L314.0 244.5M311.0 236.0L312.5 241.0L315.0 248.0L316.0 257.5L316.0 269.0L315.5 277.5L317.5 286.5L319.5 295.0L322.0 303.5L324.5 311.0L328.0 310.0L333.0 309.0L336.5 303.5L341.0 297.0L342.5 289.5L345.0 282.0L347.5 274.5L349.5 265.0L348.5 257.5L349.0 250.0L352.5 242.5L355.0 237.0M341.0 239.0L342.0 245.5M360.0 265.0L360.5 277.5L357.5 284.0L355.0 290.5L354.5 279.0L357.5 271.5L360.0 265.0M423.0 237.0L426.5 243.5L431.0 244.5L427.5 239.0L425.5 237.0M431.0 251.0L434.0 253.0M423.0 237.0L426.5 244.0L431.0 244.5L428.0 239.0L426.5 237.0M437.0 237.0L436.0 241.0L441.5 245.5L444.5 241.0L445.5 237.0M432.0 251.0L435.0 254.0L441.5 254.0L438.0 253.0L432.0 251.0M462.5 241.5L467.0 244.0L475.0 243.5L479.0 250.0L483.0 256.0L486.0 259.5L480.0 256.5L473.5 253.5L468.0 248.0L464.0 244.5L462.5 241.5M442.5 282.0L448.0 277.5L453.0 273.5L456.0 269.0L460.0 268.5L464.5 261.5L468.5 265.0L472.0 272.0L474.5 265.0L477.0 260.5L479.0 267.0L481.0 274.5L484.0 282.0L487.5 288.5L489.5 293.0L488.5 301.0L486.5 309.0L483.0 315.0L479.0 317.5L474.5 316.5L470.5 311.0L466.0 306.5L462.0 302.5L457.5 304.0L453.0 307.0L448.0 308.0L444.0 306.5L442.5 299.0L441.5 290.5L442.5 282.0M479.5 323.0L482.0 325.0L483.0 326.5M514.5 308.0L516.5 312.0L518.5 316.5L519.5 319.5L517.5 315.0L515.5 311.0L514.5 308.0M514.5 322.5L513.0 325.0L512.5 326.5M503.5 279.5L503.5 280.0M522.0 272.5L523.0 271.5M77.5 399.5L85.0 399.5L96.5 399.5L102.0 398.5L97.0 400.0L99.5 402.0M77.5 412.0L85.0 412.5L88.0 413.5L96.5 414.0L106.0 414.0L108.0 414.5L115.0 414.5L113.5 410.5L110.5 406.0L108.5 403.0L109.5 399.0L112.5 396.5L118.0 395.0L124.5 393.5L130.0 392.5L136.0 391.0L142.5 389.5L149.0 390.0L155.5 390.0L158.5 392.0L161.0 393.0L165.0 392.0L169.5 392.0L174.5 388.5L179.0 389.5L186.5 389.5L194.0 389.5M137.0 392.0L142.5 391.0L148.0 391.0M209.0 329.0L207.5 336.5L207.0 344.0L212.0 348.5L217.5 351.0L213.0 348.0L213.5 340.0L215.5 333.5L218.5 329.0M225.5 344.5L226.0 344.5M194.0 389.5L201.5 387.5L208.0 388.5L213.0 386.0L216.0 382.5L217.0 377.0L220.0 372.5L225.0 369.5L226.0 373.0L224.0 378.0L222.0 383.5L223.5 389.0L223.0 393.0M206.0 385.0L213.0 380.5L213.5 384.5L210.0 387.5L206.0 385.0M217.5 378.0L224.0 372.0L224.0 377.0L220.0 380.5M223.0 393.0L230.5 395.5L240.0 398.5L250.0 399.0L258.0 398.0L265.0 394.5L273.0 391.0L280.0 387.5L288.5 384.0L295.0 381.0L299.0 380.0L303.5 382.5L314.0 383.0M196.0 397.5L203.5 395.0L214.5 394.0L223.0 393.0M196.0 397.5L201.5 401.0L209.0 404.0L218.5 406.0L228.5 407.0L239.0 407.5L250.0 406.0L257.0 404.0L260.5 403.0L258.0 399.5L258.0 398.0M220.0 403.5L228.5 401.0L239.0 399.5L244.0 400.0L244.5 403.5L237.0 403.0L228.5 403.5L220.0 403.5M280.0 388.0L289.5 385.0L297.0 385.0L303.5 383.5M306.0 382.5L323.5 382.5L333.0 381.0L340.5 380.0L346.5 381.5L354.0 377.5L364.5 374.0L375.0 376.5L384.0 378.5L386.0 382.5L389.5 381.5L397.5 379.5L405.0 375.0L420.5 374.0L439.5 374.0M323.5 384.0L332.0 384.0M392.0 381.0L398.0 379.5L404.5 375.0L421.0 374.0L439.0 374.0L446.0 375.5L454.5 374.0L468.0 374.0L475.5 376.5L486.0 379.5L500.5 381.5L511.0 386.0L505.5 392.0L503.5 398.0L501.5 400.5L505.5 407.5L517.0 410.0M503.5 398.0L509.5 397.0L522.0 399.0M479.0 322.0L481.5 324.0L483.0 325.5M508.5 333.5L512.0 328.5L515.0 324.0L514.0 321.0M84.0 266.5L86.0 266.5M185.5 238.0L185.5 240.0M230.5 132.0L226.5 134.5L223.5 136.0L218.5 137.5L215.0 140.0L211.0 143.0L207.0 145.5L203.0 147.5L199.0 150.0L197.0 151.0L196.0 148.5L194.5 144.5L192.0 142.0L190.0 139.0L187.5 138.0L185.0 140.0L187.5 142.0L190.5 143.0L193.0 145.5L192.0 148.0L190.5 149.0M215.0 140.5L218.0 140.0L221.0 141.5L224.0 143.0L222.5 145.5L218.5 146.0L216.5 147.0L215.5 143.5L215.0 140.5M164.0 117.0L168.5 117.0L172.0 118.0L172.5 121.0L174.0 122.5L177.5 120.5M181.0 137.5L184.5 135.0M313.0 107.0L310.0 111.0L307.5 115.0L306.5 117.0L309.0 119.0L313.0 120.5L315.0 121.0L317.5 122.5L319.0 123.5L320.5 121.0L322.5 118.0L323.0 114.0L323.0 110.0L324.0 108.0L326.0 107.5L326.0 110.0L328.0 113.0L330.0 116.5L332.5 117.0L335.5 116.5L333.5 118.0L330.0 120.5L326.0 122.5L323.0 124.5L320.5 127.0L317.5 127.5L315.0 128.0L314.0 125.5L313.5 123.5L311.5 123.0L309.0 124.0L308.0 127.5L306.5 130.5L304.5 133.5L302.0 135.5L299.0 136.5L295.0 138.0L294.5 140.0L296.5 142.0L298.5 144.5L295.5 146.5L292.5 149.0L290.0 152.5L288.5 156.0L289.0 159.5L290.5 162.0L292.0 163.5L295.0 163.0L297.5 161.5L299.0 158.5L301.0 154.5L303.0 152.5L306.0 150.5L308.5 149.5L311.5 151.0L314.0 153.0L316.0 155.0L318.5 157.0L321.5 158.0L323.0 156.0L320.5 153.0L318.5 150.0L317.0 147.5L318.5 148.5L321.0 151.5L323.5 154.5L325.0 158.5L326.0 161.5L328.5 162.0L329.5 159.5L328.5 156.5L330.5 156.0L333.5 155.5M284.0 180.5L286.5 176.0L288.5 171.0L291.0 166.5L292.5 165.0L295.5 164.5L301.0 164.0L306.0 163.0L310.0 162.0L312.0 163.0L313.0 166.5L314.5 169.5L317.5 171.5L321.5 173.5L325.0 176.0L328.0 173.5L330.0 172.5L334.0 174.0L338.0 174.0L339.5 176.0L341.0 173.5L343.0 170.5L344.0 167.0L343.5 166.0L340.0 164.5L336.5 163.0L334.0 161.0L332.5 158.5L333.5 156.0M339.0 176.0L339.5 178.0L341.0 181.5M340.0 176.5L341.5 179.0L343.0 181.5M333.5 156.0L335.5 154.0L335.0 151.0L336.5 148.0L338.0 145.5L338.5 147.0L343.0 145.5L346.5 143.5L349.5 142.5L349.5 147.0L349.5 151.0L348.0 154.0L344.0 154.5L338.5 154.5L335.5 154.0M360.5 144.5L362.0 143.0L364.0 142.5L364.5 145.5L365.0 150.0L365.5 154.5L366.5 159.5L364.5 160.0L362.0 159.0L360.5 155.5L360.0 151.0L360.0 147.0L360.5 144.5M373.5 144.5L375.0 143.5L376.5 144.0L375.5 146.0L374.5 149.0M291.5 118.5L293.5 118.0L295.0 120.5L296.0 122.5L298.0 126.0L299.5 129.0L301.0 132.5L299.5 134.5L297.5 135.0L294.5 136.0L295.5 133.5L296.5 132.0L295.0 130.5L293.5 128.5L294.5 126.0L293.5 124.5L292.0 122.5L291.5 118.5M288.5 127.0L290.5 125.5L291.5 127.5L290.5 130.0L289.0 132.0L287.5 130.5L288.5 127.0M297.5 113.5L298.0 114.0M310.5 154.5L311.0 156.0M316.5 160.0L318.5 160.5M329.5 165.0L329.5 166.5M361.5 178.5L363.0 180.5L364.0 181.5"/>
<g shape-rendering="crispEdges" fill="none" stroke="#000" stroke-width="1">
<rect x="74.5" y="57.5" width="450" height="362"/>
<rect x="535.5" y="57.5" width="22" height="362"/>
<path d="M536 380.5H540M553 380.5H557"/>
<path d="M536 331.5H540M553 331.5H557"/>
<path d="M536 282.5H540M553 282.5H557"/>
<path d="M536 234.5H540M553 234.5H557"/>
<path d="M536 185.5H540M553 185.5H557"/>
<path d="M536 136.5H540M553 136.5H557"/>
<path d="M536 87.5H540M553 87.5H557"/>
</g></svg>
</body></html>
